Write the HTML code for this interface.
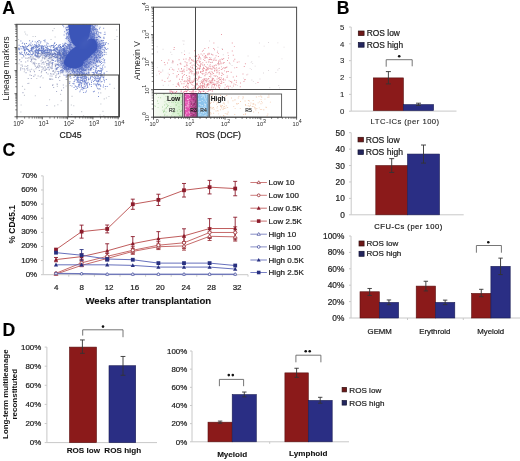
<!DOCTYPE html>
<html><head><meta charset="utf-8"><style>
html,body{margin:0;padding:0;background:#fff;width:520px;height:461px;overflow:hidden}
svg{display:block;filter:blur(0.35px)}
text{font-family:"Liberation Sans", sans-serif}
</style></head><body>
<svg width="520" height="461" viewBox="0 0 520 461" shape-rendering="auto">
<defs><filter id="bl" x="-20%" y="-20%" width="140%" height="140%"><feGaussianBlur stdDeviation="0.7"/></filter><filter id="bl2" x="-30%" y="-30%" width="160%" height="160%"><feGaussianBlur stdDeviation="2.5"/></filter></defs>
<rect width="520" height="461" fill="#fff"/>
<text x="2.20" y="14.00" font-size="17.6" font-weight="bold" fill="#000" stroke="#000" stroke-width="0.1">A</text><defs><clipPath id="cpL"><rect x="17" y="24.3" width="102.5" height="92.5"/></clipPath></defs><g clip-path="url(#cpL)"><path d="M50.5 39.0h1.1v1.1h-1.1zM83.4 31.9h1.1v1.1h-1.1zM71.9 58.4h1.1v1.1h-1.1zM23.8 71.2h1.1v1.1h-1.1zM21.8 64.5h1.1v1.1h-1.1zM25.0 33.5h1.1v1.1h-1.1zM60.7 100.1h1.1v1.1h-1.1zM30.4 45.5h1.1v1.1h-1.1zM81.1 111.1h1.1v1.1h-1.1zM76.0 61.2h1.1v1.1h-1.1zM116.1 29.5h1.1v1.1h-1.1zM104.3 51.5h1.1v1.1h-1.1zM32.5 36.0h1.1v1.1h-1.1zM49.0 99.2h1.1v1.1h-1.1zM36.2 77.9h1.1v1.1h-1.1zM82.2 59.0h1.1v1.1h-1.1zM73.0 31.0h1.1v1.1h-1.1zM24.0 43.9h1.1v1.1h-1.1zM86.4 64.0h1.1v1.1h-1.1zM49.6 78.3h1.1v1.1h-1.1zM63.5 52.4h1.1v1.1h-1.1zM97.8 88.6h1.1v1.1h-1.1zM42.5 77.3h1.1v1.1h-1.1zM70.8 104.5h1.1v1.1h-1.1zM91.3 51.4h1.1v1.1h-1.1zM116.5 36.0h1.1v1.1h-1.1zM60.0 93.8h1.1v1.1h-1.1zM33.3 69.6h1.1v1.1h-1.1zM21.9 85.8h1.1v1.1h-1.1zM94.8 77.2h1.1v1.1h-1.1zM106.0 53.7h1.1v1.1h-1.1zM87.9 79.1h1.1v1.1h-1.1zM76.3 66.6h1.1v1.1h-1.1zM102.4 110.8h1.1v1.1h-1.1zM65.6 85.4h1.1v1.1h-1.1zM24.1 88.8h1.1v1.1h-1.1zM83.0 115.2h1.1v1.1h-1.1zM100.6 51.1h1.1v1.1h-1.1zM56.8 85.8h1.1v1.1h-1.1zM20.3 67.1h1.1v1.1h-1.1zM34.9 35.9h1.1v1.1h-1.1zM23.9 94.8h1.1v1.1h-1.1zM31.0 47.7h1.1v1.1h-1.1zM57.3 104.2h1.1v1.1h-1.1zM26.1 66.0h1.1v1.1h-1.1zM73.2 105.2h1.1v1.1h-1.1zM100.3 103.5h1.1v1.1h-1.1zM46.0 62.9h1.1v1.1h-1.1zM54.1 105.3h1.1v1.1h-1.1zM114.3 39.0h1.1v1.1h-1.1zM35.7 46.3h1.1v1.1h-1.1zM41.5 69.2h1.1v1.1h-1.1zM77.2 49.1h1.1v1.1h-1.1zM18.4 63.2h1.1v1.1h-1.1zM55.1 76.6h1.1v1.1h-1.1zM113.8 87.8h1.1v1.1h-1.1zM69.8 81.2h1.1v1.1h-1.1zM86.0 30.2h1.1v1.1h-1.1zM108.4 95.9h1.1v1.1h-1.1zM105.9 97.5h1.1v1.1h-1.1zM57.4 61.4h1.1v1.1h-1.1zM28.4 82.7h1.1v1.1h-1.1zM24.3 31.4h1.1v1.1h-1.1zM39.0 40.0h1.1v1.1h-1.1zM52.2 30.1h1.1v1.1h-1.1zM18.0 39.0h1.1v1.1h-1.1zM28.2 58.2h1.1v1.1h-1.1zM20.6 104.4h1.1v1.1h-1.1zM79.7 38.7h1.1v1.1h-1.1zM43.4 56.7h1.1v1.1h-1.1zM54.6 36.4h1.1v1.1h-1.1zM103.3 115.2h1.1v1.1h-1.1zM64.8 69.1h1.1v1.1h-1.1zM26.6 34.5h1.1v1.1h-1.1zM52.4 49.3h1.1v1.1h-1.1zM101.3 39.9h1.1v1.1h-1.1zM20.3 111.4h1.1v1.1h-1.1zM71.1 38.6h1.1v1.1h-1.1zM72.6 27.7h1.1v1.1h-1.1zM71.1 113.9h1.1v1.1h-1.1zM104.8 88.3h1.1v1.1h-1.1zM44.2 58.5h1.1v1.1h-1.1zM34.8 95.2h1.1v1.1h-1.1zM71.5 95.8h1.1v1.1h-1.1zM51.1 45.5h1.1v1.1h-1.1zM99.6 114.4h1.1v1.1h-1.1zM103.7 98.3h1.1v1.1h-1.1zM100.2 92.3h1.1v1.1h-1.1zM40.8 72.1h1.1v1.1h-1.1zM53.7 27.9h1.1v1.1h-1.1z" fill="#9098a8" fill-opacity="0.5"/><path d="M22.6 48.4h0.95v0.95h-0.95zM55.5 53.9h0.95v0.95h-0.95zM63.7 43.8h0.95v0.95h-0.95zM64.7 54.6h0.95v0.95h-0.95zM63.7 50.1h0.95v0.95h-0.95zM36.7 51.8h0.95v0.95h-0.95zM35.1 51.2h0.95v0.95h-0.95zM62.1 56.5h0.95v0.95h-0.95zM60.2 46.3h0.95v0.95h-0.95zM59.0 52.1h0.95v0.95h-0.95zM27.9 45.1h0.95v0.95h-0.95zM58.4 44.7h0.95v0.95h-0.95zM57.4 49.1h0.95v0.95h-0.95zM58.6 51.7h0.95v0.95h-0.95zM41.8 53.3h0.95v0.95h-0.95zM44.5 41.3h0.95v0.95h-0.95zM44.8 55.9h0.95v0.95h-0.95zM33.6 47.8h0.95v0.95h-0.95zM30.9 54.0h0.95v0.95h-0.95zM59.2 57.8h0.95v0.95h-0.95zM32.1 54.2h0.95v0.95h-0.95zM54.3 42.2h0.95v0.95h-0.95zM42.6 48.5h0.95v0.95h-0.95zM20.7 48.2h0.95v0.95h-0.95zM64.2 49.2h0.95v0.95h-0.95zM63.1 48.2h0.95v0.95h-0.95zM46.1 55.2h0.95v0.95h-0.95zM35.9 45.0h0.95v0.95h-0.95zM38.0 49.3h0.95v0.95h-0.95zM51.8 53.5h0.95v0.95h-0.95zM38.4 48.3h0.95v0.95h-0.95zM62.4 52.6h0.95v0.95h-0.95zM42.7 45.7h0.95v0.95h-0.95zM62.2 52.9h0.95v0.95h-0.95zM45.5 54.2h0.95v0.95h-0.95zM49.9 48.7h0.95v0.95h-0.95zM49.6 54.6h0.95v0.95h-0.95zM34.3 50.2h0.95v0.95h-0.95zM18.7 49.3h0.95v0.95h-0.95zM47.6 48.5h0.95v0.95h-0.95zM56.6 48.3h0.95v0.95h-0.95zM49.4 49.7h0.95v0.95h-0.95zM50.7 51.2h0.95v0.95h-0.95zM50.9 49.2h0.95v0.95h-0.95zM37.8 48.9h0.95v0.95h-0.95zM49.0 56.8h0.95v0.95h-0.95zM51.0 51.4h0.95v0.95h-0.95zM46.5 42.6h0.95v0.95h-0.95zM52.8 46.7h0.95v0.95h-0.95zM55.5 51.0h0.95v0.95h-0.95zM46.8 46.6h0.95v0.95h-0.95zM63.3 50.9h0.95v0.95h-0.95zM55.7 57.3h0.95v0.95h-0.95zM38.4 44.0h0.95v0.95h-0.95zM50.9 57.3h0.95v0.95h-0.95zM31.6 47.1h0.95v0.95h-0.95zM30.6 48.1h0.95v0.95h-0.95zM37.4 50.4h0.95v0.95h-0.95zM27.0 46.1h0.95v0.95h-0.95zM62.0 46.1h0.95v0.95h-0.95zM32.6 48.5h0.95v0.95h-0.95zM31.9 44.4h0.95v0.95h-0.95zM61.5 54.1h0.95v0.95h-0.95zM63.6 51.2h0.95v0.95h-0.95zM44.6 39.6h0.95v0.95h-0.95zM60.0 52.4h0.95v0.95h-0.95zM33.1 45.7h0.95v0.95h-0.95zM42.1 52.1h0.95v0.95h-0.95zM35.0 47.4h0.95v0.95h-0.95zM21.5 54.1h0.95v0.95h-0.95zM50.7 50.2h0.95v0.95h-0.95zM41.7 50.5h0.95v0.95h-0.95zM53.2 49.7h0.95v0.95h-0.95zM64.6 51.7h0.95v0.95h-0.95zM58.6 53.1h0.95v0.95h-0.95zM38.7 49.7h0.95v0.95h-0.95zM23.9 49.5h0.95v0.95h-0.95zM31.1 46.7h0.95v0.95h-0.95zM45.6 56.2h0.95v0.95h-0.95zM38.3 46.5h0.95v0.95h-0.95zM32.3 53.7h0.95v0.95h-0.95zM55.8 48.9h0.95v0.95h-0.95zM28.3 54.4h0.95v0.95h-0.95zM45.7 52.5h0.95v0.95h-0.95zM26.9 53.9h0.95v0.95h-0.95zM59.0 49.5h0.95v0.95h-0.95zM27.8 50.1h0.95v0.95h-0.95zM60.9 50.5h0.95v0.95h-0.95zM46.9 48.2h0.95v0.95h-0.95zM62.9 55.6h0.95v0.95h-0.95zM38.8 53.1h0.95v0.95h-0.95zM37.3 53.1h0.95v0.95h-0.95zM29.7 50.0h0.95v0.95h-0.95zM35.4 50.8h0.95v0.95h-0.95zM40.9 48.1h0.95v0.95h-0.95zM39.8 55.8h0.95v0.95h-0.95zM48.7 52.2h0.95v0.95h-0.95zM21.3 51.8h0.95v0.95h-0.95zM37.9 55.8h0.95v0.95h-0.95zM50.6 51.4h0.95v0.95h-0.95zM34.7 41.4h0.95v0.95h-0.95zM29.5 50.7h0.95v0.95h-0.95zM59.6 47.6h0.95v0.95h-0.95zM60.1 53.3h0.95v0.95h-0.95zM44.4 44.9h0.95v0.95h-0.95zM64.5 51.6h0.95v0.95h-0.95zM42.2 53.1h0.95v0.95h-0.95zM53.6 46.2h0.95v0.95h-0.95zM44.9 49.8h0.95v0.95h-0.95zM31.1 50.5h0.95v0.95h-0.95zM26.8 49.0h0.95v0.95h-0.95zM33.2 46.9h0.95v0.95h-0.95zM27.9 53.2h0.95v0.95h-0.95zM54.8 45.0h0.95v0.95h-0.95zM39.5 50.2h0.95v0.95h-0.95zM47.1 53.6h0.95v0.95h-0.95zM32.8 47.0h0.95v0.95h-0.95zM63.9 52.7h0.95v0.95h-0.95zM64.2 49.2h0.95v0.95h-0.95zM64.0 51.0h0.95v0.95h-0.95zM40.8 50.1h0.95v0.95h-0.95zM43.9 50.5h0.95v0.95h-0.95zM47.7 48.2h0.95v0.95h-0.95zM48.8 50.7h0.95v0.95h-0.95zM19.0 48.5h0.95v0.95h-0.95zM44.7 52.0h0.95v0.95h-0.95zM24.1 52.0h0.95v0.95h-0.95zM37.0 50.3h0.95v0.95h-0.95zM51.8 45.0h0.95v0.95h-0.95zM54.3 50.0h0.95v0.95h-0.95zM56.3 53.8h0.95v0.95h-0.95zM41.5 47.8h0.95v0.95h-0.95zM64.6 55.2h0.95v0.95h-0.95zM53.8 55.7h0.95v0.95h-0.95zM24.3 52.9h0.95v0.95h-0.95zM53.3 44.5h0.95v0.95h-0.95zM56.9 52.0h0.95v0.95h-0.95zM49.6 49.0h0.95v0.95h-0.95zM48.8 54.0h0.95v0.95h-0.95zM59.8 45.9h0.95v0.95h-0.95zM51.8 55.2h0.95v0.95h-0.95zM55.5 47.8h0.95v0.95h-0.95zM36.9 51.8h0.95v0.95h-0.95zM43.0 50.7h0.95v0.95h-0.95zM29.4 51.7h0.95v0.95h-0.95zM53.3 47.1h0.95v0.95h-0.95zM53.2 49.3h0.95v0.95h-0.95zM18.6 44.8h0.95v0.95h-0.95zM58.9 51.4h0.95v0.95h-0.95zM50.0 46.6h0.95v0.95h-0.95zM54.4 56.5h0.95v0.95h-0.95zM38.0 52.3h0.95v0.95h-0.95zM27.1 48.6h0.95v0.95h-0.95zM35.6 55.6h0.95v0.95h-0.95zM57.1 55.5h0.95v0.95h-0.95zM44.0 49.7h0.95v0.95h-0.95zM47.9 48.2h0.95v0.95h-0.95zM52.9 45.4h0.95v0.95h-0.95zM53.8 52.9h0.95v0.95h-0.95zM38.1 50.9h0.95v0.95h-0.95zM57.2 49.7h0.95v0.95h-0.95zM20.5 53.1h0.95v0.95h-0.95zM25.9 48.5h0.95v0.95h-0.95zM55.5 56.5h0.95v0.95h-0.95zM54.9 50.1h0.95v0.95h-0.95zM47.3 54.8h0.95v0.95h-0.95zM47.4 56.2h0.95v0.95h-0.95zM35.2 54.9h0.95v0.95h-0.95zM64.4 52.4h0.95v0.95h-0.95zM47.1 50.3h0.95v0.95h-0.95zM59.6 55.3h0.95v0.95h-0.95zM38.8 49.2h0.95v0.95h-0.95zM35.8 52.1h0.95v0.95h-0.95zM51.7 50.1h0.95v0.95h-0.95zM31.9 40.7h0.95v0.95h-0.95zM31.3 48.2h0.95v0.95h-0.95zM59.6 44.0h0.95v0.95h-0.95zM55.9 50.8h0.95v0.95h-0.95zM36.9 53.2h0.95v0.95h-0.95zM22.2 46.4h0.95v0.95h-0.95zM18.6 44.7h0.95v0.95h-0.95zM40.4 50.3h0.95v0.95h-0.95zM31.8 47.8h0.95v0.95h-0.95zM60.2 54.1h0.95v0.95h-0.95zM18.1 48.6h0.95v0.95h-0.95zM30.5 42.6h0.95v0.95h-0.95zM62.8 49.9h0.95v0.95h-0.95zM39.8 42.6h0.95v0.95h-0.95zM43.5 40.0h0.95v0.95h-0.95zM51.9 59.2h0.95v0.95h-0.95zM43.0 47.7h0.95v0.95h-0.95zM24.8 50.3h0.95v0.95h-0.95zM29.2 50.9h0.95v0.95h-0.95zM63.1 49.2h0.95v0.95h-0.95zM37.9 49.5h0.95v0.95h-0.95zM34.7 54.0h0.95v0.95h-0.95zM43.6 57.6h0.95v0.95h-0.95zM59.4 49.4h0.95v0.95h-0.95zM53.4 58.4h0.95v0.95h-0.95zM50.5 46.4h0.95v0.95h-0.95zM56.4 56.8h0.95v0.95h-0.95zM46.8 52.4h0.95v0.95h-0.95zM57.5 49.5h0.95v0.95h-0.95zM24.9 46.7h0.95v0.95h-0.95zM62.9 54.5h0.95v0.95h-0.95zM42.3 53.2h0.95v0.95h-0.95zM40.2 49.4h0.95v0.95h-0.95zM38.4 40.2h0.95v0.95h-0.95zM54.3 49.7h0.95v0.95h-0.95zM44.5 54.8h0.95v0.95h-0.95zM33.4 50.9h0.95v0.95h-0.95zM62.2 53.8h0.95v0.95h-0.95zM48.6 52.2h0.95v0.95h-0.95zM64.9 59.5h0.95v0.95h-0.95zM46.7 52.1h0.95v0.95h-0.95zM28.4 51.1h0.95v0.95h-0.95zM42.2 52.5h0.95v0.95h-0.95zM38.3 51.4h0.95v0.95h-0.95zM51.2 55.4h0.95v0.95h-0.95zM45.2 46.6h0.95v0.95h-0.95zM45.3 47.0h0.95v0.95h-0.95zM42.0 49.7h0.95v0.95h-0.95zM26.1 47.5h0.95v0.95h-0.95zM30.8 58.8h0.95v0.95h-0.95zM48.8 45.8h0.95v0.95h-0.95zM36.1 44.6h0.95v0.95h-0.95zM38.9 50.1h0.95v0.95h-0.95zM46.6 54.2h0.95v0.95h-0.95zM63.7 56.0h0.95v0.95h-0.95zM21.8 42.9h0.95v0.95h-0.95zM23.1 47.0h0.95v0.95h-0.95zM47.6 43.2h0.95v0.95h-0.95zM51.9 54.5h0.95v0.95h-0.95zM62.9 51.7h0.95v0.95h-0.95zM59.8 57.4h0.95v0.95h-0.95zM37.8 42.4h0.95v0.95h-0.95zM29.7 51.9h0.95v0.95h-0.95zM55.2 54.8h0.95v0.95h-0.95zM63.3 50.8h0.95v0.95h-0.95zM57.9 46.2h0.95v0.95h-0.95zM47.0 49.6h0.95v0.95h-0.95zM58.4 51.1h0.95v0.95h-0.95zM37.0 54.4h0.95v0.95h-0.95zM40.5 47.6h0.95v0.95h-0.95zM31.0 49.4h0.95v0.95h-0.95zM55.7 56.3h0.95v0.95h-0.95zM29.9 53.4h0.95v0.95h-0.95zM51.7 52.8h0.95v0.95h-0.95zM44.2 51.2h0.95v0.95h-0.95zM20.1 53.5h0.95v0.95h-0.95zM40.4 41.3h0.95v0.95h-0.95zM53.9 53.3h0.95v0.95h-0.95zM61.6 49.0h0.95v0.95h-0.95zM37.7 50.4h0.95v0.95h-0.95zM63.9 50.9h0.95v0.95h-0.95zM21.8 45.9h0.95v0.95h-0.95zM48.6 49.0h0.95v0.95h-0.95zM38.3 46.6h0.95v0.95h-0.95zM54.7 53.4h0.95v0.95h-0.95zM23.3 47.8h0.95v0.95h-0.95zM42.0 45.5h0.95v0.95h-0.95zM35.2 52.4h0.95v0.95h-0.95zM58.9 51.1h0.95v0.95h-0.95zM35.6 45.5h0.95v0.95h-0.95zM64.1 49.3h0.95v0.95h-0.95zM36.9 56.1h0.95v0.95h-0.95zM36.4 50.1h0.95v0.95h-0.95zM63.6 48.8h0.95v0.95h-0.95zM48.5 51.7h0.95v0.95h-0.95zM45.4 52.9h0.95v0.95h-0.95zM54.6 53.1h0.95v0.95h-0.95zM44.4 49.8h0.95v0.95h-0.95zM36.0 51.8h0.95v0.95h-0.95zM25.1 48.7h0.95v0.95h-0.95zM25.9 43.1h0.95v0.95h-0.95zM61.6 56.4h0.95v0.95h-0.95zM56.8 59.6h0.95v0.95h-0.95zM41.6 50.1h0.95v0.95h-0.95zM34.5 55.2h0.95v0.95h-0.95zM23.1 46.6h0.95v0.95h-0.95zM54.6 48.6h0.95v0.95h-0.95zM41.8 52.6h0.95v0.95h-0.95zM33.5 52.6h0.95v0.95h-0.95zM42.6 50.3h0.95v0.95h-0.95zM63.7 58.4h0.95v0.95h-0.95zM35.7 56.3h0.95v0.95h-0.95zM42.9 53.2h0.95v0.95h-0.95zM46.0 44.5h0.95v0.95h-0.95zM24.9 45.6h0.95v0.95h-0.95zM62.6 52.3h0.95v0.95h-0.95zM34.9 44.7h0.95v0.95h-0.95zM22.9 54.7h0.95v0.95h-0.95zM45.1 52.8h0.95v0.95h-0.95zM24.0 43.3h0.95v0.95h-0.95zM23.4 56.4h0.95v0.95h-0.95zM38.2 53.1h0.95v0.95h-0.95zM57.3 54.0h0.95v0.95h-0.95zM39.0 48.1h0.95v0.95h-0.95zM63.8 49.7h0.95v0.95h-0.95zM56.3 49.4h0.95v0.95h-0.95zM41.1 50.1h0.95v0.95h-0.95zM57.6 51.6h0.95v0.95h-0.95zM62.6 45.9h0.95v0.95h-0.95zM22.2 42.4h0.95v0.95h-0.95zM37.1 41.0h0.95v0.95h-0.95zM63.7 53.2h0.95v0.95h-0.95zM44.1 50.4h0.95v0.95h-0.95zM48.4 54.5h0.95v0.95h-0.95zM62.9 54.4h0.95v0.95h-0.95zM57.0 57.2h0.95v0.95h-0.95zM59.7 52.2h0.95v0.95h-0.95zM41.6 45.3h0.95v0.95h-0.95zM41.2 46.1h0.95v0.95h-0.95zM27.5 54.0h0.95v0.95h-0.95zM35.1 49.8h0.95v0.95h-0.95zM26.3 46.4h0.95v0.95h-0.95zM23.3 45.9h0.95v0.95h-0.95zM64.4 50.8h0.95v0.95h-0.95zM61.6 54.4h0.95v0.95h-0.95zM27.9 49.0h0.95v0.95h-0.95zM28.8 43.7h0.95v0.95h-0.95zM46.6 50.6h0.95v0.95h-0.95zM37.1 45.6h0.95v0.95h-0.95zM54.9 53.7h0.95v0.95h-0.95zM57.3 54.4h0.95v0.95h-0.95zM30.5 45.1h0.95v0.95h-0.95zM60.3 50.3h0.95v0.95h-0.95zM43.6 54.8h0.95v0.95h-0.95zM57.0 52.2h0.95v0.95h-0.95zM37.7 52.5h0.95v0.95h-0.95zM32.6 53.1h0.95v0.95h-0.95zM41.5 47.1h0.95v0.95h-0.95zM44.5 54.7h0.95v0.95h-0.95zM36.9 49.7h0.95v0.95h-0.95zM59.3 45.2h0.95v0.95h-0.95zM29.2 40.3h0.95v0.95h-0.95zM47.7 53.6h0.95v0.95h-0.95zM62.5 45.4h0.95v0.95h-0.95zM24.0 48.5h0.95v0.95h-0.95zM34.7 51.5h0.95v0.95h-0.95zM64.2 44.6h0.95v0.95h-0.95zM43.5 46.2h0.95v0.95h-0.95zM61.0 48.9h0.95v0.95h-0.95zM58.3 52.3h0.95v0.95h-0.95zM63.4 55.6h0.95v0.95h-0.95zM53.0 54.0h0.95v0.95h-0.95zM36.2 48.5h0.95v0.95h-0.95zM35.5 51.3h0.95v0.95h-0.95zM38.1 45.7h0.95v0.95h-0.95zM35.5 46.7h0.95v0.95h-0.95zM20.3 46.2h0.95v0.95h-0.95zM34.4 54.5h0.95v0.95h-0.95zM40.9 52.0h0.95v0.95h-0.95zM50.5 57.0h0.95v0.95h-0.95zM26.2 52.0h0.95v0.95h-0.95zM50.5 53.0h0.95v0.95h-0.95zM53.7 52.9h0.95v0.95h-0.95zM55.6 52.4h0.95v0.95h-0.95zM45.1 49.8h0.95v0.95h-0.95zM63.6 54.8h0.95v0.95h-0.95zM40.9 47.1h0.95v0.95h-0.95zM45.4 49.1h0.95v0.95h-0.95zM61.0 55.0h0.95v0.95h-0.95zM35.1 49.7h0.95v0.95h-0.95zM56.7 51.4h0.95v0.95h-0.95zM62.1 52.0h0.95v0.95h-0.95zM45.7 52.1h0.95v0.95h-0.95zM61.5 48.3h0.95v0.95h-0.95zM47.2 50.9h0.95v0.95h-0.95zM50.6 51.4h0.95v0.95h-0.95zM53.7 52.4h0.95v0.95h-0.95zM53.1 50.2h0.95v0.95h-0.95zM43.5 48.3h0.95v0.95h-0.95zM39.5 50.0h0.95v0.95h-0.95zM49.5 52.3h0.95v0.95h-0.95zM48.3 49.9h0.95v0.95h-0.95zM59.1 53.8h0.95v0.95h-0.95zM30.9 49.0h0.95v0.95h-0.95zM63.3 55.8h0.95v0.95h-0.95zM25.3 48.4h0.95v0.95h-0.95zM62.8 45.8h0.95v0.95h-0.95zM53.0 56.1h0.95v0.95h-0.95zM59.8 54.9h0.95v0.95h-0.95zM36.5 55.2h0.95v0.95h-0.95zM44.9 54.3h0.95v0.95h-0.95zM34.3 44.1h0.95v0.95h-0.95zM36.3 46.3h0.95v0.95h-0.95zM44.0 53.0h0.95v0.95h-0.95zM30.7 49.6h0.95v0.95h-0.95zM62.0 57.4h0.95v0.95h-0.95zM24.1 43.4h0.95v0.95h-0.95zM23.8 46.7h0.95v0.95h-0.95zM60.2 55.1h0.95v0.95h-0.95zM50.5 54.1h0.95v0.95h-0.95zM53.3 49.7h0.95v0.95h-0.95zM51.7 54.5h0.95v0.95h-0.95zM45.8 48.4h0.95v0.95h-0.95zM46.3 47.3h0.95v0.95h-0.95zM22.0 45.8h0.95v0.95h-0.95zM37.1 47.1h0.95v0.95h-0.95zM57.8 52.1h0.95v0.95h-0.95zM34.1 45.8h0.95v0.95h-0.95zM47.6 52.1h0.95v0.95h-0.95zM46.0 51.7h0.95v0.95h-0.95zM28.4 45.3h0.95v0.95h-0.95zM24.0 50.5h0.95v0.95h-0.95zM53.6 56.2h0.95v0.95h-0.95zM58.3 54.3h0.95v0.95h-0.95zM49.1 54.8h0.95v0.95h-0.95zM43.8 51.8h0.95v0.95h-0.95zM63.6 56.4h0.95v0.95h-0.95zM64.9 57.2h0.95v0.95h-0.95zM56.8 52.2h0.95v0.95h-0.95zM64.5 49.7h0.95v0.95h-0.95zM48.4 58.4h0.95v0.95h-0.95zM33.3 47.5h0.95v0.95h-0.95zM58.6 52.6h0.95v0.95h-0.95zM42.6 49.7h0.95v0.95h-0.95zM57.6 55.5h0.95v0.95h-0.95zM39.1 56.5h0.95v0.95h-0.95zM59.5 54.1h0.95v0.95h-0.95zM62.7 55.0h0.95v0.95h-0.95zM35.7 49.5h0.95v0.95h-0.95zM41.2 54.5h0.95v0.95h-0.95zM23.6 49.8h0.95v0.95h-0.95zM63.1 53.7h0.95v0.95h-0.95zM55.1 52.9h0.95v0.95h-0.95zM58.5 50.1h0.95v0.95h-0.95zM30.1 44.4h0.95v0.95h-0.95zM43.0 49.3h0.95v0.95h-0.95zM61.2 47.1h0.95v0.95h-0.95zM61.5 50.0h0.95v0.95h-0.95zM29.4 54.4h0.95v0.95h-0.95zM44.5 50.2h0.95v0.95h-0.95zM58.9 50.4h0.95v0.95h-0.95zM51.5 61.9h0.95v0.95h-0.95zM43.0 50.7h0.95v0.95h-0.95zM34.0 45.8h0.95v0.95h-0.95zM57.2 57.7h0.95v0.95h-0.95zM38.1 52.0h0.95v0.95h-0.95zM53.7 55.8h0.95v0.95h-0.95zM54.5 50.6h0.95v0.95h-0.95zM40.9 51.1h0.95v0.95h-0.95zM32.3 49.6h0.95v0.95h-0.95zM52.9 47.1h0.95v0.95h-0.95zM61.9 53.4h0.95v0.95h-0.95zM31.2 50.2h0.95v0.95h-0.95zM21.9 54.0h0.95v0.95h-0.95zM18.4 47.5h0.95v0.95h-0.95zM42.9 51.7h0.95v0.95h-0.95zM36.6 45.7h0.95v0.95h-0.95zM35.5 47.4h0.95v0.95h-0.95zM53.2 49.1h0.95v0.95h-0.95zM63.1 52.0h0.95v0.95h-0.95zM37.6 50.9h0.95v0.95h-0.95zM53.7 52.4h0.95v0.95h-0.95zM61.2 52.3h0.95v0.95h-0.95zM38.6 46.4h0.95v0.95h-0.95zM20.3 45.9h0.95v0.95h-0.95zM42.6 46.6h0.95v0.95h-0.95zM53.9 43.1h0.95v0.95h-0.95zM56.9 54.2h0.95v0.95h-0.95zM37.8 50.8h0.95v0.95h-0.95zM49.9 50.2h0.95v0.95h-0.95zM44.9 50.6h0.95v0.95h-0.95zM58.3 52.6h0.95v0.95h-0.95zM20.4 40.6h0.95v0.95h-0.95zM31.9 46.8h0.95v0.95h-0.95zM35.2 46.4h0.95v0.95h-0.95zM53.8 48.4h0.95v0.95h-0.95zM59.4 52.9h0.95v0.95h-0.95zM40.3 52.9h0.95v0.95h-0.95zM24.8 53.9h0.95v0.95h-0.95zM56.3 47.2h0.95v0.95h-0.95zM19.3 52.0h0.95v0.95h-0.95zM47.3 45.7h0.95v0.95h-0.95zM57.1 48.8h0.95v0.95h-0.95zM29.4 50.1h0.95v0.95h-0.95zM37.0 53.1h0.95v0.95h-0.95zM57.4 52.1h0.95v0.95h-0.95zM55.6 54.4h0.95v0.95h-0.95zM38.7 45.3h0.95v0.95h-0.95zM50.7 45.0h0.95v0.95h-0.95zM49.5 53.3h0.95v0.95h-0.95zM38.7 44.2h0.95v0.95h-0.95zM36.2 42.6h0.95v0.95h-0.95zM61.5 54.4h0.95v0.95h-0.95zM37.2 50.2h0.95v0.95h-0.95zM57.2 56.9h0.95v0.95h-0.95zM41.5 48.2h0.95v0.95h-0.95zM61.5 50.4h0.95v0.95h-0.95zM62.3 54.0h0.95v0.95h-0.95zM53.4 49.2h0.95v0.95h-0.95zM64.4 46.8h0.95v0.95h-0.95zM47.5 53.6h0.95v0.95h-0.95zM60.8 46.9h0.95v0.95h-0.95zM46.2 49.8h0.95v0.95h-0.95zM40.7 45.5h0.95v0.95h-0.95zM35.9 48.8h0.95v0.95h-0.95zM62.4 50.7h0.95v0.95h-0.95zM32.0 51.2h0.95v0.95h-0.95zM62.9 52.0h0.95v0.95h-0.95zM42.3 50.8h0.95v0.95h-0.95zM24.1 49.7h0.95v0.95h-0.95zM55.5 47.5h0.95v0.95h-0.95zM57.0 47.2h0.95v0.95h-0.95zM26.4 46.3h0.95v0.95h-0.95zM59.5 49.6h0.95v0.95h-0.95zM59.6 52.5h0.95v0.95h-0.95zM61.1 50.7h0.95v0.95h-0.95zM62.5 53.3h0.95v0.95h-0.95zM35.6 49.2h0.95v0.95h-0.95zM29.9 56.2h0.95v0.95h-0.95zM59.4 53.0h0.95v0.95h-0.95zM53.5 53.4h0.95v0.95h-0.95zM39.7 45.6h0.95v0.95h-0.95zM29.0 54.3h0.95v0.95h-0.95zM35.5 53.3h0.95v0.95h-0.95zM41.2 49.5h0.95v0.95h-0.95zM38.2 50.3h0.95v0.95h-0.95z" fill="#4560bc" fill-opacity="0.8"/><path d="M42.4 55.1h1.1v1.1h-1.1zM44.3 66.0h1.1v1.1h-1.1zM68.9 81.3h1.1v1.1h-1.1zM57.0 52.7h1.1v1.1h-1.1zM24.5 65.7h1.1v1.1h-1.1zM62.6 60.4h1.1v1.1h-1.1zM45.5 57.2h1.1v1.1h-1.1zM38.8 69.9h1.1v1.1h-1.1zM65.6 75.4h1.1v1.1h-1.1zM36.0 67.0h1.1v1.1h-1.1zM19.0 59.5h1.1v1.1h-1.1zM69.3 76.3h1.1v1.1h-1.1zM20.0 69.4h1.1v1.1h-1.1zM63.4 53.0h1.1v1.1h-1.1zM36.9 65.8h1.1v1.1h-1.1zM64.6 52.5h1.1v1.1h-1.1zM41.2 63.5h1.1v1.1h-1.1zM38.7 56.2h1.1v1.1h-1.1zM60.0 59.2h1.1v1.1h-1.1zM57.7 52.1h1.1v1.1h-1.1zM29.5 57.5h1.1v1.1h-1.1zM63.0 74.5h1.1v1.1h-1.1zM57.3 61.4h1.1v1.1h-1.1zM47.8 64.0h1.1v1.1h-1.1zM66.5 78.9h1.1v1.1h-1.1zM23.7 68.2h1.1v1.1h-1.1zM38.2 54.7h1.1v1.1h-1.1zM52.4 84.2h1.1v1.1h-1.1zM47.1 60.2h1.1v1.1h-1.1zM50.7 59.3h1.1v1.1h-1.1zM53.6 52.7h1.1v1.1h-1.1zM58.0 77.1h1.1v1.1h-1.1zM45.6 56.0h1.1v1.1h-1.1zM64.9 59.7h1.1v1.1h-1.1zM58.6 52.5h1.1v1.1h-1.1zM49.7 61.1h1.1v1.1h-1.1zM62.6 58.8h1.1v1.1h-1.1zM50.7 55.7h1.1v1.1h-1.1zM66.3 52.7h1.1v1.1h-1.1zM43.3 61.8h1.1v1.1h-1.1zM60.1 56.8h1.1v1.1h-1.1zM35.1 59.2h1.1v1.1h-1.1zM40.5 60.4h1.1v1.1h-1.1zM35.4 68.2h1.1v1.1h-1.1zM44.6 67.2h1.1v1.1h-1.1zM61.0 89.8h1.1v1.1h-1.1zM31.2 58.8h1.1v1.1h-1.1zM47.3 53.6h1.1v1.1h-1.1zM69.5 58.8h1.1v1.1h-1.1zM49.6 75.4h1.1v1.1h-1.1zM37.6 56.6h1.1v1.1h-1.1zM38.2 57.4h1.1v1.1h-1.1zM47.5 66.8h1.1v1.1h-1.1zM63.2 55.2h1.1v1.1h-1.1zM59.7 73.2h1.1v1.1h-1.1zM50.8 52.1h1.1v1.1h-1.1zM34.1 64.1h1.1v1.1h-1.1zM61.4 61.3h1.1v1.1h-1.1zM67.1 69.7h1.1v1.1h-1.1zM61.7 60.3h1.1v1.1h-1.1zM49.0 55.2h1.1v1.1h-1.1zM66.2 75.8h1.1v1.1h-1.1zM62.6 61.1h1.1v1.1h-1.1zM59.2 79.9h1.1v1.1h-1.1zM57.8 64.5h1.1v1.1h-1.1zM57.3 55.7h1.1v1.1h-1.1zM30.9 74.9h1.1v1.1h-1.1zM60.5 64.7h1.1v1.1h-1.1zM57.4 52.0h1.1v1.1h-1.1zM50.4 67.7h1.1v1.1h-1.1zM57.1 70.9h1.1v1.1h-1.1zM67.8 64.1h1.1v1.1h-1.1zM36.8 66.7h1.1v1.1h-1.1zM47.5 73.5h1.1v1.1h-1.1zM51.9 56.1h1.1v1.1h-1.1zM54.1 52.7h1.1v1.1h-1.1zM35.4 59.1h1.1v1.1h-1.1zM53.1 86.9h1.1v1.1h-1.1zM31.1 68.7h1.1v1.1h-1.1zM60.6 60.5h1.1v1.1h-1.1zM52.8 70.1h1.1v1.1h-1.1zM53.2 73.6h1.1v1.1h-1.1zM48.5 61.8h1.1v1.1h-1.1zM59.4 55.3h1.1v1.1h-1.1zM47.7 52.6h1.1v1.1h-1.1zM69.5 59.6h1.1v1.1h-1.1zM46.0 63.3h1.1v1.1h-1.1zM48.0 56.2h1.1v1.1h-1.1zM21.9 65.7h1.1v1.1h-1.1zM59.9 59.7h1.1v1.1h-1.1zM45.8 53.0h1.1v1.1h-1.1zM61.5 62.6h1.1v1.1h-1.1zM68.1 62.4h1.1v1.1h-1.1zM63.5 53.8h1.1v1.1h-1.1zM47.6 53.9h1.1v1.1h-1.1zM62.7 59.7h1.1v1.1h-1.1zM63.8 63.2h1.1v1.1h-1.1zM54.8 64.6h1.1v1.1h-1.1zM39.3 65.6h1.1v1.1h-1.1zM57.7 55.2h1.1v1.1h-1.1zM64.1 58.8h1.1v1.1h-1.1zM43.0 67.4h1.1v1.1h-1.1zM54.3 72.1h1.1v1.1h-1.1zM45.9 72.1h1.1v1.1h-1.1zM65.2 53.6h1.1v1.1h-1.1zM40.8 66.5h1.1v1.1h-1.1zM49.2 52.4h1.1v1.1h-1.1zM60.8 53.0h1.1v1.1h-1.1zM42.3 52.4h1.1v1.1h-1.1zM51.5 64.7h1.1v1.1h-1.1zM49.3 66.3h1.1v1.1h-1.1zM46.3 68.7h1.1v1.1h-1.1zM67.7 55.1h1.1v1.1h-1.1zM64.4 56.1h1.1v1.1h-1.1zM67.0 53.8h1.1v1.1h-1.1zM64.5 60.1h1.1v1.1h-1.1zM57.5 54.3h1.1v1.1h-1.1zM68.5 52.2h1.1v1.1h-1.1zM58.4 52.0h1.1v1.1h-1.1zM34.2 58.9h1.1v1.1h-1.1zM39.7 54.3h1.1v1.1h-1.1zM34.8 65.6h1.1v1.1h-1.1zM66.9 54.4h1.1v1.1h-1.1zM66.5 60.8h1.1v1.1h-1.1zM56.6 56.4h1.1v1.1h-1.1zM66.6 73.9h1.1v1.1h-1.1zM63.1 57.3h1.1v1.1h-1.1zM59.7 60.4h1.1v1.1h-1.1zM53.6 52.8h1.1v1.1h-1.1zM66.2 68.1h1.1v1.1h-1.1zM54.5 53.0h1.1v1.1h-1.1zM33.9 62.9h1.1v1.1h-1.1zM52.0 67.7h1.1v1.1h-1.1zM34.3 58.0h1.1v1.1h-1.1zM52.0 70.7h1.1v1.1h-1.1zM65.6 52.2h1.1v1.1h-1.1zM20.6 61.1h1.1v1.1h-1.1zM54.8 66.2h1.1v1.1h-1.1zM58.7 59.8h1.1v1.1h-1.1zM48.8 64.3h1.1v1.1h-1.1zM68.8 71.0h1.1v1.1h-1.1zM57.6 61.7h1.1v1.1h-1.1zM24.2 69.5h1.1v1.1h-1.1zM67.8 66.4h1.1v1.1h-1.1zM44.8 69.8h1.1v1.1h-1.1zM51.7 54.1h1.1v1.1h-1.1zM66.7 75.3h1.1v1.1h-1.1zM57.2 57.0h1.1v1.1h-1.1zM45.2 61.2h1.1v1.1h-1.1zM51.2 62.9h1.1v1.1h-1.1zM53.3 53.3h1.1v1.1h-1.1zM49.6 62.2h1.1v1.1h-1.1zM49.0 78.5h1.1v1.1h-1.1zM42.9 61.4h1.1v1.1h-1.1zM64.4 66.6h1.1v1.1h-1.1zM41.8 62.1h1.1v1.1h-1.1zM52.6 73.6h1.1v1.1h-1.1zM63.2 55.4h1.1v1.1h-1.1zM44.8 57.2h1.1v1.1h-1.1zM55.8 63.5h1.1v1.1h-1.1zM57.6 52.9h1.1v1.1h-1.1zM60.8 56.2h1.1v1.1h-1.1zM66.3 56.6h1.1v1.1h-1.1zM43.3 53.3h1.1v1.1h-1.1zM20.5 64.5h1.1v1.1h-1.1zM56.6 83.5h1.1v1.1h-1.1zM58.5 60.0h1.1v1.1h-1.1zM56.7 83.9h1.1v1.1h-1.1zM56.9 68.2h1.1v1.1h-1.1zM56.1 68.6h1.1v1.1h-1.1zM59.3 57.2h1.1v1.1h-1.1zM50.5 73.6h1.1v1.1h-1.1zM62.2 59.6h1.1v1.1h-1.1zM25.2 57.6h1.1v1.1h-1.1zM62.6 70.8h1.1v1.1h-1.1zM46.6 63.3h1.1v1.1h-1.1zM64.3 56.4h1.1v1.1h-1.1zM41.1 70.8h1.1v1.1h-1.1zM43.4 63.6h1.1v1.1h-1.1zM49.4 58.2h1.1v1.1h-1.1zM57.9 56.6h1.1v1.1h-1.1zM55.0 54.0h1.1v1.1h-1.1zM25.5 72.1h1.1v1.1h-1.1zM55.3 70.6h1.1v1.1h-1.1zM67.4 54.4h1.1v1.1h-1.1zM47.4 52.8h1.1v1.1h-1.1zM56.0 91.0h1.1v1.1h-1.1zM51.3 68.1h1.1v1.1h-1.1zM48.6 69.3h1.1v1.1h-1.1zM38.5 64.9h1.1v1.1h-1.1zM34.8 53.5h1.1v1.1h-1.1zM59.4 52.1h1.1v1.1h-1.1zM32.7 58.3h1.1v1.1h-1.1zM65.8 53.4h1.1v1.1h-1.1zM33.2 75.8h1.1v1.1h-1.1zM40.2 54.7h1.1v1.1h-1.1zM61.2 53.8h1.1v1.1h-1.1zM62.6 56.4h1.1v1.1h-1.1zM60.5 66.9h1.1v1.1h-1.1zM29.8 71.1h1.1v1.1h-1.1zM57.4 56.2h1.1v1.1h-1.1zM67.9 68.1h1.1v1.1h-1.1zM40.9 75.2h1.1v1.1h-1.1zM21.5 57.3h1.1v1.1h-1.1zM22.1 68.2h1.1v1.1h-1.1zM29.4 74.4h1.1v1.1h-1.1zM43.8 53.2h1.1v1.1h-1.1zM65.5 61.0h1.1v1.1h-1.1zM51.7 65.4h1.1v1.1h-1.1zM55.3 57.3h1.1v1.1h-1.1zM49.7 55.7h1.1v1.1h-1.1zM63.4 59.5h1.1v1.1h-1.1zM46.3 65.0h1.1v1.1h-1.1zM48.8 68.7h1.1v1.1h-1.1zM47.4 60.2h1.1v1.1h-1.1zM63.0 87.2h1.1v1.1h-1.1zM55.0 53.4h1.1v1.1h-1.1zM69.2 57.1h1.1v1.1h-1.1zM60.1 58.3h1.1v1.1h-1.1zM56.5 63.9h1.1v1.1h-1.1zM69.3 61.9h1.1v1.1h-1.1zM43.7 69.7h1.1v1.1h-1.1zM49.3 63.1h1.1v1.1h-1.1zM59.4 61.4h1.1v1.1h-1.1zM56.3 73.6h1.1v1.1h-1.1zM42.4 68.5h1.1v1.1h-1.1zM19.1 53.3h1.1v1.1h-1.1zM55.8 67.7h1.1v1.1h-1.1zM64.0 55.4h1.1v1.1h-1.1zM64.6 54.9h1.1v1.1h-1.1zM63.9 65.1h1.1v1.1h-1.1zM41.9 66.5h1.1v1.1h-1.1zM65.2 60.0h1.1v1.1h-1.1zM67.3 73.3h1.1v1.1h-1.1zM45.5 68.4h1.1v1.1h-1.1zM63.4 61.7h1.1v1.1h-1.1zM37.8 52.0h1.1v1.1h-1.1zM39.8 86.8h1.1v1.1h-1.1zM56.5 59.4h1.1v1.1h-1.1zM38.2 67.1h1.1v1.1h-1.1zM40.9 52.2h1.1v1.1h-1.1zM50.6 78.6h1.1v1.1h-1.1zM30.1 61.0h1.1v1.1h-1.1zM39.7 76.2h1.1v1.1h-1.1zM55.5 76.9h1.1v1.1h-1.1zM53.2 70.8h1.1v1.1h-1.1zM51.3 60.2h1.1v1.1h-1.1zM37.3 57.2h1.1v1.1h-1.1zM36.6 56.3h1.1v1.1h-1.1zM54.9 65.6h1.1v1.1h-1.1zM48.1 60.5h1.1v1.1h-1.1zM26.0 52.9h1.1v1.1h-1.1zM69.9 57.0h1.1v1.1h-1.1zM57.5 57.1h1.1v1.1h-1.1zM63.1 63.2h1.1v1.1h-1.1zM45.5 68.8h1.1v1.1h-1.1zM53.1 55.9h1.1v1.1h-1.1zM69.7 52.5h1.1v1.1h-1.1zM65.7 71.3h1.1v1.1h-1.1zM41.3 53.7h1.1v1.1h-1.1zM62.8 84.4h1.1v1.1h-1.1zM62.4 68.3h1.1v1.1h-1.1zM64.1 63.2h1.1v1.1h-1.1zM25.3 54.6h1.1v1.1h-1.1zM37.9 54.6h1.1v1.1h-1.1zM26.7 57.7h1.1v1.1h-1.1zM54.6 63.4h1.1v1.1h-1.1zM68.3 64.1h1.1v1.1h-1.1zM67.1 70.6h1.1v1.1h-1.1zM47.9 59.9h1.1v1.1h-1.1zM32.6 63.2h1.1v1.1h-1.1zM54.9 54.9h1.1v1.1h-1.1zM57.8 73.5h1.1v1.1h-1.1zM47.7 58.0h1.1v1.1h-1.1zM50.1 72.9h1.1v1.1h-1.1zM69.7 84.9h1.1v1.1h-1.1zM39.1 63.2h1.1v1.1h-1.1zM45.8 54.8h1.1v1.1h-1.1zM66.9 75.6h1.1v1.1h-1.1zM26.3 68.1h1.1v1.1h-1.1zM63.0 57.4h1.1v1.1h-1.1zM69.5 72.9h1.1v1.1h-1.1zM27.2 67.4h1.1v1.1h-1.1zM68.1 71.9h1.1v1.1h-1.1zM59.1 58.1h1.1v1.1h-1.1zM62.0 71.1h1.1v1.1h-1.1zM31.5 57.2h1.1v1.1h-1.1zM32.9 62.3h1.1v1.1h-1.1zM51.5 57.4h1.1v1.1h-1.1zM34.2 61.7h1.1v1.1h-1.1zM59.2 75.8h1.1v1.1h-1.1zM37.5 53.9h1.1v1.1h-1.1zM25.1 61.5h1.1v1.1h-1.1zM67.9 56.6h1.1v1.1h-1.1zM65.7 58.3h1.1v1.1h-1.1zM50.1 57.3h1.1v1.1h-1.1zM30.8 78.0h1.1v1.1h-1.1zM57.3 64.5h1.1v1.1h-1.1zM50.3 66.9h1.1v1.1h-1.1zM51.4 75.6h1.1v1.1h-1.1zM57.3 58.6h1.1v1.1h-1.1zM27.3 60.3h1.1v1.1h-1.1zM60.5 59.9h1.1v1.1h-1.1zM65.9 54.8h1.1v1.1h-1.1zM41.5 59.4h1.1v1.1h-1.1zM41.8 56.6h1.1v1.1h-1.1zM64.8 56.6h1.1v1.1h-1.1zM51.9 59.8h1.1v1.1h-1.1zM44.2 58.1h1.1v1.1h-1.1zM69.3 56.2h1.1v1.1h-1.1zM27.3 69.6h1.1v1.1h-1.1zM38.5 65.7h1.1v1.1h-1.1zM51.4 54.6h1.1v1.1h-1.1zM37.9 63.3h1.1v1.1h-1.1zM46.4 105.0h1.1v1.1h-1.1zM67.6 55.0h1.1v1.1h-1.1zM30.9 59.8h1.1v1.1h-1.1zM27.4 83.0h1.1v1.1h-1.1zM60.9 63.2h1.1v1.1h-1.1zM22.4 92.1h1.1v1.1h-1.1zM63.7 56.5h1.1v1.1h-1.1zM19.2 58.9h1.1v1.1h-1.1zM64.6 61.5h1.1v1.1h-1.1zM49.6 53.6h1.1v1.1h-1.1zM67.2 55.9h1.1v1.1h-1.1zM33.9 71.1h1.1v1.1h-1.1zM36.6 55.0h1.1v1.1h-1.1zM37.6 75.5h1.1v1.1h-1.1zM29.4 69.5h1.1v1.1h-1.1zM52.1 62.7h1.1v1.1h-1.1zM41.9 57.6h1.1v1.1h-1.1zM60.3 71.9h1.1v1.1h-1.1zM63.9 60.7h1.1v1.1h-1.1zM28.2 57.0h1.1v1.1h-1.1zM61.1 72.1h1.1v1.1h-1.1zM27.2 65.1h1.1v1.1h-1.1zM63.8 66.7h1.1v1.1h-1.1zM65.7 76.8h1.1v1.1h-1.1zM52.0 84.8h1.1v1.1h-1.1zM51.3 55.2h1.1v1.1h-1.1zM65.9 53.0h1.1v1.1h-1.1zM64.6 61.6h1.1v1.1h-1.1zM46.5 59.5h1.1v1.1h-1.1zM56.1 64.4h1.1v1.1h-1.1zM20.1 68.2h1.1v1.1h-1.1zM52.9 54.0h1.1v1.1h-1.1zM32.6 58.1h1.1v1.1h-1.1zM65.7 78.9h1.1v1.1h-1.1zM44.3 55.5h1.1v1.1h-1.1zM61.8 66.3h1.1v1.1h-1.1zM27.7 78.0h1.1v1.1h-1.1zM52.1 78.7h1.1v1.1h-1.1zM52.9 70.3h1.1v1.1h-1.1zM23.1 55.5h1.1v1.1h-1.1zM69.0 53.6h1.1v1.1h-1.1zM31.3 61.4h1.1v1.1h-1.1zM40.7 53.5h1.1v1.1h-1.1zM30.8 55.4h1.1v1.1h-1.1zM59.9 53.0h1.1v1.1h-1.1zM56.3 54.7h1.1v1.1h-1.1zM55.4 75.1h1.1v1.1h-1.1zM31.3 55.4h1.1v1.1h-1.1zM65.8 52.9h1.1v1.1h-1.1zM32.8 56.5h1.1v1.1h-1.1zM52.0 64.1h1.1v1.1h-1.1zM32.7 52.1h1.1v1.1h-1.1zM48.3 65.1h1.1v1.1h-1.1zM65.5 67.2h1.1v1.1h-1.1zM34.5 74.3h1.1v1.1h-1.1zM35.6 63.0h1.1v1.1h-1.1zM64.4 65.8h1.1v1.1h-1.1zM48.9 57.7h1.1v1.1h-1.1zM64.8 66.9h1.1v1.1h-1.1zM68.1 54.4h1.1v1.1h-1.1zM62.7 57.9h1.1v1.1h-1.1zM45.0 61.4h1.1v1.1h-1.1zM49.6 78.9h1.1v1.1h-1.1zM67.2 55.2h1.1v1.1h-1.1zM64.0 54.9h1.1v1.1h-1.1zM53.0 56.1h1.1v1.1h-1.1z" fill="#7880ac" fill-opacity="0.6"/><path d="M99.6 26.7h0.95v0.95h-0.95zM85.0 38.3h0.95v0.95h-0.95zM80.8 26.1h0.95v0.95h-0.95zM82.6 30.5h0.95v0.95h-0.95zM78.0 34.4h0.95v0.95h-0.95zM88.5 31.5h0.95v0.95h-0.95zM96.1 28.7h0.95v0.95h-0.95zM93.5 27.2h0.95v0.95h-0.95zM86.3 29.8h0.95v0.95h-0.95zM81.8 26.7h0.95v0.95h-0.95zM82.7 26.0h0.95v0.95h-0.95zM70.7 26.8h0.95v0.95h-0.95zM81.4 27.3h0.95v0.95h-0.95zM78.1 30.1h0.95v0.95h-0.95zM90.1 29.2h0.95v0.95h-0.95zM81.8 40.5h0.95v0.95h-0.95zM91.4 37.5h0.95v0.95h-0.95zM92.5 28.7h0.95v0.95h-0.95zM84.2 38.8h0.95v0.95h-0.95zM81.4 30.2h0.95v0.95h-0.95zM87.5 33.6h0.95v0.95h-0.95zM83.2 37.9h0.95v0.95h-0.95zM83.8 36.1h0.95v0.95h-0.95zM92.0 35.6h0.95v0.95h-0.95zM76.5 26.7h0.95v0.95h-0.95zM88.1 41.5h0.95v0.95h-0.95zM77.1 33.1h0.95v0.95h-0.95zM79.4 25.9h0.95v0.95h-0.95zM83.2 35.8h0.95v0.95h-0.95zM86.4 39.3h0.95v0.95h-0.95zM78.6 37.2h0.95v0.95h-0.95zM91.0 31.5h0.95v0.95h-0.95zM88.1 27.1h0.95v0.95h-0.95zM77.9 28.2h0.95v0.95h-0.95zM80.8 51.2h0.95v0.95h-0.95zM81.8 42.6h0.95v0.95h-0.95zM86.3 33.2h0.95v0.95h-0.95zM89.8 25.5h0.95v0.95h-0.95zM91.0 33.6h0.95v0.95h-0.95zM75.1 35.2h0.95v0.95h-0.95zM88.6 34.2h0.95v0.95h-0.95zM95.3 28.1h0.95v0.95h-0.95zM88.3 36.2h0.95v0.95h-0.95zM79.1 39.4h0.95v0.95h-0.95zM87.9 29.1h0.95v0.95h-0.95zM85.4 30.5h0.95v0.95h-0.95zM68.3 31.2h0.95v0.95h-0.95zM78.9 27.8h0.95v0.95h-0.95zM80.0 26.7h0.95v0.95h-0.95zM78.1 33.3h0.95v0.95h-0.95zM84.1 25.3h0.95v0.95h-0.95zM78.6 36.7h0.95v0.95h-0.95zM80.7 35.1h0.95v0.95h-0.95zM78.0 31.0h0.95v0.95h-0.95zM87.2 36.5h0.95v0.95h-0.95zM90.2 38.2h0.95v0.95h-0.95zM82.6 29.5h0.95v0.95h-0.95zM90.0 28.0h0.95v0.95h-0.95zM89.2 29.8h0.95v0.95h-0.95zM72.2 37.9h0.95v0.95h-0.95zM87.0 31.1h0.95v0.95h-0.95zM78.0 27.7h0.95v0.95h-0.95zM94.8 25.2h0.95v0.95h-0.95zM62.4 25.0h0.95v0.95h-0.95zM77.2 30.1h0.95v0.95h-0.95zM82.4 24.6h0.95v0.95h-0.95zM79.5 38.3h0.95v0.95h-0.95zM75.6 44.7h0.95v0.95h-0.95zM90.1 34.9h0.95v0.95h-0.95zM78.2 36.2h0.95v0.95h-0.95zM73.0 24.5h0.95v0.95h-0.95zM92.3 29.2h0.95v0.95h-0.95zM76.5 34.6h0.95v0.95h-0.95zM91.0 30.8h0.95v0.95h-0.95zM73.3 28.6h0.95v0.95h-0.95zM87.7 36.4h0.95v0.95h-0.95zM97.0 29.2h0.95v0.95h-0.95zM81.9 30.7h0.95v0.95h-0.95zM92.8 24.4h0.95v0.95h-0.95zM90.2 26.3h0.95v0.95h-0.95zM88.0 35.8h0.95v0.95h-0.95zM77.3 30.4h0.95v0.95h-0.95zM86.6 35.1h0.95v0.95h-0.95zM72.5 48.8h0.95v0.95h-0.95zM83.7 29.4h0.95v0.95h-0.95zM75.3 37.5h0.95v0.95h-0.95zM81.5 41.0h0.95v0.95h-0.95zM90.5 31.1h0.95v0.95h-0.95zM82.9 27.0h0.95v0.95h-0.95zM76.7 31.1h0.95v0.95h-0.95zM84.1 41.0h0.95v0.95h-0.95zM63.2 26.3h0.95v0.95h-0.95zM79.0 27.8h0.95v0.95h-0.95zM87.7 33.8h0.95v0.95h-0.95zM85.2 27.7h0.95v0.95h-0.95zM88.2 33.5h0.95v0.95h-0.95zM73.0 29.2h0.95v0.95h-0.95zM86.0 31.4h0.95v0.95h-0.95zM85.7 24.9h0.95v0.95h-0.95zM83.7 24.6h0.95v0.95h-0.95zM87.5 35.8h0.95v0.95h-0.95zM96.4 39.9h0.95v0.95h-0.95zM79.8 27.8h0.95v0.95h-0.95zM78.9 33.1h0.95v0.95h-0.95zM97.9 36.0h0.95v0.95h-0.95zM76.6 34.6h0.95v0.95h-0.95zM85.0 33.1h0.95v0.95h-0.95zM96.6 25.2h0.95v0.95h-0.95zM79.5 44.8h0.95v0.95h-0.95zM87.2 25.5h0.95v0.95h-0.95zM69.1 31.5h0.95v0.95h-0.95zM85.3 38.0h0.95v0.95h-0.95zM84.1 26.1h0.95v0.95h-0.95zM80.2 44.3h0.95v0.95h-0.95zM73.5 32.2h0.95v0.95h-0.95zM85.2 35.3h0.95v0.95h-0.95zM82.4 34.5h0.95v0.95h-0.95zM90.3 30.0h0.95v0.95h-0.95zM82.0 29.7h0.95v0.95h-0.95zM78.7 29.5h0.95v0.95h-0.95zM83.0 32.5h0.95v0.95h-0.95zM93.7 40.2h0.95v0.95h-0.95zM82.1 35.2h0.95v0.95h-0.95zM86.9 36.3h0.95v0.95h-0.95zM85.1 32.9h0.95v0.95h-0.95zM82.0 25.5h0.95v0.95h-0.95zM90.7 40.1h0.95v0.95h-0.95zM89.3 34.1h0.95v0.95h-0.95zM86.7 27.8h0.95v0.95h-0.95zM73.4 35.6h0.95v0.95h-0.95zM86.3 27.1h0.95v0.95h-0.95zM78.7 39.9h0.95v0.95h-0.95zM73.3 43.3h0.95v0.95h-0.95zM89.2 47.6h0.95v0.95h-0.95zM80.3 30.8h0.95v0.95h-0.95zM81.7 32.1h0.95v0.95h-0.95zM83.6 25.8h0.95v0.95h-0.95zM92.0 25.5h0.95v0.95h-0.95zM81.7 34.9h0.95v0.95h-0.95zM81.5 28.0h0.95v0.95h-0.95zM87.3 28.4h0.95v0.95h-0.95zM76.9 30.3h0.95v0.95h-0.95zM83.6 42.9h0.95v0.95h-0.95zM77.9 37.8h0.95v0.95h-0.95zM79.9 28.5h0.95v0.95h-0.95zM82.9 32.9h0.95v0.95h-0.95zM90.6 43.2h0.95v0.95h-0.95zM80.9 40.3h0.95v0.95h-0.95zM91.5 36.7h0.95v0.95h-0.95zM80.1 37.3h0.95v0.95h-0.95zM84.3 33.5h0.95v0.95h-0.95zM83.3 35.6h0.95v0.95h-0.95zM92.2 38.9h0.95v0.95h-0.95zM83.7 38.0h0.95v0.95h-0.95zM94.4 24.5h0.95v0.95h-0.95zM88.5 35.2h0.95v0.95h-0.95zM94.6 33.0h0.95v0.95h-0.95zM81.9 25.4h0.95v0.95h-0.95zM76.9 36.4h0.95v0.95h-0.95zM83.5 26.0h0.95v0.95h-0.95zM88.5 25.6h0.95v0.95h-0.95zM82.2 27.8h0.95v0.95h-0.95zM95.8 41.2h0.95v0.95h-0.95zM86.8 31.5h0.95v0.95h-0.95zM87.3 35.0h0.95v0.95h-0.95zM82.9 37.5h0.95v0.95h-0.95zM90.4 32.5h0.95v0.95h-0.95zM82.4 27.6h0.95v0.95h-0.95zM84.0 25.8h0.95v0.95h-0.95zM75.9 35.2h0.95v0.95h-0.95zM84.8 31.3h0.95v0.95h-0.95zM84.6 33.0h0.95v0.95h-0.95zM89.7 32.5h0.95v0.95h-0.95zM93.8 39.0h0.95v0.95h-0.95zM88.6 46.0h0.95v0.95h-0.95zM85.0 28.0h0.95v0.95h-0.95zM82.8 24.4h0.95v0.95h-0.95zM84.5 34.0h0.95v0.95h-0.95zM91.4 28.6h0.95v0.95h-0.95zM94.0 26.4h0.95v0.95h-0.95zM80.1 25.5h0.95v0.95h-0.95zM94.5 34.6h0.95v0.95h-0.95zM78.0 34.6h0.95v0.95h-0.95zM88.1 29.4h0.95v0.95h-0.95zM85.1 28.9h0.95v0.95h-0.95zM84.4 39.8h0.95v0.95h-0.95zM94.1 29.1h0.95v0.95h-0.95zM80.3 29.6h0.95v0.95h-0.95zM90.7 33.4h0.95v0.95h-0.95zM81.3 33.5h0.95v0.95h-0.95zM83.7 34.5h0.95v0.95h-0.95zM85.4 36.2h0.95v0.95h-0.95zM78.0 30.3h0.95v0.95h-0.95zM90.6 28.4h0.95v0.95h-0.95zM80.9 44.9h0.95v0.95h-0.95zM90.3 38.0h0.95v0.95h-0.95zM79.0 42.1h0.95v0.95h-0.95zM74.5 27.5h0.95v0.95h-0.95zM89.7 40.1h0.95v0.95h-0.95zM79.1 26.5h0.95v0.95h-0.95zM89.0 34.8h0.95v0.95h-0.95zM82.2 34.7h0.95v0.95h-0.95zM89.9 33.1h0.95v0.95h-0.95zM88.3 41.3h0.95v0.95h-0.95zM82.0 32.1h0.95v0.95h-0.95zM81.7 38.0h0.95v0.95h-0.95zM82.4 34.2h0.95v0.95h-0.95zM85.9 31.5h0.95v0.95h-0.95zM95.8 30.4h0.95v0.95h-0.95zM93.9 36.6h0.95v0.95h-0.95zM93.3 29.9h0.95v0.95h-0.95zM90.8 36.1h0.95v0.95h-0.95zM81.1 32.8h0.95v0.95h-0.95zM84.2 30.8h0.95v0.95h-0.95zM93.2 26.1h0.95v0.95h-0.95zM82.2 26.6h0.95v0.95h-0.95zM85.1 34.8h0.95v0.95h-0.95zM96.0 33.1h0.95v0.95h-0.95zM87.9 26.0h0.95v0.95h-0.95zM88.6 40.2h0.95v0.95h-0.95zM90.6 41.7h0.95v0.95h-0.95zM83.1 35.0h0.95v0.95h-0.95zM87.6 25.5h0.95v0.95h-0.95zM79.4 37.5h0.95v0.95h-0.95zM76.6 40.7h0.95v0.95h-0.95zM85.1 33.0h0.95v0.95h-0.95zM76.7 27.0h0.95v0.95h-0.95zM77.4 31.3h0.95v0.95h-0.95zM88.0 35.9h0.95v0.95h-0.95zM82.7 29.6h0.95v0.95h-0.95zM83.5 27.1h0.95v0.95h-0.95zM68.9 37.5h0.95v0.95h-0.95zM86.6 32.1h0.95v0.95h-0.95zM81.1 32.7h0.95v0.95h-0.95zM84.9 30.5h0.95v0.95h-0.95zM83.0 41.1h0.95v0.95h-0.95zM78.2 30.3h0.95v0.95h-0.95zM81.3 37.4h0.95v0.95h-0.95zM88.2 28.6h0.95v0.95h-0.95zM83.0 38.3h0.95v0.95h-0.95zM79.5 28.5h0.95v0.95h-0.95zM85.9 33.8h0.95v0.95h-0.95zM81.8 38.0h0.95v0.95h-0.95zM99.0 28.3h0.95v0.95h-0.95zM93.8 28.7h0.95v0.95h-0.95zM85.9 28.7h0.95v0.95h-0.95zM82.5 39.7h0.95v0.95h-0.95zM92.1 28.7h0.95v0.95h-0.95zM81.7 26.3h0.95v0.95h-0.95zM77.5 43.1h0.95v0.95h-0.95zM89.1 31.8h0.95v0.95h-0.95zM93.2 36.2h0.95v0.95h-0.95zM79.1 37.6h0.95v0.95h-0.95zM78.1 35.3h0.95v0.95h-0.95zM79.0 28.2h0.95v0.95h-0.95zM88.1 33.9h0.95v0.95h-0.95zM91.3 25.4h0.95v0.95h-0.95zM94.9 40.0h0.95v0.95h-0.95zM84.9 34.1h0.95v0.95h-0.95zM80.1 30.0h0.95v0.95h-0.95zM76.8 31.6h0.95v0.95h-0.95zM86.2 40.0h0.95v0.95h-0.95zM90.9 36.5h0.95v0.95h-0.95zM82.7 29.5h0.95v0.95h-0.95zM82.9 32.5h0.95v0.95h-0.95zM73.0 36.2h0.95v0.95h-0.95zM75.2 27.5h0.95v0.95h-0.95zM85.1 27.5h0.95v0.95h-0.95zM95.4 30.3h0.95v0.95h-0.95zM94.8 38.9h0.95v0.95h-0.95zM81.9 33.7h0.95v0.95h-0.95zM93.1 28.8h0.95v0.95h-0.95zM85.6 27.2h0.95v0.95h-0.95zM85.4 28.6h0.95v0.95h-0.95zM85.5 37.7h0.95v0.95h-0.95zM93.7 31.9h0.95v0.95h-0.95zM86.3 36.8h0.95v0.95h-0.95zM91.9 24.7h0.95v0.95h-0.95zM90.8 24.5h0.95v0.95h-0.95zM90.3 41.1h0.95v0.95h-0.95zM79.0 41.0h0.95v0.95h-0.95zM89.5 35.7h0.95v0.95h-0.95zM84.7 28.9h0.95v0.95h-0.95zM82.6 29.1h0.95v0.95h-0.95zM73.8 27.2h0.95v0.95h-0.95zM96.2 41.4h0.95v0.95h-0.95zM82.7 26.2h0.95v0.95h-0.95zM87.5 38.1h0.95v0.95h-0.95zM86.0 31.9h0.95v0.95h-0.95zM94.0 39.0h0.95v0.95h-0.95zM88.3 39.2h0.95v0.95h-0.95zM82.5 41.3h0.95v0.95h-0.95zM82.3 33.7h0.95v0.95h-0.95zM90.7 24.9h0.95v0.95h-0.95zM86.0 30.6h0.95v0.95h-0.95zM83.0 34.3h0.95v0.95h-0.95zM71.8 30.8h0.95v0.95h-0.95zM85.5 29.2h0.95v0.95h-0.95zM90.0 42.8h0.95v0.95h-0.95zM82.2 24.7h0.95v0.95h-0.95zM81.2 31.6h0.95v0.95h-0.95zM88.7 25.2h0.95v0.95h-0.95zM90.2 33.9h0.95v0.95h-0.95zM87.9 45.5h0.95v0.95h-0.95zM83.4 29.9h0.95v0.95h-0.95zM88.0 36.8h0.95v0.95h-0.95zM76.6 32.8h0.95v0.95h-0.95zM80.4 35.2h0.95v0.95h-0.95zM93.5 31.3h0.95v0.95h-0.95zM84.3 32.2h0.95v0.95h-0.95zM66.6 36.2h0.95v0.95h-0.95zM88.5 32.1h0.95v0.95h-0.95zM82.5 26.1h0.95v0.95h-0.95zM83.9 39.2h0.95v0.95h-0.95zM84.4 40.1h0.95v0.95h-0.95zM69.0 27.9h0.95v0.95h-0.95zM86.7 30.9h0.95v0.95h-0.95zM74.6 26.5h0.95v0.95h-0.95zM81.6 35.3h0.95v0.95h-0.95zM94.1 27.0h0.95v0.95h-0.95zM81.3 42.2h0.95v0.95h-0.95zM81.0 26.1h0.95v0.95h-0.95zM78.7 28.8h0.95v0.95h-0.95zM90.5 33.4h0.95v0.95h-0.95zM76.4 49.7h0.95v0.95h-0.95zM78.8 31.8h0.95v0.95h-0.95zM85.2 36.1h0.95v0.95h-0.95zM83.0 34.1h0.95v0.95h-0.95zM98.1 31.6h0.95v0.95h-0.95zM78.2 33.2h0.95v0.95h-0.95zM80.0 28.5h0.95v0.95h-0.95zM86.2 33.3h0.95v0.95h-0.95zM83.2 36.7h0.95v0.95h-0.95zM90.5 28.6h0.95v0.95h-0.95zM92.6 26.6h0.95v0.95h-0.95zM88.6 33.1h0.95v0.95h-0.95zM78.0 40.5h0.95v0.95h-0.95zM73.2 37.1h0.95v0.95h-0.95zM91.8 34.3h0.95v0.95h-0.95zM89.2 27.7h0.95v0.95h-0.95zM84.9 32.5h0.95v0.95h-0.95zM87.6 35.8h0.95v0.95h-0.95zM83.7 26.3h0.95v0.95h-0.95zM81.5 33.8h0.95v0.95h-0.95zM82.4 27.3h0.95v0.95h-0.95zM82.9 29.3h0.95v0.95h-0.95zM83.1 34.2h0.95v0.95h-0.95zM88.1 39.0h0.95v0.95h-0.95zM89.0 28.7h0.95v0.95h-0.95zM80.0 41.3h0.95v0.95h-0.95zM81.1 25.3h0.95v0.95h-0.95zM82.5 25.3h0.95v0.95h-0.95zM91.3 33.6h0.95v0.95h-0.95zM93.8 33.8h0.95v0.95h-0.95zM81.2 38.0h0.95v0.95h-0.95zM80.9 27.9h0.95v0.95h-0.95zM84.0 31.3h0.95v0.95h-0.95zM92.5 26.9h0.95v0.95h-0.95zM87.2 30.8h0.95v0.95h-0.95zM83.6 33.7h0.95v0.95h-0.95zM87.0 34.2h0.95v0.95h-0.95zM85.3 28.0h0.95v0.95h-0.95zM76.6 28.8h0.95v0.95h-0.95zM76.0 27.5h0.95v0.95h-0.95zM80.3 27.3h0.95v0.95h-0.95zM84.7 25.6h0.95v0.95h-0.95zM85.9 25.1h0.95v0.95h-0.95zM80.0 32.6h0.95v0.95h-0.95zM69.7 28.6h0.95v0.95h-0.95zM85.6 31.7h0.95v0.95h-0.95zM75.6 32.5h0.95v0.95h-0.95zM85.9 24.4h0.95v0.95h-0.95zM89.7 30.7h0.95v0.95h-0.95zM85.1 28.0h0.95v0.95h-0.95zM88.4 31.7h0.95v0.95h-0.95zM92.1 34.1h0.95v0.95h-0.95zM81.1 29.5h0.95v0.95h-0.95zM90.8 28.5h0.95v0.95h-0.95zM87.4 34.5h0.95v0.95h-0.95zM85.8 32.4h0.95v0.95h-0.95zM85.9 25.9h0.95v0.95h-0.95zM92.6 30.1h0.95v0.95h-0.95zM81.1 26.1h0.95v0.95h-0.95zM78.7 44.5h0.95v0.95h-0.95zM93.2 38.1h0.95v0.95h-0.95zM93.6 35.0h0.95v0.95h-0.95zM74.4 39.1h0.95v0.95h-0.95zM92.8 34.3h0.95v0.95h-0.95zM72.7 39.4h0.95v0.95h-0.95zM93.6 27.7h0.95v0.95h-0.95zM85.8 36.3h0.95v0.95h-0.95zM84.5 38.4h0.95v0.95h-0.95zM85.5 35.7h0.95v0.95h-0.95zM78.7 52.5h0.95v0.95h-0.95zM86.8 39.9h0.95v0.95h-0.95zM92.2 42.6h0.95v0.95h-0.95zM88.5 27.0h0.95v0.95h-0.95zM83.8 37.2h0.95v0.95h-0.95zM71.4 32.3h0.95v0.95h-0.95zM90.2 40.0h0.95v0.95h-0.95zM79.2 26.6h0.95v0.95h-0.95zM88.4 45.1h0.95v0.95h-0.95zM77.8 40.4h0.95v0.95h-0.95zM87.7 27.6h0.95v0.95h-0.95zM84.6 32.5h0.95v0.95h-0.95zM98.4 43.2h0.95v0.95h-0.95zM99.3 31.9h0.95v0.95h-0.95zM91.2 40.3h0.95v0.95h-0.95zM88.2 33.4h0.95v0.95h-0.95zM83.8 28.2h0.95v0.95h-0.95zM77.2 44.3h0.95v0.95h-0.95zM86.7 30.8h0.95v0.95h-0.95zM86.1 43.3h0.95v0.95h-0.95zM84.3 29.2h0.95v0.95h-0.95zM80.3 30.8h0.95v0.95h-0.95zM82.2 32.4h0.95v0.95h-0.95zM104.7 33.7h0.95v0.95h-0.95zM79.6 44.1h0.95v0.95h-0.95zM90.5 36.6h0.95v0.95h-0.95zM89.5 36.6h0.95v0.95h-0.95zM89.3 40.6h0.95v0.95h-0.95zM91.4 40.2h0.95v0.95h-0.95zM81.8 31.0h0.95v0.95h-0.95zM80.4 37.5h0.95v0.95h-0.95zM90.3 27.8h0.95v0.95h-0.95zM88.7 48.9h0.95v0.95h-0.95zM84.4 35.3h0.95v0.95h-0.95zM84.8 33.6h0.95v0.95h-0.95zM92.5 33.2h0.95v0.95h-0.95zM78.1 35.9h0.95v0.95h-0.95zM84.4 31.8h0.95v0.95h-0.95zM77.1 28.6h0.95v0.95h-0.95zM80.4 34.6h0.95v0.95h-0.95zM69.7 40.1h0.95v0.95h-0.95zM80.1 35.5h0.95v0.95h-0.95zM82.0 33.1h0.95v0.95h-0.95zM85.7 31.0h0.95v0.95h-0.95zM84.7 40.6h0.95v0.95h-0.95zM81.5 34.6h0.95v0.95h-0.95zM86.0 34.3h0.95v0.95h-0.95zM86.7 29.8h0.95v0.95h-0.95zM83.0 25.2h0.95v0.95h-0.95zM78.0 48.1h0.95v0.95h-0.95zM95.8 31.1h0.95v0.95h-0.95zM89.7 24.3h0.95v0.95h-0.95zM85.9 40.8h0.95v0.95h-0.95zM76.2 29.4h0.95v0.95h-0.95zM82.5 25.5h0.95v0.95h-0.95zM79.4 24.7h0.95v0.95h-0.95zM86.5 40.5h0.95v0.95h-0.95zM83.7 46.3h0.95v0.95h-0.95zM74.8 32.9h0.95v0.95h-0.95zM77.7 29.9h0.95v0.95h-0.95zM85.6 34.8h0.95v0.95h-0.95zM92.2 27.2h0.95v0.95h-0.95zM77.1 29.7h0.95v0.95h-0.95zM86.9 26.2h0.95v0.95h-0.95zM90.7 42.5h0.95v0.95h-0.95zM76.0 33.5h0.95v0.95h-0.95zM86.3 29.5h0.95v0.95h-0.95zM76.0 40.0h0.95v0.95h-0.95zM86.4 27.7h0.95v0.95h-0.95zM87.8 35.4h0.95v0.95h-0.95zM89.9 35.0h0.95v0.95h-0.95zM82.3 31.9h0.95v0.95h-0.95zM67.5 45.5h0.95v0.95h-0.95zM73.5 32.7h0.95v0.95h-0.95zM85.2 27.0h0.95v0.95h-0.95zM82.4 24.9h0.95v0.95h-0.95zM80.3 30.3h0.95v0.95h-0.95zM80.9 35.6h0.95v0.95h-0.95zM84.1 31.9h0.95v0.95h-0.95zM87.6 39.7h0.95v0.95h-0.95zM88.8 32.6h0.95v0.95h-0.95zM84.0 25.5h0.95v0.95h-0.95zM82.8 35.7h0.95v0.95h-0.95zM86.4 28.4h0.95v0.95h-0.95zM87.0 38.0h0.95v0.95h-0.95zM83.7 32.5h0.95v0.95h-0.95zM79.2 33.4h0.95v0.95h-0.95zM83.7 25.3h0.95v0.95h-0.95zM77.1 36.5h0.95v0.95h-0.95zM87.3 24.9h0.95v0.95h-0.95zM78.6 37.1h0.95v0.95h-0.95zM88.8 28.9h0.95v0.95h-0.95zM95.1 29.0h0.95v0.95h-0.95zM78.3 38.4h0.95v0.95h-0.95zM83.8 33.4h0.95v0.95h-0.95zM77.5 29.7h0.95v0.95h-0.95zM93.6 32.5h0.95v0.95h-0.95zM78.0 32.8h0.95v0.95h-0.95zM88.6 24.9h0.95v0.95h-0.95zM71.5 33.4h0.95v0.95h-0.95zM78.0 34.0h0.95v0.95h-0.95zM72.9 30.0h0.95v0.95h-0.95zM83.5 32.2h0.95v0.95h-0.95zM88.4 34.3h0.95v0.95h-0.95zM95.6 37.0h0.95v0.95h-0.95zM87.2 32.8h0.95v0.95h-0.95zM94.2 34.6h0.95v0.95h-0.95zM94.4 34.6h0.95v0.95h-0.95zM77.5 35.6h0.95v0.95h-0.95zM97.0 30.8h0.95v0.95h-0.95zM87.5 28.2h0.95v0.95h-0.95zM81.0 38.3h0.95v0.95h-0.95zM104.4 31.8h0.95v0.95h-0.95zM84.2 36.4h0.95v0.95h-0.95zM83.1 36.0h0.95v0.95h-0.95zM78.2 30.5h0.95v0.95h-0.95zM90.3 32.9h0.95v0.95h-0.95zM88.1 26.8h0.95v0.95h-0.95zM85.6 33.2h0.95v0.95h-0.95zM78.9 29.4h0.95v0.95h-0.95zM77.7 32.8h0.95v0.95h-0.95zM79.6 27.6h0.95v0.95h-0.95zM86.4 26.6h0.95v0.95h-0.95zM92.2 26.7h0.95v0.95h-0.95zM90.4 32.9h0.95v0.95h-0.95zM78.5 29.5h0.95v0.95h-0.95zM79.7 28.5h0.95v0.95h-0.95zM83.3 43.3h0.95v0.95h-0.95zM82.4 41.6h0.95v0.95h-0.95zM70.4 35.6h0.95v0.95h-0.95zM72.5 35.9h0.95v0.95h-0.95zM91.5 33.6h0.95v0.95h-0.95zM83.7 29.3h0.95v0.95h-0.95zM86.6 28.9h0.95v0.95h-0.95zM81.6 28.5h0.95v0.95h-0.95zM92.4 26.8h0.95v0.95h-0.95zM83.8 35.6h0.95v0.95h-0.95zM86.9 27.7h0.95v0.95h-0.95zM88.8 28.6h0.95v0.95h-0.95zM87.3 32.9h0.95v0.95h-0.95zM76.8 36.2h0.95v0.95h-0.95zM84.3 46.2h0.95v0.95h-0.95zM83.5 27.3h0.95v0.95h-0.95zM94.4 34.8h0.95v0.95h-0.95zM96.9 34.5h0.95v0.95h-0.95zM83.7 35.9h0.95v0.95h-0.95zM80.0 28.0h0.95v0.95h-0.95zM81.5 29.5h0.95v0.95h-0.95zM89.9 27.7h0.95v0.95h-0.95zM87.0 27.6h0.95v0.95h-0.95zM83.7 32.1h0.95v0.95h-0.95zM78.2 37.9h0.95v0.95h-0.95zM86.4 39.7h0.95v0.95h-0.95zM91.0 35.3h0.95v0.95h-0.95zM83.6 27.9h0.95v0.95h-0.95zM86.6 27.9h0.95v0.95h-0.95zM92.4 27.8h0.95v0.95h-0.95zM83.5 37.3h0.95v0.95h-0.95zM87.6 29.7h0.95v0.95h-0.95zM72.1 32.3h0.95v0.95h-0.95zM78.4 26.0h0.95v0.95h-0.95zM88.0 33.0h0.95v0.95h-0.95zM83.2 45.7h0.95v0.95h-0.95zM87.6 26.9h0.95v0.95h-0.95zM86.5 30.2h0.95v0.95h-0.95zM76.3 45.0h0.95v0.95h-0.95zM83.8 29.1h0.95v0.95h-0.95zM81.5 37.6h0.95v0.95h-0.95zM85.2 42.5h0.95v0.95h-0.95zM89.9 42.1h0.95v0.95h-0.95zM84.3 33.5h0.95v0.95h-0.95zM82.3 29.9h0.95v0.95h-0.95zM74.1 27.1h0.95v0.95h-0.95zM79.0 26.6h0.95v0.95h-0.95zM92.6 32.8h0.95v0.95h-0.95zM92.7 36.8h0.95v0.95h-0.95zM90.8 37.8h0.95v0.95h-0.95zM81.2 36.4h0.95v0.95h-0.95zM83.0 27.4h0.95v0.95h-0.95zM92.5 45.6h0.95v0.95h-0.95zM78.9 42.7h0.95v0.95h-0.95zM90.2 25.3h0.95v0.95h-0.95zM86.7 33.5h0.95v0.95h-0.95zM87.4 28.6h0.95v0.95h-0.95zM76.9 31.2h0.95v0.95h-0.95zM90.4 36.3h0.95v0.95h-0.95zM89.1 38.4h0.95v0.95h-0.95zM78.8 30.7h0.95v0.95h-0.95zM87.1 37.7h0.95v0.95h-0.95zM86.0 34.5h0.95v0.95h-0.95zM85.8 45.2h0.95v0.95h-0.95zM71.3 30.8h0.95v0.95h-0.95zM100.5 32.6h0.95v0.95h-0.95zM73.5 31.9h0.95v0.95h-0.95zM76.0 26.4h0.95v0.95h-0.95zM86.4 42.6h0.95v0.95h-0.95zM87.9 35.5h0.95v0.95h-0.95zM91.4 32.4h0.95v0.95h-0.95zM79.6 30.3h0.95v0.95h-0.95zM87.1 29.1h0.95v0.95h-0.95zM80.8 28.6h0.95v0.95h-0.95zM84.4 28.6h0.95v0.95h-0.95zM85.2 40.5h0.95v0.95h-0.95zM86.9 30.8h0.95v0.95h-0.95zM87.4 25.1h0.95v0.95h-0.95zM85.8 30.5h0.95v0.95h-0.95zM91.2 28.4h0.95v0.95h-0.95zM92.0 48.7h0.95v0.95h-0.95zM94.3 58.4h0.95v0.95h-0.95zM92.6 43.4h0.95v0.95h-0.95zM92.3 50.2h0.95v0.95h-0.95zM95.2 51.7h0.95v0.95h-0.95zM86.7 63.7h0.95v0.95h-0.95zM103.7 46.8h0.95v0.95h-0.95zM87.6 48.0h0.95v0.95h-0.95zM96.2 32.0h0.95v0.95h-0.95zM94.1 37.0h0.95v0.95h-0.95zM96.4 56.3h0.95v0.95h-0.95zM99.5 36.9h0.95v0.95h-0.95zM101.3 53.1h0.95v0.95h-0.95zM92.1 50.4h0.95v0.95h-0.95zM102.0 44.8h0.95v0.95h-0.95zM93.9 43.2h0.95v0.95h-0.95zM100.1 32.5h0.95v0.95h-0.95zM101.5 40.5h0.95v0.95h-0.95zM98.9 36.1h0.95v0.95h-0.95zM89.0 43.0h0.95v0.95h-0.95zM98.4 36.1h0.95v0.95h-0.95zM97.2 42.7h0.95v0.95h-0.95zM100.6 44.9h0.95v0.95h-0.95zM96.6 45.8h0.95v0.95h-0.95zM103.5 44.6h0.95v0.95h-0.95zM93.9 60.4h0.95v0.95h-0.95zM94.4 51.6h0.95v0.95h-0.95zM90.1 48.3h0.95v0.95h-0.95zM82.0 47.7h0.95v0.95h-0.95zM90.6 36.9h0.95v0.95h-0.95zM86.5 54.7h0.95v0.95h-0.95zM96.3 36.8h0.95v0.95h-0.95zM103.6 42.3h0.95v0.95h-0.95zM92.0 48.7h0.95v0.95h-0.95zM88.0 36.1h0.95v0.95h-0.95zM90.1 55.0h0.95v0.95h-0.95zM99.0 36.4h0.95v0.95h-0.95zM100.4 47.2h0.95v0.95h-0.95zM96.6 47.3h0.95v0.95h-0.95zM96.2 40.3h0.95v0.95h-0.95zM89.2 42.3h0.95v0.95h-0.95zM92.1 51.2h0.95v0.95h-0.95zM87.6 57.7h0.95v0.95h-0.95zM90.7 43.0h0.95v0.95h-0.95zM97.7 49.9h0.95v0.95h-0.95zM92.2 39.8h0.95v0.95h-0.95zM88.7 36.2h0.95v0.95h-0.95zM100.1 54.3h0.95v0.95h-0.95zM103.9 50.4h0.95v0.95h-0.95zM95.8 52.1h0.95v0.95h-0.95zM99.0 45.3h0.95v0.95h-0.95zM95.9 61.5h0.95v0.95h-0.95zM85.0 37.5h0.95v0.95h-0.95zM88.9 52.1h0.95v0.95h-0.95zM100.3 44.7h0.95v0.95h-0.95zM97.6 46.7h0.95v0.95h-0.95zM95.6 43.4h0.95v0.95h-0.95zM93.9 47.0h0.95v0.95h-0.95zM100.0 62.0h0.95v0.95h-0.95zM84.4 50.6h0.95v0.95h-0.95zM94.0 53.5h0.95v0.95h-0.95zM99.6 52.3h0.95v0.95h-0.95zM98.3 40.6h0.95v0.95h-0.95zM85.0 58.3h0.95v0.95h-0.95zM100.4 40.6h0.95v0.95h-0.95zM100.8 51.5h0.95v0.95h-0.95zM81.0 53.1h0.95v0.95h-0.95zM88.8 54.9h0.95v0.95h-0.95zM90.4 42.0h0.95v0.95h-0.95zM85.8 45.5h0.95v0.95h-0.95zM99.4 42.5h0.95v0.95h-0.95zM84.1 61.5h0.95v0.95h-0.95zM103.8 51.7h0.95v0.95h-0.95zM91.2 38.8h0.95v0.95h-0.95zM85.3 50.8h0.95v0.95h-0.95zM100.9 39.9h0.95v0.95h-0.95zM94.0 45.1h0.95v0.95h-0.95zM92.6 50.4h0.95v0.95h-0.95zM105.1 42.7h0.95v0.95h-0.95zM98.5 54.3h0.95v0.95h-0.95zM92.5 46.0h0.95v0.95h-0.95zM86.9 54.3h0.95v0.95h-0.95zM91.2 42.6h0.95v0.95h-0.95zM94.4 41.2h0.95v0.95h-0.95zM88.5 45.0h0.95v0.95h-0.95zM101.9 45.6h0.95v0.95h-0.95zM96.8 37.1h0.95v0.95h-0.95zM83.7 59.3h0.95v0.95h-0.95zM91.9 36.6h0.95v0.95h-0.95zM93.4 51.1h0.95v0.95h-0.95zM84.8 41.0h0.95v0.95h-0.95zM95.4 40.8h0.95v0.95h-0.95zM98.2 53.5h0.95v0.95h-0.95zM96.3 44.1h0.95v0.95h-0.95zM93.8 42.7h0.95v0.95h-0.95zM93.3 49.1h0.95v0.95h-0.95zM92.4 53.6h0.95v0.95h-0.95zM107.8 43.3h0.95v0.95h-0.95zM95.8 52.6h0.95v0.95h-0.95zM97.4 45.4h0.95v0.95h-0.95zM91.5 53.8h0.95v0.95h-0.95zM97.3 50.4h0.95v0.95h-0.95zM89.7 51.3h0.95v0.95h-0.95zM98.2 45.7h0.95v0.95h-0.95zM97.4 61.7h0.95v0.95h-0.95zM84.0 51.1h0.95v0.95h-0.95zM87.8 37.8h0.95v0.95h-0.95zM92.7 50.7h0.95v0.95h-0.95zM94.3 39.1h0.95v0.95h-0.95zM86.4 43.2h0.95v0.95h-0.95zM94.1 41.4h0.95v0.95h-0.95zM86.0 58.9h0.95v0.95h-0.95zM89.5 45.9h0.95v0.95h-0.95zM91.1 43.0h0.95v0.95h-0.95zM94.2 45.0h0.95v0.95h-0.95zM97.3 39.0h0.95v0.95h-0.95zM86.1 60.2h0.95v0.95h-0.95zM93.6 52.2h0.95v0.95h-0.95zM100.3 50.8h0.95v0.95h-0.95zM94.2 36.5h0.95v0.95h-0.95zM85.5 53.6h0.95v0.95h-0.95zM97.6 50.9h0.95v0.95h-0.95zM85.2 32.5h0.95v0.95h-0.95zM88.4 39.0h0.95v0.95h-0.95zM94.8 40.1h0.95v0.95h-0.95zM102.4 42.8h0.95v0.95h-0.95zM91.0 52.9h0.95v0.95h-0.95zM95.8 40.9h0.95v0.95h-0.95zM98.4 60.0h0.95v0.95h-0.95zM87.5 45.3h0.95v0.95h-0.95zM88.3 33.8h0.95v0.95h-0.95zM97.3 51.7h0.95v0.95h-0.95zM99.2 49.9h0.95v0.95h-0.95zM83.3 46.8h0.95v0.95h-0.95zM90.4 39.0h0.95v0.95h-0.95zM88.1 52.2h0.95v0.95h-0.95zM92.4 60.4h0.95v0.95h-0.95zM96.5 34.0h0.95v0.95h-0.95zM98.8 55.5h0.95v0.95h-0.95zM94.2 38.8h0.95v0.95h-0.95zM103.5 38.1h0.95v0.95h-0.95zM93.6 34.0h0.95v0.95h-0.95zM87.3 35.4h0.95v0.95h-0.95zM99.8 55.0h0.95v0.95h-0.95zM91.8 37.8h0.95v0.95h-0.95zM93.7 49.6h0.95v0.95h-0.95zM85.8 39.1h0.95v0.95h-0.95zM93.5 51.8h0.95v0.95h-0.95zM94.4 50.1h0.95v0.95h-0.95zM87.3 30.0h0.95v0.95h-0.95zM95.7 40.7h0.95v0.95h-0.95zM93.3 44.4h0.95v0.95h-0.95zM96.6 41.7h0.95v0.95h-0.95zM101.7 47.2h0.95v0.95h-0.95zM96.8 51.3h0.95v0.95h-0.95zM99.6 49.8h0.95v0.95h-0.95zM84.6 42.7h0.95v0.95h-0.95zM104.0 50.2h0.95v0.95h-0.95zM97.0 50.2h0.95v0.95h-0.95zM90.6 42.4h0.95v0.95h-0.95zM90.5 54.9h0.95v0.95h-0.95zM96.0 59.2h0.95v0.95h-0.95zM96.7 59.9h0.95v0.95h-0.95zM96.5 38.9h0.95v0.95h-0.95zM103.4 49.3h0.95v0.95h-0.95zM100.4 48.5h0.95v0.95h-0.95zM92.2 48.2h0.95v0.95h-0.95zM88.0 38.8h0.95v0.95h-0.95zM89.2 43.4h0.95v0.95h-0.95zM86.7 46.3h0.95v0.95h-0.95zM95.6 60.9h0.95v0.95h-0.95zM103.9 46.7h0.95v0.95h-0.95zM98.8 45.5h0.95v0.95h-0.95zM96.1 46.8h0.95v0.95h-0.95zM91.1 47.5h0.95v0.95h-0.95zM86.0 50.0h0.95v0.95h-0.95zM92.4 39.6h0.95v0.95h-0.95zM92.1 50.8h0.95v0.95h-0.95zM90.3 50.3h0.95v0.95h-0.95zM97.1 57.7h0.95v0.95h-0.95zM88.1 46.2h0.95v0.95h-0.95zM96.8 57.3h0.95v0.95h-0.95zM95.4 52.2h0.95v0.95h-0.95zM86.1 43.0h0.95v0.95h-0.95zM103.0 45.0h0.95v0.95h-0.95zM105.7 42.0h0.95v0.95h-0.95zM92.5 36.0h0.95v0.95h-0.95zM97.4 48.8h0.95v0.95h-0.95zM104.9 48.1h0.95v0.95h-0.95zM92.6 37.3h0.95v0.95h-0.95zM93.6 53.5h0.95v0.95h-0.95zM98.0 55.5h0.95v0.95h-0.95zM98.7 46.7h0.95v0.95h-0.95zM97.3 48.2h0.95v0.95h-0.95zM86.8 58.8h0.95v0.95h-0.95zM96.0 39.7h0.95v0.95h-0.95zM96.1 49.0h0.95v0.95h-0.95zM99.4 57.0h0.95v0.95h-0.95zM77.5 50.8h0.95v0.95h-0.95zM102.3 40.4h0.95v0.95h-0.95zM83.9 48.9h0.95v0.95h-0.95zM95.8 49.4h0.95v0.95h-0.95zM88.0 43.8h0.95v0.95h-0.95zM95.1 52.2h0.95v0.95h-0.95zM105.9 49.0h0.95v0.95h-0.95zM90.7 30.6h0.95v0.95h-0.95zM99.8 46.1h0.95v0.95h-0.95zM93.4 40.1h0.95v0.95h-0.95zM98.0 34.6h0.95v0.95h-0.95zM94.6 47.8h0.95v0.95h-0.95zM95.6 56.1h0.95v0.95h-0.95zM93.5 47.7h0.95v0.95h-0.95zM98.7 36.2h0.95v0.95h-0.95zM92.4 47.5h0.95v0.95h-0.95zM99.2 41.4h0.95v0.95h-0.95zM98.4 49.7h0.95v0.95h-0.95zM85.9 36.7h0.95v0.95h-0.95zM86.2 48.0h0.95v0.95h-0.95zM95.1 52.0h0.95v0.95h-0.95zM98.5 43.2h0.95v0.95h-0.95zM99.8 52.7h0.95v0.95h-0.95zM96.6 50.3h0.95v0.95h-0.95zM87.0 49.5h0.95v0.95h-0.95zM88.4 38.7h0.95v0.95h-0.95zM92.1 48.0h0.95v0.95h-0.95zM93.7 44.7h0.95v0.95h-0.95zM88.5 48.3h0.95v0.95h-0.95zM89.9 37.2h0.95v0.95h-0.95zM94.5 57.1h0.95v0.95h-0.95zM91.8 39.6h0.95v0.95h-0.95zM101.6 58.9h0.95v0.95h-0.95zM92.4 45.5h0.95v0.95h-0.95zM95.2 67.5h0.95v0.95h-0.95zM94.7 53.9h0.95v0.95h-0.95zM96.4 34.3h0.95v0.95h-0.95zM88.0 38.4h0.95v0.95h-0.95zM96.4 47.7h0.95v0.95h-0.95zM103.8 45.1h0.95v0.95h-0.95zM95.7 47.5h0.95v0.95h-0.95zM94.8 63.1h0.95v0.95h-0.95zM95.6 57.3h0.95v0.95h-0.95zM101.1 42.8h0.95v0.95h-0.95zM97.8 44.3h0.95v0.95h-0.95zM94.6 48.1h0.95v0.95h-0.95zM94.1 43.7h0.95v0.95h-0.95zM102.5 45.2h0.95v0.95h-0.95zM97.9 58.7h0.95v0.95h-0.95zM97.4 54.2h0.95v0.95h-0.95zM101.6 54.6h0.95v0.95h-0.95zM103.4 37.0h0.95v0.95h-0.95zM104.7 47.2h0.95v0.95h-0.95zM84.4 42.5h0.95v0.95h-0.95zM86.4 46.8h0.95v0.95h-0.95zM85.8 40.0h0.95v0.95h-0.95zM95.6 48.1h0.95v0.95h-0.95zM89.6 45.4h0.95v0.95h-0.95zM93.5 47.5h0.95v0.95h-0.95zM94.0 45.5h0.95v0.95h-0.95zM98.8 35.8h0.95v0.95h-0.95zM91.3 47.9h0.95v0.95h-0.95zM91.8 43.1h0.95v0.95h-0.95zM91.6 48.5h0.95v0.95h-0.95zM100.8 45.7h0.95v0.95h-0.95zM92.5 49.5h0.95v0.95h-0.95zM92.7 33.5h0.95v0.95h-0.95zM95.5 44.4h0.95v0.95h-0.95zM90.9 51.4h0.95v0.95h-0.95zM94.2 43.1h0.95v0.95h-0.95zM82.0 35.0h0.95v0.95h-0.95zM94.1 46.2h0.95v0.95h-0.95zM96.4 48.6h0.95v0.95h-0.95zM91.4 38.2h0.95v0.95h-0.95zM88.0 46.0h0.95v0.95h-0.95zM87.7 52.3h0.95v0.95h-0.95zM86.7 34.5h0.95v0.95h-0.95zM92.9 34.6h0.95v0.95h-0.95zM102.9 40.1h0.95v0.95h-0.95zM93.7 45.3h0.95v0.95h-0.95zM89.5 34.6h0.95v0.95h-0.95zM83.8 53.1h0.95v0.95h-0.95zM99.6 62.1h0.95v0.95h-0.95zM86.0 50.9h0.95v0.95h-0.95zM93.9 52.9h0.95v0.95h-0.95zM91.2 52.0h0.95v0.95h-0.95zM98.9 51.2h0.95v0.95h-0.95zM102.0 45.8h0.95v0.95h-0.95zM102.5 42.1h0.95v0.95h-0.95zM103.2 27.8h0.95v0.95h-0.95zM94.1 41.4h0.95v0.95h-0.95zM94.0 54.2h0.95v0.95h-0.95zM97.9 47.7h0.95v0.95h-0.95zM103.4 36.7h0.95v0.95h-0.95zM89.5 57.6h0.95v0.95h-0.95zM95.8 32.5h0.95v0.95h-0.95zM95.9 38.7h0.95v0.95h-0.95zM102.1 55.0h0.95v0.95h-0.95zM91.0 56.1h0.95v0.95h-0.95zM89.4 53.4h0.95v0.95h-0.95zM97.2 46.1h0.95v0.95h-0.95zM86.2 45.0h0.95v0.95h-0.95zM81.4 43.1h0.95v0.95h-0.95zM83.8 55.5h0.95v0.95h-0.95zM88.7 30.0h0.95v0.95h-0.95zM97.2 49.6h0.95v0.95h-0.95zM91.2 61.8h0.95v0.95h-0.95zM98.3 47.5h0.95v0.95h-0.95zM90.5 26.3h0.95v0.95h-0.95zM96.6 53.7h0.95v0.95h-0.95zM90.7 37.1h0.95v0.95h-0.95zM93.8 35.3h0.95v0.95h-0.95zM94.0 52.4h0.95v0.95h-0.95zM102.3 48.9h0.95v0.95h-0.95zM95.1 52.2h0.95v0.95h-0.95zM101.7 44.8h0.95v0.95h-0.95zM87.2 41.5h0.95v0.95h-0.95zM87.1 40.8h0.95v0.95h-0.95zM93.3 49.4h0.95v0.95h-0.95zM94.9 47.5h0.95v0.95h-0.95zM92.0 50.0h0.95v0.95h-0.95zM98.9 52.3h0.95v0.95h-0.95zM102.2 45.0h0.95v0.95h-0.95zM92.6 58.9h0.95v0.95h-0.95zM95.1 49.9h0.95v0.95h-0.95zM92.2 53.8h0.95v0.95h-0.95zM91.8 39.9h0.95v0.95h-0.95zM93.7 43.9h0.95v0.95h-0.95zM98.6 44.4h0.95v0.95h-0.95zM94.7 45.5h0.95v0.95h-0.95zM95.9 42.6h0.95v0.95h-0.95zM100.1 37.0h0.95v0.95h-0.95zM91.9 42.0h0.95v0.95h-0.95zM97.6 47.3h0.95v0.95h-0.95zM96.7 44.7h0.95v0.95h-0.95zM90.1 39.2h0.95v0.95h-0.95zM92.2 43.3h0.95v0.95h-0.95zM95.5 49.5h0.95v0.95h-0.95zM99.4 46.3h0.95v0.95h-0.95zM89.9 39.6h0.95v0.95h-0.95zM94.3 49.5h0.95v0.95h-0.95zM104.7 48.3h0.95v0.95h-0.95zM103.7 60.1h0.95v0.95h-0.95zM88.2 55.5h0.95v0.95h-0.95zM100.3 56.4h0.95v0.95h-0.95zM93.9 53.7h0.95v0.95h-0.95zM91.4 46.5h0.95v0.95h-0.95zM94.1 59.5h0.95v0.95h-0.95zM92.8 53.7h0.95v0.95h-0.95zM94.4 42.0h0.95v0.95h-0.95zM95.3 51.6h0.95v0.95h-0.95zM90.1 51.4h0.95v0.95h-0.95zM90.1 40.9h0.95v0.95h-0.95zM95.2 45.4h0.95v0.95h-0.95zM88.6 35.6h0.95v0.95h-0.95zM94.1 48.7h0.95v0.95h-0.95zM91.5 48.3h0.95v0.95h-0.95zM85.6 49.7h0.95v0.95h-0.95zM96.3 48.9h0.95v0.95h-0.95zM90.6 47.6h0.95v0.95h-0.95zM94.7 54.5h0.95v0.95h-0.95zM95.5 48.8h0.95v0.95h-0.95zM90.0 53.0h0.95v0.95h-0.95zM100.4 43.5h0.95v0.95h-0.95zM97.5 49.2h0.95v0.95h-0.95zM93.7 38.0h0.95v0.95h-0.95zM103.7 33.9h0.95v0.95h-0.95zM95.7 44.4h0.95v0.95h-0.95zM100.3 44.0h0.95v0.95h-0.95zM94.2 51.3h0.95v0.95h-0.95zM96.5 43.4h0.95v0.95h-0.95zM97.7 49.7h0.95v0.95h-0.95zM99.4 43.4h0.95v0.95h-0.95zM93.7 44.3h0.95v0.95h-0.95zM89.4 48.8h0.95v0.95h-0.95zM96.2 56.9h0.95v0.95h-0.95zM92.2 49.7h0.95v0.95h-0.95zM100.3 46.2h0.95v0.95h-0.95zM94.3 47.9h0.95v0.95h-0.95zM90.2 40.1h0.95v0.95h-0.95zM100.1 48.2h0.95v0.95h-0.95zM93.6 38.3h0.95v0.95h-0.95zM94.6 55.2h0.95v0.95h-0.95zM87.7 40.8h0.95v0.95h-0.95zM100.1 57.0h0.95v0.95h-0.95zM102.5 43.1h0.95v0.95h-0.95zM97.3 41.8h0.95v0.95h-0.95zM96.9 44.5h0.95v0.95h-0.95zM95.1 56.4h0.95v0.95h-0.95zM95.9 45.3h0.95v0.95h-0.95zM94.3 48.9h0.95v0.95h-0.95zM91.2 48.4h0.95v0.95h-0.95zM97.3 57.9h0.95v0.95h-0.95zM82.7 38.7h0.95v0.95h-0.95zM87.2 53.1h0.95v0.95h-0.95zM107.3 48.3h0.95v0.95h-0.95zM94.7 54.9h0.95v0.95h-0.95zM80.6 45.8h0.95v0.95h-0.95zM77.0 48.1h0.95v0.95h-0.95zM91.2 43.6h0.95v0.95h-0.95zM95.9 42.9h0.95v0.95h-0.95zM100.1 47.0h0.95v0.95h-0.95zM96.1 64.6h0.95v0.95h-0.95zM91.5 53.4h0.95v0.95h-0.95zM89.5 55.7h0.95v0.95h-0.95zM99.3 48.0h0.95v0.95h-0.95zM99.4 58.2h0.95v0.95h-0.95zM101.5 47.0h0.95v0.95h-0.95zM93.7 54.7h0.95v0.95h-0.95zM86.0 42.8h0.95v0.95h-0.95zM96.6 51.0h0.95v0.95h-0.95zM104.2 59.2h0.95v0.95h-0.95zM95.8 50.1h0.95v0.95h-0.95zM86.8 45.7h0.95v0.95h-0.95zM95.4 45.4h0.95v0.95h-0.95zM94.3 51.2h0.95v0.95h-0.95zM88.8 43.1h0.95v0.95h-0.95zM84.3 54.9h0.95v0.95h-0.95zM88.3 35.2h0.95v0.95h-0.95zM98.2 45.5h0.95v0.95h-0.95zM99.3 44.4h0.95v0.95h-0.95zM105.6 51.9h0.95v0.95h-0.95zM94.8 47.8h0.95v0.95h-0.95zM92.9 52.6h0.95v0.95h-0.95zM104.9 44.1h0.95v0.95h-0.95zM88.1 51.1h0.95v0.95h-0.95zM99.8 36.7h0.95v0.95h-0.95zM90.2 40.1h0.95v0.95h-0.95zM97.1 50.5h0.95v0.95h-0.95zM90.0 39.2h0.95v0.95h-0.95zM97.7 32.8h0.95v0.95h-0.95zM97.5 45.9h0.95v0.95h-0.95zM104.4 53.9h0.95v0.95h-0.95zM90.9 45.1h0.95v0.95h-0.95zM92.5 42.0h0.95v0.95h-0.95zM94.4 53.7h0.95v0.95h-0.95zM85.8 45.4h0.95v0.95h-0.95zM102.1 52.1h0.95v0.95h-0.95zM89.6 41.4h0.95v0.95h-0.95zM89.4 35.9h0.95v0.95h-0.95zM100.2 47.5h0.95v0.95h-0.95zM90.2 37.1h0.95v0.95h-0.95zM91.9 43.5h0.95v0.95h-0.95zM103.3 43.8h0.95v0.95h-0.95zM94.6 54.4h0.95v0.95h-0.95zM97.6 45.8h0.95v0.95h-0.95zM82.2 56.7h0.95v0.95h-0.95zM97.2 44.0h0.95v0.95h-0.95zM93.5 40.4h0.95v0.95h-0.95zM89.1 36.8h0.95v0.95h-0.95zM96.7 50.6h0.95v0.95h-0.95zM94.9 52.4h0.95v0.95h-0.95zM78.7 61.7h0.95v0.95h-0.95zM66.2 64.2h0.95v0.95h-0.95zM84.5 64.4h0.95v0.95h-0.95zM85.0 58.4h0.95v0.95h-0.95zM65.3 67.8h0.95v0.95h-0.95zM68.8 62.3h0.95v0.95h-0.95zM72.3 61.1h0.95v0.95h-0.95zM71.6 58.1h0.95v0.95h-0.95zM58.2 71.3h0.95v0.95h-0.95zM75.8 50.6h0.95v0.95h-0.95zM66.0 54.9h0.95v0.95h-0.95zM67.4 47.2h0.95v0.95h-0.95zM79.1 69.8h0.95v0.95h-0.95zM71.8 65.0h0.95v0.95h-0.95zM79.3 54.3h0.95v0.95h-0.95zM84.8 51.9h0.95v0.95h-0.95zM68.9 59.1h0.95v0.95h-0.95zM85.1 61.6h0.95v0.95h-0.95zM72.9 56.7h0.95v0.95h-0.95zM74.8 61.2h0.95v0.95h-0.95zM80.4 68.5h0.95v0.95h-0.95zM80.5 61.1h0.95v0.95h-0.95zM72.7 69.6h0.95v0.95h-0.95zM75.8 60.9h0.95v0.95h-0.95zM89.8 69.4h0.95v0.95h-0.95zM79.0 60.4h0.95v0.95h-0.95zM68.4 66.7h0.95v0.95h-0.95zM70.0 66.2h0.95v0.95h-0.95zM67.1 61.6h0.95v0.95h-0.95zM77.5 61.8h0.95v0.95h-0.95zM76.1 63.1h0.95v0.95h-0.95zM64.1 55.0h0.95v0.95h-0.95zM72.7 70.7h0.95v0.95h-0.95zM72.9 56.0h0.95v0.95h-0.95zM68.2 61.2h0.95v0.95h-0.95zM84.4 58.0h0.95v0.95h-0.95zM78.9 62.0h0.95v0.95h-0.95zM70.9 55.9h0.95v0.95h-0.95zM72.7 57.1h0.95v0.95h-0.95zM78.7 51.5h0.95v0.95h-0.95zM83.9 65.1h0.95v0.95h-0.95zM79.1 69.0h0.95v0.95h-0.95zM79.3 51.8h0.95v0.95h-0.95zM74.5 63.4h0.95v0.95h-0.95zM68.0 54.9h0.95v0.95h-0.95zM77.8 63.7h0.95v0.95h-0.95zM70.3 59.7h0.95v0.95h-0.95zM69.5 58.0h0.95v0.95h-0.95zM73.5 66.8h0.95v0.95h-0.95zM59.9 59.2h0.95v0.95h-0.95zM88.2 62.7h0.95v0.95h-0.95zM75.4 65.5h0.95v0.95h-0.95zM65.2 54.5h0.95v0.95h-0.95zM59.4 53.2h0.95v0.95h-0.95zM76.2 65.6h0.95v0.95h-0.95zM70.3 57.4h0.95v0.95h-0.95zM77.5 64.3h0.95v0.95h-0.95zM76.3 50.8h0.95v0.95h-0.95zM69.2 47.4h0.95v0.95h-0.95zM76.1 56.4h0.95v0.95h-0.95zM68.2 69.1h0.95v0.95h-0.95zM85.6 63.6h0.95v0.95h-0.95zM76.4 61.9h0.95v0.95h-0.95zM68.9 60.7h0.95v0.95h-0.95zM90.8 56.3h0.95v0.95h-0.95zM68.2 61.9h0.95v0.95h-0.95zM81.8 65.5h0.95v0.95h-0.95zM65.5 60.3h0.95v0.95h-0.95zM71.7 54.4h0.95v0.95h-0.95zM74.7 58.4h0.95v0.95h-0.95zM82.1 63.3h0.95v0.95h-0.95zM67.2 61.4h0.95v0.95h-0.95zM70.9 57.6h0.95v0.95h-0.95zM69.7 66.7h0.95v0.95h-0.95zM70.4 51.8h0.95v0.95h-0.95zM67.2 65.3h0.95v0.95h-0.95zM92.8 55.4h0.95v0.95h-0.95zM70.9 59.2h0.95v0.95h-0.95zM61.7 63.1h0.95v0.95h-0.95zM73.6 62.5h0.95v0.95h-0.95zM93.6 59.6h0.95v0.95h-0.95zM80.9 65.5h0.95v0.95h-0.95zM68.4 57.8h0.95v0.95h-0.95zM87.6 64.8h0.95v0.95h-0.95zM75.3 55.2h0.95v0.95h-0.95zM81.7 63.8h0.95v0.95h-0.95zM93.2 68.9h0.95v0.95h-0.95zM81.0 62.4h0.95v0.95h-0.95zM74.5 58.1h0.95v0.95h-0.95zM76.7 62.3h0.95v0.95h-0.95zM79.7 66.8h0.95v0.95h-0.95zM76.7 58.1h0.95v0.95h-0.95zM81.1 69.3h0.95v0.95h-0.95zM66.7 63.2h0.95v0.95h-0.95zM78.8 63.9h0.95v0.95h-0.95zM78.4 60.5h0.95v0.95h-0.95zM73.1 70.0h0.95v0.95h-0.95zM89.2 53.5h0.95v0.95h-0.95zM51.8 63.3h0.95v0.95h-0.95zM68.1 58.2h0.95v0.95h-0.95zM60.1 62.9h0.95v0.95h-0.95zM73.5 58.1h0.95v0.95h-0.95zM81.9 74.0h0.95v0.95h-0.95zM86.9 67.3h0.95v0.95h-0.95zM70.4 64.5h0.95v0.95h-0.95zM73.7 67.2h0.95v0.95h-0.95zM79.1 60.8h0.95v0.95h-0.95zM78.8 57.2h0.95v0.95h-0.95zM80.9 69.0h0.95v0.95h-0.95zM70.8 64.0h0.95v0.95h-0.95zM59.4 66.0h0.95v0.95h-0.95zM81.7 55.5h0.95v0.95h-0.95zM89.2 61.6h0.95v0.95h-0.95zM58.9 53.7h0.95v0.95h-0.95zM81.6 59.5h0.95v0.95h-0.95zM83.7 52.7h0.95v0.95h-0.95zM73.1 66.2h0.95v0.95h-0.95zM68.1 64.6h0.95v0.95h-0.95zM70.9 62.8h0.95v0.95h-0.95zM76.8 72.9h0.95v0.95h-0.95zM63.2 65.2h0.95v0.95h-0.95zM85.5 55.0h0.95v0.95h-0.95zM74.7 73.3h0.95v0.95h-0.95zM83.2 45.2h0.95v0.95h-0.95zM71.9 51.9h0.95v0.95h-0.95zM76.7 57.1h0.95v0.95h-0.95zM69.1 56.5h0.95v0.95h-0.95zM76.6 58.5h0.95v0.95h-0.95zM66.1 59.8h0.95v0.95h-0.95zM77.6 56.4h0.95v0.95h-0.95zM83.7 52.1h0.95v0.95h-0.95zM77.6 58.9h0.95v0.95h-0.95zM87.8 57.6h0.95v0.95h-0.95zM68.2 53.8h0.95v0.95h-0.95zM91.4 64.3h0.95v0.95h-0.95zM64.5 59.2h0.95v0.95h-0.95zM65.6 69.1h0.95v0.95h-0.95zM77.7 50.1h0.95v0.95h-0.95zM75.8 65.9h0.95v0.95h-0.95zM74.0 63.5h0.95v0.95h-0.95zM73.0 62.1h0.95v0.95h-0.95zM75.9 57.2h0.95v0.95h-0.95zM77.0 61.9h0.95v0.95h-0.95zM73.7 57.3h0.95v0.95h-0.95zM65.1 62.3h0.95v0.95h-0.95zM81.2 48.1h0.95v0.95h-0.95zM69.3 68.2h0.95v0.95h-0.95zM82.0 57.2h0.95v0.95h-0.95zM85.8 55.7h0.95v0.95h-0.95zM67.1 71.4h0.95v0.95h-0.95zM70.2 59.8h0.95v0.95h-0.95zM59.6 55.6h0.95v0.95h-0.95zM63.7 60.3h0.95v0.95h-0.95zM57.9 66.7h0.95v0.95h-0.95zM70.9 57.8h0.95v0.95h-0.95zM68.5 65.0h0.95v0.95h-0.95zM87.4 58.8h0.95v0.95h-0.95zM88.1 69.6h0.95v0.95h-0.95zM85.7 62.6h0.95v0.95h-0.95zM61.0 64.6h0.95v0.95h-0.95zM70.4 62.0h0.95v0.95h-0.95zM57.5 59.5h0.95v0.95h-0.95zM76.0 56.0h0.95v0.95h-0.95zM76.6 70.0h0.95v0.95h-0.95zM76.0 57.3h0.95v0.95h-0.95zM94.9 49.5h0.95v0.95h-0.95zM65.9 63.2h0.95v0.95h-0.95zM68.8 48.7h0.95v0.95h-0.95zM76.3 65.4h0.95v0.95h-0.95zM67.0 68.8h0.95v0.95h-0.95zM78.4 67.4h0.95v0.95h-0.95zM60.6 61.0h0.95v0.95h-0.95zM88.0 71.8h0.95v0.95h-0.95zM85.6 61.0h0.95v0.95h-0.95zM75.6 57.6h0.95v0.95h-0.95zM83.6 57.3h0.95v0.95h-0.95zM75.1 49.9h0.95v0.95h-0.95zM60.8 70.5h0.95v0.95h-0.95zM74.5 62.2h0.95v0.95h-0.95zM54.7 60.8h0.95v0.95h-0.95zM92.2 53.0h0.95v0.95h-0.95zM53.1 60.1h0.95v0.95h-0.95zM69.3 59.9h0.95v0.95h-0.95zM63.0 53.7h0.95v0.95h-0.95zM63.2 64.4h0.95v0.95h-0.95zM73.6 65.4h0.95v0.95h-0.95zM64.5 64.2h0.95v0.95h-0.95zM70.1 61.5h0.95v0.95h-0.95zM82.2 61.2h0.95v0.95h-0.95zM70.9 52.1h0.95v0.95h-0.95zM74.6 65.2h0.95v0.95h-0.95zM68.4 60.6h0.95v0.95h-0.95zM58.4 53.8h0.95v0.95h-0.95zM77.5 68.0h0.95v0.95h-0.95zM71.3 52.0h0.95v0.95h-0.95zM70.7 52.6h0.95v0.95h-0.95zM71.6 71.4h0.95v0.95h-0.95zM76.6 60.2h0.95v0.95h-0.95zM83.1 59.0h0.95v0.95h-0.95zM76.9 62.1h0.95v0.95h-0.95zM77.9 53.1h0.95v0.95h-0.95zM80.3 65.8h0.95v0.95h-0.95zM53.9 46.4h0.95v0.95h-0.95zM66.1 69.0h0.95v0.95h-0.95zM74.2 64.7h0.95v0.95h-0.95zM78.9 65.8h0.95v0.95h-0.95zM68.4 57.8h0.95v0.95h-0.95zM77.3 64.3h0.95v0.95h-0.95zM79.1 62.8h0.95v0.95h-0.95zM69.7 67.0h0.95v0.95h-0.95zM78.2 66.7h0.95v0.95h-0.95zM51.5 66.5h0.95v0.95h-0.95zM52.4 62.1h0.95v0.95h-0.95zM68.1 61.7h0.95v0.95h-0.95zM69.8 59.3h0.95v0.95h-0.95zM75.7 62.9h0.95v0.95h-0.95zM66.9 47.3h0.95v0.95h-0.95zM67.1 63.9h0.95v0.95h-0.95zM66.5 63.3h0.95v0.95h-0.95zM70.7 55.9h0.95v0.95h-0.95zM84.4 70.0h0.95v0.95h-0.95zM73.1 60.7h0.95v0.95h-0.95zM82.5 53.8h0.95v0.95h-0.95zM66.3 67.1h0.95v0.95h-0.95zM82.0 58.3h0.95v0.95h-0.95zM67.1 62.9h0.95v0.95h-0.95zM61.5 58.3h0.95v0.95h-0.95zM71.9 47.6h0.95v0.95h-0.95zM79.3 65.2h0.95v0.95h-0.95zM83.5 53.2h0.95v0.95h-0.95zM62.6 56.6h0.95v0.95h-0.95zM62.4 72.2h0.95v0.95h-0.95zM65.3 59.3h0.95v0.95h-0.95zM75.8 63.5h0.95v0.95h-0.95zM86.9 55.1h0.95v0.95h-0.95zM81.8 61.8h0.95v0.95h-0.95zM63.6 61.8h0.95v0.95h-0.95zM61.5 69.8h0.95v0.95h-0.95zM67.5 66.5h0.95v0.95h-0.95zM85.6 57.6h0.95v0.95h-0.95zM66.0 61.7h0.95v0.95h-0.95zM64.6 65.9h0.95v0.95h-0.95zM75.6 56.8h0.95v0.95h-0.95zM67.9 65.0h0.95v0.95h-0.95zM61.0 70.2h0.95v0.95h-0.95zM67.0 59.9h0.95v0.95h-0.95zM65.7 69.9h0.95v0.95h-0.95zM81.4 68.1h0.95v0.95h-0.95zM79.8 61.5h0.95v0.95h-0.95zM89.2 64.6h0.95v0.95h-0.95zM77.9 64.2h0.95v0.95h-0.95zM80.6 62.5h0.95v0.95h-0.95zM72.5 52.3h0.95v0.95h-0.95zM92.4 53.9h0.95v0.95h-0.95zM54.7 57.1h0.95v0.95h-0.95zM91.3 67.7h0.95v0.95h-0.95zM68.6 62.5h0.95v0.95h-0.95zM73.8 50.1h0.95v0.95h-0.95zM71.0 62.6h0.95v0.95h-0.95zM84.5 54.4h0.95v0.95h-0.95zM53.8 52.4h0.95v0.95h-0.95zM77.0 61.4h0.95v0.95h-0.95zM75.3 61.8h0.95v0.95h-0.95zM70.7 53.5h0.95v0.95h-0.95zM78.1 63.1h0.95v0.95h-0.95zM79.2 67.8h0.95v0.95h-0.95zM62.9 48.2h0.95v0.95h-0.95zM58.0 72.7h0.95v0.95h-0.95zM65.8 63.2h0.95v0.95h-0.95zM73.9 65.0h0.95v0.95h-0.95zM102.9 58.2h0.95v0.95h-0.95zM72.5 57.7h0.95v0.95h-0.95zM76.2 63.9h0.95v0.95h-0.95zM65.3 68.2h0.95v0.95h-0.95zM84.3 63.4h0.95v0.95h-0.95zM73.0 59.7h0.95v0.95h-0.95zM59.2 64.6h0.95v0.95h-0.95zM65.2 58.2h0.95v0.95h-0.95zM83.0 55.9h0.95v0.95h-0.95zM69.3 65.7h0.95v0.95h-0.95zM90.7 57.2h0.95v0.95h-0.95zM83.9 57.4h0.95v0.95h-0.95zM77.5 63.7h0.95v0.95h-0.95zM63.8 66.6h0.95v0.95h-0.95zM90.2 61.3h0.95v0.95h-0.95zM76.4 54.6h0.95v0.95h-0.95zM90.1 61.3h0.95v0.95h-0.95zM62.5 65.2h0.95v0.95h-0.95zM60.8 57.2h0.95v0.95h-0.95zM54.8 68.6h0.95v0.95h-0.95zM93.9 57.5h0.95v0.95h-0.95zM68.1 57.8h0.95v0.95h-0.95zM68.9 64.0h0.95v0.95h-0.95zM87.1 55.5h0.95v0.95h-0.95zM78.0 51.1h0.95v0.95h-0.95zM87.7 60.5h0.95v0.95h-0.95zM67.7 69.4h0.95v0.95h-0.95zM73.0 68.5h0.95v0.95h-0.95zM83.7 70.1h0.95v0.95h-0.95zM66.8 61.3h0.95v0.95h-0.95zM77.3 59.9h0.95v0.95h-0.95zM87.7 57.1h0.95v0.95h-0.95zM83.0 68.5h0.95v0.95h-0.95zM56.4 55.7h0.95v0.95h-0.95zM65.9 58.0h0.95v0.95h-0.95zM77.5 60.0h0.95v0.95h-0.95zM74.7 58.5h0.95v0.95h-0.95zM73.3 63.7h0.95v0.95h-0.95zM80.7 56.7h0.95v0.95h-0.95zM73.0 56.8h0.95v0.95h-0.95zM72.4 53.1h0.95v0.95h-0.95zM82.6 64.7h0.95v0.95h-0.95zM72.9 57.2h0.95v0.95h-0.95zM69.9 57.3h0.95v0.95h-0.95zM60.1 70.0h0.95v0.95h-0.95zM103.6 54.2h0.95v0.95h-0.95zM63.5 64.2h0.95v0.95h-0.95zM79.5 52.3h0.95v0.95h-0.95zM56.7 64.0h0.95v0.95h-0.95zM56.1 68.8h0.95v0.95h-0.95zM69.5 61.5h0.95v0.95h-0.95zM74.0 57.9h0.95v0.95h-0.95zM72.7 59.4h0.95v0.95h-0.95zM85.2 60.5h0.95v0.95h-0.95zM73.7 58.1h0.95v0.95h-0.95zM68.3 56.9h0.95v0.95h-0.95zM74.1 71.1h0.95v0.95h-0.95zM84.0 62.3h0.95v0.95h-0.95zM89.0 66.6h0.95v0.95h-0.95zM75.9 60.1h0.95v0.95h-0.95zM64.1 62.4h0.95v0.95h-0.95zM71.2 52.3h0.95v0.95h-0.95zM62.4 71.6h0.95v0.95h-0.95zM75.9 63.7h0.95v0.95h-0.95zM75.8 58.4h0.95v0.95h-0.95zM78.2 67.0h0.95v0.95h-0.95zM71.2 63.8h0.95v0.95h-0.95zM83.2 58.3h0.95v0.95h-0.95zM75.5 56.9h0.95v0.95h-0.95zM79.4 59.0h0.95v0.95h-0.95zM84.3 56.8h0.95v0.95h-0.95zM89.2 59.3h0.95v0.95h-0.95zM66.4 56.0h0.95v0.95h-0.95zM80.0 56.3h0.95v0.95h-0.95zM90.2 68.1h0.95v0.95h-0.95zM78.7 53.2h0.95v0.95h-0.95zM73.8 57.0h0.95v0.95h-0.95zM57.7 63.3h0.95v0.95h-0.95zM93.8 58.1h0.95v0.95h-0.95zM81.3 68.1h0.95v0.95h-0.95zM65.4 59.1h0.95v0.95h-0.95zM76.4 63.6h0.95v0.95h-0.95zM63.7 62.2h0.95v0.95h-0.95zM73.0 66.2h0.95v0.95h-0.95zM59.6 57.9h0.95v0.95h-0.95zM69.5 59.3h0.95v0.95h-0.95zM80.5 57.5h0.95v0.95h-0.95zM98.6 57.1h0.95v0.95h-0.95zM81.6 66.6h0.95v0.95h-0.95zM82.7 59.9h0.95v0.95h-0.95zM66.5 59.6h0.95v0.95h-0.95zM80.0 61.7h0.95v0.95h-0.95zM79.2 64.2h0.95v0.95h-0.95zM66.0 55.9h0.95v0.95h-0.95zM87.0 58.3h0.95v0.95h-0.95zM59.7 71.2h0.95v0.95h-0.95zM66.5 55.9h0.95v0.95h-0.95zM82.7 54.8h0.95v0.95h-0.95zM66.2 66.8h0.95v0.95h-0.95zM66.6 74.8h0.95v0.95h-0.95zM74.9 75.8h0.95v0.95h-0.95zM75.2 61.3h0.95v0.95h-0.95zM68.2 59.8h0.95v0.95h-0.95zM69.5 60.9h0.95v0.95h-0.95zM80.9 54.0h0.95v0.95h-0.95zM65.7 49.5h0.95v0.95h-0.95zM87.5 60.6h0.95v0.95h-0.95zM73.9 60.7h0.95v0.95h-0.95zM83.0 62.8h0.95v0.95h-0.95zM81.7 60.1h0.95v0.95h-0.95zM72.9 60.7h0.95v0.95h-0.95zM57.2 67.0h0.95v0.95h-0.95zM59.8 55.5h0.95v0.95h-0.95zM80.0 61.3h0.95v0.95h-0.95zM81.3 70.4h0.95v0.95h-0.95zM90.8 68.6h0.95v0.95h-0.95zM72.0 72.3h0.95v0.95h-0.95zM66.1 60.5h0.95v0.95h-0.95zM83.0 59.8h0.95v0.95h-0.95zM72.9 59.1h0.95v0.95h-0.95zM86.3 47.4h0.95v0.95h-0.95zM85.5 66.8h0.95v0.95h-0.95zM73.3 64.1h0.95v0.95h-0.95zM65.3 67.1h0.95v0.95h-0.95zM101.5 55.9h0.95v0.95h-0.95zM86.6 60.7h0.95v0.95h-0.95zM71.0 58.3h0.95v0.95h-0.95zM72.3 54.1h0.95v0.95h-0.95zM61.8 70.1h0.95v0.95h-0.95zM73.8 64.0h0.95v0.95h-0.95zM76.8 63.6h0.95v0.95h-0.95zM60.3 55.8h0.95v0.95h-0.95zM79.7 66.5h0.95v0.95h-0.95zM63.7 57.8h0.95v0.95h-0.95zM64.4 64.6h0.95v0.95h-0.95zM77.1 61.2h0.95v0.95h-0.95zM68.2 62.9h0.95v0.95h-0.95zM74.3 56.9h0.95v0.95h-0.95zM77.0 57.3h0.95v0.95h-0.95zM82.6 64.4h0.95v0.95h-0.95zM67.8 64.2h0.95v0.95h-0.95zM74.6 57.1h0.95v0.95h-0.95zM65.8 51.9h0.95v0.95h-0.95zM63.8 62.9h0.95v0.95h-0.95zM84.9 57.5h0.95v0.95h-0.95zM75.4 62.9h0.95v0.95h-0.95zM81.0 63.4h0.95v0.95h-0.95zM85.0 65.2h0.95v0.95h-0.95zM67.1 63.2h0.95v0.95h-0.95zM52.9 60.0h0.95v0.95h-0.95zM74.2 64.2h0.95v0.95h-0.95zM71.3 65.6h0.95v0.95h-0.95zM85.9 56.4h0.95v0.95h-0.95zM69.1 62.4h0.95v0.95h-0.95zM78.4 61.8h0.95v0.95h-0.95zM81.5 54.5h0.95v0.95h-0.95zM81.0 67.4h0.95v0.95h-0.95zM84.0 63.3h0.95v0.95h-0.95zM71.9 63.2h0.95v0.95h-0.95zM73.3 52.3h0.95v0.95h-0.95zM68.6 60.8h0.95v0.95h-0.95zM69.4 55.9h0.95v0.95h-0.95zM71.9 59.0h0.95v0.95h-0.95zM74.6 60.7h0.95v0.95h-0.95zM75.5 66.5h0.95v0.95h-0.95zM75.2 63.2h0.95v0.95h-0.95zM63.0 44.8h0.95v0.95h-0.95zM70.4 64.7h0.95v0.95h-0.95zM70.9 57.6h0.95v0.95h-0.95zM62.8 65.9h0.95v0.95h-0.95zM69.3 62.3h0.95v0.95h-0.95zM84.2 63.9h0.95v0.95h-0.95zM94.2 60.3h0.95v0.95h-0.95zM82.6 64.8h0.95v0.95h-0.95zM68.1 61.3h0.95v0.95h-0.95zM68.9 55.4h0.95v0.95h-0.95zM76.7 56.7h0.95v0.95h-0.95zM89.1 56.9h0.95v0.95h-0.95zM69.1 61.5h0.95v0.95h-0.95zM69.3 61.3h0.95v0.95h-0.95zM68.5 53.2h0.95v0.95h-0.95zM52.3 53.9h0.95v0.95h-0.95zM87.7 63.4h0.95v0.95h-0.95zM75.4 58.4h0.95v0.95h-0.95zM72.7 62.6h0.95v0.95h-0.95zM61.5 56.6h0.95v0.95h-0.95zM66.0 67.9h0.95v0.95h-0.95zM64.5 67.4h0.95v0.95h-0.95zM69.8 76.0h0.95v0.95h-0.95zM73.3 61.2h0.95v0.95h-0.95zM86.2 65.8h0.95v0.95h-0.95zM82.5 55.1h0.95v0.95h-0.95zM84.2 70.2h0.95v0.95h-0.95zM73.1 58.3h0.95v0.95h-0.95zM64.2 66.6h0.95v0.95h-0.95zM76.6 61.0h0.95v0.95h-0.95zM62.9 69.9h0.95v0.95h-0.95zM81.9 60.9h0.95v0.95h-0.95zM87.3 55.8h0.95v0.95h-0.95zM81.9 55.5h0.95v0.95h-0.95zM86.7 59.5h0.95v0.95h-0.95zM85.0 58.7h0.95v0.95h-0.95zM77.6 67.3h0.95v0.95h-0.95zM65.9 61.5h0.95v0.95h-0.95zM66.5 65.7h0.95v0.95h-0.95zM68.6 58.9h0.95v0.95h-0.95zM72.2 67.4h0.95v0.95h-0.95zM64.6 60.9h0.95v0.95h-0.95zM71.0 58.0h0.95v0.95h-0.95zM66.9 60.1h0.95v0.95h-0.95zM75.8 52.5h0.95v0.95h-0.95zM76.1 54.5h0.95v0.95h-0.95zM74.1 73.5h0.95v0.95h-0.95zM65.3 60.6h0.95v0.95h-0.95zM71.7 66.4h0.95v0.95h-0.95zM69.7 51.2h0.95v0.95h-0.95zM59.5 62.0h0.95v0.95h-0.95zM76.3 66.9h0.95v0.95h-0.95zM69.2 64.7h0.95v0.95h-0.95zM64.4 68.1h0.95v0.95h-0.95zM73.4 57.3h0.95v0.95h-0.95zM75.6 70.6h0.95v0.95h-0.95zM66.4 54.2h0.95v0.95h-0.95zM64.9 54.6h0.95v0.95h-0.95zM73.5 62.9h0.95v0.95h-0.95zM72.5 62.1h0.95v0.95h-0.95zM84.7 59.4h0.95v0.95h-0.95zM62.7 48.4h0.95v0.95h-0.95zM76.2 57.3h0.95v0.95h-0.95zM71.8 63.3h0.95v0.95h-0.95zM78.2 52.4h0.95v0.95h-0.95zM65.4 61.4h0.95v0.95h-0.95zM72.7 67.3h0.95v0.95h-0.95zM69.5 49.6h0.95v0.95h-0.95zM84.5 52.0h0.95v0.95h-0.95zM65.3 63.1h0.95v0.95h-0.95zM64.5 74.7h0.95v0.95h-0.95zM76.1 63.9h0.95v0.95h-0.95zM70.1 73.2h0.95v0.95h-0.95zM78.9 57.1h0.95v0.95h-0.95zM85.3 51.7h0.95v0.95h-0.95zM68.7 62.6h0.95v0.95h-0.95zM75.2 55.7h0.95v0.95h-0.95zM88.2 69.1h0.95v0.95h-0.95zM65.6 63.1h0.95v0.95h-0.95zM68.3 58.6h0.95v0.95h-0.95zM82.9 61.7h0.95v0.95h-0.95zM73.0 61.6h0.95v0.95h-0.95zM63.4 67.7h0.95v0.95h-0.95zM67.2 68.2h0.95v0.95h-0.95zM69.9 58.5h0.95v0.95h-0.95zM87.4 62.1h0.95v0.95h-0.95zM68.2 58.1h0.95v0.95h-0.95zM79.4 71.3h0.95v0.95h-0.95zM79.5 58.8h0.95v0.95h-0.95zM63.9 57.3h0.95v0.95h-0.95zM72.9 62.3h0.95v0.95h-0.95zM68.1 68.0h0.95v0.95h-0.95zM65.4 57.1h0.95v0.95h-0.95zM78.5 63.6h0.95v0.95h-0.95zM70.5 66.3h0.95v0.95h-0.95zM61.3 70.0h0.95v0.95h-0.95zM93.7 71.7h0.95v0.95h-0.95zM75.1 71.8h0.95v0.95h-0.95zM74.5 68.3h0.95v0.95h-0.95zM72.2 62.1h0.95v0.95h-0.95zM78.7 51.4h0.95v0.95h-0.95zM72.1 70.4h0.95v0.95h-0.95zM47.7 63.1h0.95v0.95h-0.95zM82.3 62.8h0.95v0.95h-0.95zM75.8 68.6h0.95v0.95h-0.95zM77.0 50.6h0.95v0.95h-0.95zM65.5 59.4h0.95v0.95h-0.95zM75.3 58.5h0.95v0.95h-0.95zM73.1 70.2h0.95v0.95h-0.95zM47.6 67.3h0.95v0.95h-0.95zM82.4 64.3h0.95v0.95h-0.95zM74.1 61.4h0.95v0.95h-0.95zM77.3 62.3h0.95v0.95h-0.95zM67.5 65.3h0.95v0.95h-0.95zM66.6 60.8h0.95v0.95h-0.95zM70.8 54.7h0.95v0.95h-0.95zM79.4 60.6h0.95v0.95h-0.95zM63.5 60.6h0.95v0.95h-0.95zM61.6 68.9h0.95v0.95h-0.95zM78.6 71.9h0.95v0.95h-0.95zM68.9 64.9h0.95v0.95h-0.95zM65.3 56.3h0.95v0.95h-0.95zM73.2 63.3h0.95v0.95h-0.95zM82.3 59.5h0.95v0.95h-0.95zM83.9 66.3h0.95v0.95h-0.95zM66.1 60.0h0.95v0.95h-0.95zM65.8 70.4h0.95v0.95h-0.95zM69.1 65.9h0.95v0.95h-0.95zM82.2 59.6h0.95v0.95h-0.95zM69.6 62.9h0.95v0.95h-0.95zM67.0 54.1h0.95v0.95h-0.95zM65.3 62.9h0.95v0.95h-0.95zM75.7 70.7h0.95v0.95h-0.95zM57.6 63.8h0.95v0.95h-0.95zM63.7 67.3h0.95v0.95h-0.95zM80.2 61.7h0.95v0.95h-0.95zM87.2 59.0h0.95v0.95h-0.95zM69.3 55.2h0.95v0.95h-0.95zM68.1 61.6h0.95v0.95h-0.95zM80.0 68.0h0.95v0.95h-0.95zM71.6 57.0h0.95v0.95h-0.95zM71.0 58.7h0.95v0.95h-0.95zM69.8 58.8h0.95v0.95h-0.95zM66.2 60.7h0.95v0.95h-0.95zM69.4 60.1h0.95v0.95h-0.95zM61.6 61.8h0.95v0.95h-0.95zM79.1 64.5h0.95v0.95h-0.95zM69.1 54.8h0.95v0.95h-0.95zM62.4 54.6h0.95v0.95h-0.95zM68.3 59.3h0.95v0.95h-0.95zM58.1 64.7h0.95v0.95h-0.95zM60.2 57.3h0.95v0.95h-0.95zM67.6 65.5h0.95v0.95h-0.95zM90.4 59.1h0.95v0.95h-0.95zM71.6 58.9h0.95v0.95h-0.95zM72.2 60.1h0.95v0.95h-0.95zM96.0 55.1h0.95v0.95h-0.95zM73.0 56.7h0.95v0.95h-0.95zM77.2 58.2h0.95v0.95h-0.95zM79.1 55.1h0.95v0.95h-0.95zM92.8 62.1h0.95v0.95h-0.95zM58.2 64.8h0.95v0.95h-0.95zM69.8 54.7h0.95v0.95h-0.95zM77.9 58.2h0.95v0.95h-0.95zM80.6 58.0h0.95v0.95h-0.95zM82.0 61.8h0.95v0.95h-0.95zM77.2 61.9h0.95v0.95h-0.95zM70.8 59.0h0.95v0.95h-0.95zM78.0 64.9h0.95v0.95h-0.95zM70.4 73.2h0.95v0.95h-0.95zM89.1 54.8h0.95v0.95h-0.95zM83.7 60.6h0.95v0.95h-0.95zM76.1 56.7h0.95v0.95h-0.95zM88.7 56.5h0.95v0.95h-0.95zM73.3 57.1h0.95v0.95h-0.95zM91.2 67.8h0.95v0.95h-0.95zM62.3 58.6h0.95v0.95h-0.95zM77.2 58.7h0.95v0.95h-0.95zM70.9 55.2h0.95v0.95h-0.95zM76.2 55.1h0.95v0.95h-0.95zM81.4 74.0h0.95v0.95h-0.95zM71.1 69.9h0.95v0.95h-0.95zM77.3 57.4h0.95v0.95h-0.95zM70.9 55.8h0.95v0.95h-0.95zM75.0 64.8h0.95v0.95h-0.95zM82.3 59.5h0.95v0.95h-0.95zM63.4 60.6h0.95v0.95h-0.95zM88.9 62.5h0.95v0.95h-0.95zM73.4 49.8h0.95v0.95h-0.95zM70.2 64.0h0.95v0.95h-0.95zM65.6 68.3h0.95v0.95h-0.95zM69.0 56.3h0.95v0.95h-0.95zM68.9 60.5h0.95v0.95h-0.95zM82.9 58.0h0.95v0.95h-0.95zM58.2 60.6h0.95v0.95h-0.95zM78.6 69.3h0.95v0.95h-0.95zM64.0 69.0h0.95v0.95h-0.95zM80.0 63.5h0.95v0.95h-0.95zM67.2 56.2h0.95v0.95h-0.95zM65.5 66.1h0.95v0.95h-0.95zM75.9 66.8h0.95v0.95h-0.95zM90.1 61.1h0.95v0.95h-0.95zM73.6 71.4h0.95v0.95h-0.95zM62.4 58.6h0.95v0.95h-0.95zM70.7 59.0h0.95v0.95h-0.95zM75.3 56.5h0.95v0.95h-0.95zM84.3 53.7h0.95v0.95h-0.95zM66.8 51.9h0.95v0.95h-0.95zM61.6 64.2h0.95v0.95h-0.95zM79.6 60.0h0.95v0.95h-0.95zM81.5 64.4h0.95v0.95h-0.95zM68.9 60.8h0.95v0.95h-0.95zM77.3 71.9h0.95v0.95h-0.95zM70.1 63.0h0.95v0.95h-0.95zM78.8 67.6h0.95v0.95h-0.95zM77.8 66.8h0.95v0.95h-0.95zM64.6 59.6h0.95v0.95h-0.95zM56.9 60.8h0.95v0.95h-0.95zM94.6 62.3h0.95v0.95h-0.95zM74.8 62.5h0.95v0.95h-0.95zM75.3 53.9h0.95v0.95h-0.95zM67.9 60.1h0.95v0.95h-0.95zM75.5 56.4h0.95v0.95h-0.95zM73.1 57.1h0.95v0.95h-0.95zM62.3 57.5h0.95v0.95h-0.95zM66.9 65.5h0.95v0.95h-0.95zM85.9 64.1h0.95v0.95h-0.95zM72.1 58.0h0.95v0.95h-0.95zM60.1 58.2h0.95v0.95h-0.95zM87.8 67.2h0.95v0.95h-0.95zM76.0 59.7h0.95v0.95h-0.95zM74.0 63.3h0.95v0.95h-0.95zM73.9 63.3h0.95v0.95h-0.95zM67.2 61.3h0.95v0.95h-0.95zM70.9 66.8h0.95v0.95h-0.95zM63.0 68.0h0.95v0.95h-0.95zM73.2 58.3h0.95v0.95h-0.95zM74.2 61.7h0.95v0.95h-0.95zM71.9 63.3h0.95v0.95h-0.95zM68.9 51.9h0.95v0.95h-0.95zM80.2 60.9h0.95v0.95h-0.95zM88.7 63.1h0.95v0.95h-0.95zM56.3 67.7h0.95v0.95h-0.95zM67.9 64.0h0.95v0.95h-0.95zM93.6 66.9h0.95v0.95h-0.95zM64.3 60.5h0.95v0.95h-0.95zM59.8 64.6h0.95v0.95h-0.95zM79.0 55.5h0.95v0.95h-0.95zM78.0 66.1h0.95v0.95h-0.95zM81.1 57.4h0.95v0.95h-0.95zM67.9 55.0h0.95v0.95h-0.95zM62.6 62.7h0.95v0.95h-0.95zM74.4 68.0h0.95v0.95h-0.95zM76.4 59.3h0.95v0.95h-0.95zM61.4 69.3h0.95v0.95h-0.95zM75.5 60.9h0.95v0.95h-0.95zM65.1 55.4h0.95v0.95h-0.95zM79.6 55.8h0.95v0.95h-0.95zM79.2 64.4h0.95v0.95h-0.95zM70.6 52.4h0.95v0.95h-0.95zM77.6 68.6h0.95v0.95h-0.95zM66.7 54.3h0.95v0.95h-0.95zM83.6 61.8h0.95v0.95h-0.95zM68.5 67.6h0.95v0.95h-0.95zM71.6 63.5h0.95v0.95h-0.95zM70.4 57.0h0.95v0.95h-0.95zM75.9 56.5h0.95v0.95h-0.95zM58.3 58.2h0.95v0.95h-0.95zM84.9 66.9h0.95v0.95h-0.95zM93.2 66.4h0.95v0.95h-0.95zM88.3 62.4h0.95v0.95h-0.95zM70.2 63.5h0.95v0.95h-0.95zM65.6 65.0h0.95v0.95h-0.95zM70.0 62.4h0.95v0.95h-0.95zM66.5 60.3h0.95v0.95h-0.95zM82.7 59.9h0.95v0.95h-0.95zM68.1 62.6h0.95v0.95h-0.95zM81.8 60.1h0.95v0.95h-0.95zM63.7 52.7h0.95v0.95h-0.95zM62.2 66.7h0.95v0.95h-0.95zM73.2 63.6h0.95v0.95h-0.95zM83.5 62.6h0.95v0.95h-0.95zM78.3 58.4h0.95v0.95h-0.95zM59.8 64.4h0.95v0.95h-0.95zM73.2 64.1h0.95v0.95h-0.95zM64.6 60.3h0.95v0.95h-0.95zM91.8 56.6h0.95v0.95h-0.95zM74.9 68.0h0.95v0.95h-0.95zM72.0 61.7h0.95v0.95h-0.95zM55.2 65.2h0.95v0.95h-0.95zM70.1 67.9h0.95v0.95h-0.95zM73.2 59.1h0.95v0.95h-0.95zM77.8 59.8h0.95v0.95h-0.95zM69.5 69.3h0.95v0.95h-0.95zM82.7 61.6h0.95v0.95h-0.95zM81.1 65.4h0.95v0.95h-0.95zM79.1 61.3h0.95v0.95h-0.95zM74.6 63.2h0.95v0.95h-0.95zM79.0 62.9h0.95v0.95h-0.95zM69.1 60.7h0.95v0.95h-0.95zM78.0 55.8h0.95v0.95h-0.95zM73.9 65.1h0.95v0.95h-0.95zM75.5 59.6h0.95v0.95h-0.95zM73.8 58.5h0.95v0.95h-0.95zM82.7 59.1h0.95v0.95h-0.95zM59.3 54.7h0.95v0.95h-0.95zM76.6 62.2h0.95v0.95h-0.95zM69.8 54.1h0.95v0.95h-0.95zM72.7 56.6h0.95v0.95h-0.95zM68.2 61.1h0.95v0.95h-0.95zM67.2 62.7h0.95v0.95h-0.95zM67.5 58.6h0.95v0.95h-0.95zM72.0 68.8h0.95v0.95h-0.95zM87.9 66.1h0.95v0.95h-0.95zM77.8 77.1h0.95v0.95h-0.95zM85.0 82.1h0.95v0.95h-0.95zM73.8 76.7h0.95v0.95h-0.95zM77.7 81.8h0.95v0.95h-0.95zM83.8 73.8h0.95v0.95h-0.95zM90.4 75.4h0.95v0.95h-0.95zM91.8 76.0h0.95v0.95h-0.95zM80.6 88.9h0.95v0.95h-0.95zM78.7 74.2h0.95v0.95h-0.95zM87.5 76.9h0.95v0.95h-0.95zM83.1 69.3h0.95v0.95h-0.95zM88.9 83.2h0.95v0.95h-0.95zM82.6 81.5h0.95v0.95h-0.95zM78.8 74.2h0.95v0.95h-0.95zM74.1 79.4h0.95v0.95h-0.95zM86.4 82.4h0.95v0.95h-0.95zM85.1 81.5h0.95v0.95h-0.95zM76.9 69.0h0.95v0.95h-0.95zM83.8 78.1h0.95v0.95h-0.95zM85.3 75.4h0.95v0.95h-0.95zM77.1 79.9h0.95v0.95h-0.95zM78.5 66.9h0.95v0.95h-0.95zM78.3 71.7h0.95v0.95h-0.95zM76.1 73.7h0.95v0.95h-0.95zM85.2 91.7h0.95v0.95h-0.95zM88.6 74.5h0.95v0.95h-0.95zM86.0 76.7h0.95v0.95h-0.95zM82.8 72.9h0.95v0.95h-0.95zM80.7 66.7h0.95v0.95h-0.95zM88.9 72.4h0.95v0.95h-0.95zM83.6 73.5h0.95v0.95h-0.95zM82.2 69.8h0.95v0.95h-0.95zM79.3 82.8h0.95v0.95h-0.95zM83.6 65.1h0.95v0.95h-0.95zM84.8 69.0h0.95v0.95h-0.95zM82.3 80.3h0.95v0.95h-0.95zM78.2 75.1h0.95v0.95h-0.95zM79.9 79.6h0.95v0.95h-0.95zM85.0 85.5h0.95v0.95h-0.95zM82.4 89.4h0.95v0.95h-0.95zM76.8 88.1h0.95v0.95h-0.95zM79.8 81.9h0.95v0.95h-0.95zM80.4 77.6h0.95v0.95h-0.95zM77.0 79.5h0.95v0.95h-0.95zM89.9 78.0h0.95v0.95h-0.95zM80.9 77.1h0.95v0.95h-0.95zM84.1 75.8h0.95v0.95h-0.95zM81.0 78.4h0.95v0.95h-0.95zM86.7 83.0h0.95v0.95h-0.95zM76.4 73.2h0.95v0.95h-0.95zM81.1 82.3h0.95v0.95h-0.95zM85.3 75.8h0.95v0.95h-0.95zM90.4 76.1h0.95v0.95h-0.95zM87.2 85.9h0.95v0.95h-0.95zM88.0 78.3h0.95v0.95h-0.95zM83.5 67.7h0.95v0.95h-0.95zM73.2 73.3h0.95v0.95h-0.95zM84.2 83.7h0.95v0.95h-0.95zM80.5 83.5h0.95v0.95h-0.95zM83.5 86.5h0.95v0.95h-0.95zM74.0 72.0h0.95v0.95h-0.95zM76.8 70.7h0.95v0.95h-0.95zM88.3 71.4h0.95v0.95h-0.95zM77.3 74.6h0.95v0.95h-0.95zM84.9 74.3h0.95v0.95h-0.95zM84.2 80.5h0.95v0.95h-0.95zM78.2 62.5h0.95v0.95h-0.95zM77.0 69.4h0.95v0.95h-0.95zM88.2 72.7h0.95v0.95h-0.95zM76.3 79.4h0.95v0.95h-0.95zM81.2 71.3h0.95v0.95h-0.95zM85.8 82.8h0.95v0.95h-0.95zM82.2 72.4h0.95v0.95h-0.95zM77.2 64.4h0.95v0.95h-0.95zM82.7 79.5h0.95v0.95h-0.95zM76.9 77.3h0.95v0.95h-0.95zM95.5 70.1h0.95v0.95h-0.95zM73.5 80.9h0.95v0.95h-0.95zM79.1 74.0h0.95v0.95h-0.95zM83.7 76.3h0.95v0.95h-0.95zM85.4 80.3h0.95v0.95h-0.95zM86.1 77.8h0.95v0.95h-0.95zM71.5 85.5h0.95v0.95h-0.95zM73.5 83.5h0.95v0.95h-0.95zM82.1 68.5h0.95v0.95h-0.95zM81.3 82.5h0.95v0.95h-0.95zM76.5 77.3h0.95v0.95h-0.95zM77.7 70.9h0.95v0.95h-0.95zM78.3 85.0h0.95v0.95h-0.95zM84.0 76.9h0.95v0.95h-0.95zM80.6 77.9h0.95v0.95h-0.95zM82.3 78.2h0.95v0.95h-0.95zM73.4 82.8h0.95v0.95h-0.95zM77.2 61.0h0.95v0.95h-0.95zM84.1 69.6h0.95v0.95h-0.95zM80.4 76.5h0.95v0.95h-0.95zM78.4 80.4h0.95v0.95h-0.95zM79.8 75.4h0.95v0.95h-0.95zM76.8 75.3h0.95v0.95h-0.95zM76.4 77.3h0.95v0.95h-0.95zM86.8 83.3h0.95v0.95h-0.95zM82.9 68.7h0.95v0.95h-0.95zM85.5 82.8h0.95v0.95h-0.95zM90.1 63.2h0.95v0.95h-0.95zM81.1 75.0h0.95v0.95h-0.95zM85.8 70.4h0.95v0.95h-0.95zM79.3 91.4h0.95v0.95h-0.95zM85.4 64.7h0.95v0.95h-0.95zM81.1 85.5h0.95v0.95h-0.95zM78.3 80.8h0.95v0.95h-0.95zM81.4 68.0h0.95v0.95h-0.95zM78.2 84.1h0.95v0.95h-0.95zM86.2 73.3h0.95v0.95h-0.95zM86.0 72.7h0.95v0.95h-0.95zM82.1 76.9h0.95v0.95h-0.95zM75.5 79.1h0.95v0.95h-0.95zM79.3 60.1h0.95v0.95h-0.95zM77.3 71.8h0.95v0.95h-0.95zM77.3 71.0h0.95v0.95h-0.95zM78.0 61.9h0.95v0.95h-0.95zM84.9 77.5h0.95v0.95h-0.95zM82.1 75.4h0.95v0.95h-0.95zM81.3 75.4h0.95v0.95h-0.95zM76.2 67.6h0.95v0.95h-0.95zM81.3 83.4h0.95v0.95h-0.95zM82.0 87.0h0.95v0.95h-0.95zM75.0 75.4h0.95v0.95h-0.95zM78.3 84.7h0.95v0.95h-0.95zM88.5 73.8h0.95v0.95h-0.95zM84.2 75.5h0.95v0.95h-0.95zM76.6 76.4h0.95v0.95h-0.95zM76.4 86.7h0.95v0.95h-0.95zM83.6 84.4h0.95v0.95h-0.95zM82.6 62.0h0.95v0.95h-0.95zM84.6 77.6h0.95v0.95h-0.95zM70.4 77.7h0.95v0.95h-0.95zM85.5 87.7h0.95v0.95h-0.95zM76.5 81.9h0.95v0.95h-0.95zM82.5 76.0h0.95v0.95h-0.95zM79.7 80.3h0.95v0.95h-0.95zM83.6 81.1h0.95v0.95h-0.95zM79.2 68.8h0.95v0.95h-0.95zM86.8 85.1h0.95v0.95h-0.95zM78.5 76.8h0.95v0.95h-0.95zM84.6 66.1h0.95v0.95h-0.95zM83.2 92.1h0.95v0.95h-0.95zM82.2 72.6h0.95v0.95h-0.95zM90.0 77.1h0.95v0.95h-0.95zM81.9 74.4h0.95v0.95h-0.95zM81.8 65.9h0.95v0.95h-0.95zM75.3 67.8h0.95v0.95h-0.95zM85.0 76.4h0.95v0.95h-0.95zM86.1 64.3h0.95v0.95h-0.95zM78.3 86.1h0.95v0.95h-0.95zM77.5 65.4h0.95v0.95h-0.95zM77.7 74.9h0.95v0.95h-0.95zM80.9 85.1h0.95v0.95h-0.95zM86.9 86.7h0.95v0.95h-0.95zM83.6 73.9h0.95v0.95h-0.95zM78.8 67.8h0.95v0.95h-0.95zM86.6 84.8h0.95v0.95h-0.95zM81.4 71.5h0.95v0.95h-0.95zM84.0 80.1h0.95v0.95h-0.95zM81.7 69.8h0.95v0.95h-0.95zM82.1 73.5h0.95v0.95h-0.95zM84.3 80.7h0.95v0.95h-0.95zM82.9 74.4h0.95v0.95h-0.95zM87.7 81.8h0.95v0.95h-0.95zM86.6 82.2h0.95v0.95h-0.95zM83.9 79.5h0.95v0.95h-0.95zM76.3 65.7h0.95v0.95h-0.95zM76.9 80.8h0.95v0.95h-0.95zM85.0 78.2h0.95v0.95h-0.95zM81.4 88.4h0.95v0.95h-0.95zM79.2 65.9h0.95v0.95h-0.95zM74.2 75.0h0.95v0.95h-0.95zM84.1 81.6h0.95v0.95h-0.95zM80.0 82.1h0.95v0.95h-0.95zM80.8 72.5h0.95v0.95h-0.95zM79.3 81.7h0.95v0.95h-0.95zM85.2 70.0h0.95v0.95h-0.95zM76.6 77.8h0.95v0.95h-0.95zM90.4 69.7h0.95v0.95h-0.95zM75.5 79.6h0.95v0.95h-0.95zM83.2 73.2h0.95v0.95h-0.95zM80.9 80.0h0.95v0.95h-0.95zM73.3 76.9h0.95v0.95h-0.95zM83.7 82.8h0.95v0.95h-0.95zM86.1 76.6h0.95v0.95h-0.95zM74.6 85.4h0.95v0.95h-0.95zM84.4 73.0h0.95v0.95h-0.95zM85.6 83.5h0.95v0.95h-0.95zM80.4 62.3h0.95v0.95h-0.95zM78.9 72.3h0.95v0.95h-0.95zM77.3 76.5h0.95v0.95h-0.95zM76.2 79.4h0.95v0.95h-0.95zM89.3 69.6h0.95v0.95h-0.95zM85.6 73.7h0.95v0.95h-0.95zM83.4 76.2h0.95v0.95h-0.95zM86.7 72.6h0.95v0.95h-0.95zM84.2 72.2h0.95v0.95h-0.95zM82.0 76.9h0.95v0.95h-0.95zM85.8 67.2h0.95v0.95h-0.95zM75.1 85.7h0.95v0.95h-0.95zM82.7 87.6h0.95v0.95h-0.95zM76.5 78.3h0.95v0.95h-0.95zM83.7 88.0h0.95v0.95h-0.95zM80.8 74.2h0.95v0.95h-0.95zM84.2 76.4h0.95v0.95h-0.95zM77.7 81.8h0.95v0.95h-0.95zM72.6 70.7h0.95v0.95h-0.95zM87.0 73.9h0.95v0.95h-0.95zM79.6 79.3h0.95v0.95h-0.95zM85.9 80.3h0.95v0.95h-0.95zM76.8 73.5h0.95v0.95h-0.95zM85.6 76.3h0.95v0.95h-0.95zM78.2 82.4h0.95v0.95h-0.95zM86.0 90.6h0.95v0.95h-0.95zM76.3 72.6h0.95v0.95h-0.95zM78.0 79.2h0.95v0.95h-0.95zM78.9 84.0h0.95v0.95h-0.95zM69.2 83.0h0.95v0.95h-0.95zM78.2 75.3h0.95v0.95h-0.95zM83.5 78.3h0.95v0.95h-0.95zM76.5 86.4h0.95v0.95h-0.95zM83.5 73.9h0.95v0.95h-0.95zM81.9 70.1h0.95v0.95h-0.95zM75.6 75.1h0.95v0.95h-0.95zM82.6 77.6h0.95v0.95h-0.95zM77.6 68.4h0.95v0.95h-0.95zM73.6 87.0h0.95v0.95h-0.95zM82.6 72.0h0.95v0.95h-0.95zM86.2 80.4h0.95v0.95h-0.95zM79.2 73.2h0.95v0.95h-0.95zM86.0 79.0h0.95v0.95h-0.95zM88.2 79.3h0.95v0.95h-0.95zM78.4 73.3h0.95v0.95h-0.95zM77.9 78.6h0.95v0.95h-0.95zM82.1 80.8h0.95v0.95h-0.95zM83.0 70.5h0.95v0.95h-0.95zM80.1 71.1h0.95v0.95h-0.95zM83.1 68.8h0.95v0.95h-0.95zM78.5 71.7h0.95v0.95h-0.95zM78.3 75.4h0.95v0.95h-0.95zM87.6 75.4h0.95v0.95h-0.95zM74.7 75.1h0.95v0.95h-0.95zM84.3 80.5h0.95v0.95h-0.95zM82.1 89.4h0.95v0.95h-0.95zM85.9 77.6h0.95v0.95h-0.95zM86.3 68.7h0.95v0.95h-0.95zM80.3 71.6h0.95v0.95h-0.95zM81.8 87.1h0.95v0.95h-0.95zM78.8 86.9h0.95v0.95h-0.95zM76.5 85.9h0.95v0.95h-0.95zM73.6 71.7h0.95v0.95h-0.95zM85.4 76.4h0.95v0.95h-0.95zM81.6 76.9h0.95v0.95h-0.95zM81.8 75.9h0.95v0.95h-0.95zM76.7 75.2h0.95v0.95h-0.95zM81.5 71.4h0.95v0.95h-0.95zM83.0 88.0h0.95v0.95h-0.95zM73.8 73.6h0.95v0.95h-0.95zM79.8 77.1h0.95v0.95h-0.95zM81.4 72.5h0.95v0.95h-0.95zM80.9 77.0h0.95v0.95h-0.95zM80.6 86.6h0.95v0.95h-0.95zM81.6 67.8h0.95v0.95h-0.95zM74.1 80.7h0.95v0.95h-0.95zM79.5 73.1h0.95v0.95h-0.95zM75.1 75.1h0.95v0.95h-0.95zM80.6 72.7h0.95v0.95h-0.95zM79.5 82.5h0.95v0.95h-0.95zM84.4 80.4h0.95v0.95h-0.95zM80.2 68.5h0.95v0.95h-0.95zM84.4 86.3h0.95v0.95h-0.95zM86.6 84.3h0.95v0.95h-0.95zM82.2 79.3h0.95v0.95h-0.95zM80.9 84.8h0.95v0.95h-0.95zM79.8 90.4h0.95v0.95h-0.95zM84.4 75.0h0.95v0.95h-0.95zM81.0 67.0h0.95v0.95h-0.95zM77.8 75.1h0.95v0.95h-0.95zM91.7 71.9h0.95v0.95h-0.95zM85.0 77.5h0.95v0.95h-0.95zM79.7 80.9h0.95v0.95h-0.95zM72.3 82.9h0.95v0.95h-0.95zM89.5 78.8h0.95v0.95h-0.95zM80.7 78.0h0.95v0.95h-0.95zM83.9 73.9h0.95v0.95h-0.95zM81.5 80.1h0.95v0.95h-0.95zM79.5 79.4h0.95v0.95h-0.95zM82.5 81.5h0.95v0.95h-0.95zM76.7 73.7h0.95v0.95h-0.95zM79.1 84.5h0.95v0.95h-0.95zM82.1 66.7h0.95v0.95h-0.95zM75.4 89.1h0.95v0.95h-0.95zM82.5 68.9h0.95v0.95h-0.95zM77.0 77.9h0.95v0.95h-0.95zM87.2 87.1h0.95v0.95h-0.95zM79.4 75.1h0.95v0.95h-0.95zM104.5 66.5h0.95v0.95h-0.95zM103.3 76.6h0.95v0.95h-0.95zM98.3 83.9h0.95v0.95h-0.95zM99.6 67.6h0.95v0.95h-0.95zM92.8 74.1h0.95v0.95h-0.95zM99.7 84.5h0.95v0.95h-0.95zM89.1 84.3h0.95v0.95h-0.95zM100.1 85.7h0.95v0.95h-0.95zM100.7 75.6h0.95v0.95h-0.95zM99.5 77.1h0.95v0.95h-0.95zM95.9 73.1h0.95v0.95h-0.95zM98.4 70.5h0.95v0.95h-0.95zM93.0 62.9h0.95v0.95h-0.95zM99.7 78.0h0.95v0.95h-0.95zM98.4 65.0h0.95v0.95h-0.95zM100.9 71.0h0.95v0.95h-0.95zM90.9 86.0h0.95v0.95h-0.95zM92.9 91.3h0.95v0.95h-0.95zM99.8 70.6h0.95v0.95h-0.95zM90.0 68.6h0.95v0.95h-0.95zM103.0 84.5h0.95v0.95h-0.95zM98.9 60.8h0.95v0.95h-0.95zM96.7 71.8h0.95v0.95h-0.95zM99.6 73.0h0.95v0.95h-0.95zM99.2 61.5h0.95v0.95h-0.95zM95.8 85.1h0.95v0.95h-0.95zM93.1 81.1h0.95v0.95h-0.95zM105.8 79.0h0.95v0.95h-0.95zM93.3 83.6h0.95v0.95h-0.95zM91.7 76.6h0.95v0.95h-0.95zM96.6 83.5h0.95v0.95h-0.95zM102.0 75.5h0.95v0.95h-0.95zM104.1 81.6h0.95v0.95h-0.95zM96.4 66.4h0.95v0.95h-0.95zM106.4 70.9h0.95v0.95h-0.95zM99.4 73.1h0.95v0.95h-0.95zM96.4 61.6h0.95v0.95h-0.95zM97.5 73.1h0.95v0.95h-0.95zM101.3 70.0h0.95v0.95h-0.95zM92.7 65.7h0.95v0.95h-0.95zM97.9 75.9h0.95v0.95h-0.95zM100.5 71.1h0.95v0.95h-0.95zM99.8 75.1h0.95v0.95h-0.95zM103.7 73.6h0.95v0.95h-0.95zM98.5 78.4h0.95v0.95h-0.95zM102.1 66.9h0.95v0.95h-0.95zM96.4 71.9h0.95v0.95h-0.95zM90.8 84.0h0.95v0.95h-0.95zM101.6 74.2h0.95v0.95h-0.95zM109.4 83.8h0.95v0.95h-0.95zM104.9 86.1h0.95v0.95h-0.95zM101.1 63.1h0.95v0.95h-0.95zM103.2 77.2h0.95v0.95h-0.95zM93.9 74.4h0.95v0.95h-0.95zM100.6 81.6h0.95v0.95h-0.95zM98.6 70.0h0.95v0.95h-0.95zM100.6 68.1h0.95v0.95h-0.95zM97.7 79.9h0.95v0.95h-0.95zM93.1 76.9h0.95v0.95h-0.95zM91.3 66.9h0.95v0.95h-0.95zM93.8 73.3h0.95v0.95h-0.95zM100.4 73.6h0.95v0.95h-0.95zM101.1 74.7h0.95v0.95h-0.95zM97.3 77.8h0.95v0.95h-0.95zM97.2 75.0h0.95v0.95h-0.95zM101.5 69.6h0.95v0.95h-0.95zM101.9 65.5h0.95v0.95h-0.95zM97.3 60.6h0.95v0.95h-0.95zM96.2 86.3h0.95v0.95h-0.95zM99.2 83.8h0.95v0.95h-0.95zM93.0 66.2h0.95v0.95h-0.95zM99.6 80.4h0.95v0.95h-0.95zM100.8 61.1h0.95v0.95h-0.95zM99.7 73.4h0.95v0.95h-0.95zM98.4 77.7h0.95v0.95h-0.95zM97.0 60.9h0.95v0.95h-0.95zM94.4 62.8h0.95v0.95h-0.95zM93.5 73.0h0.95v0.95h-0.95zM102.4 68.5h0.95v0.95h-0.95zM95.4 65.1h0.95v0.95h-0.95zM92.1 74.5h0.95v0.95h-0.95zM96.3 72.1h0.95v0.95h-0.95zM94.7 77.8h0.95v0.95h-0.95zM93.9 78.2h0.95v0.95h-0.95zM95.7 80.1h0.95v0.95h-0.95zM95.0 77.4h0.95v0.95h-0.95zM99.5 73.4h0.95v0.95h-0.95zM103.6 75.4h0.95v0.95h-0.95zM95.0 79.3h0.95v0.95h-0.95zM95.2 69.8h0.95v0.95h-0.95zM98.0 75.4h0.95v0.95h-0.95zM103.8 60.5h0.95v0.95h-0.95zM97.1 82.7h0.95v0.95h-0.95zM97.5 76.5h0.95v0.95h-0.95zM103.2 64.5h0.95v0.95h-0.95zM98.2 80.1h0.95v0.95h-0.95zM96.0 60.5h0.95v0.95h-0.95zM94.6 75.5h0.95v0.95h-0.95zM98.6 88.2h0.95v0.95h-0.95zM102.5 62.0h0.95v0.95h-0.95zM101.5 81.1h0.95v0.95h-0.95zM103.5 72.8h0.95v0.95h-0.95zM96.1 75.1h0.95v0.95h-0.95zM103.3 78.8h0.95v0.95h-0.95zM103.8 80.1h0.95v0.95h-0.95zM96.0 66.2h0.95v0.95h-0.95zM104.3 62.3h0.95v0.95h-0.95zM96.8 71.5h0.95v0.95h-0.95zM94.9 69.6h0.95v0.95h-0.95zM98.0 92.4h0.95v0.95h-0.95zM97.8 70.0h0.95v0.95h-0.95zM98.4 81.3h0.95v0.95h-0.95zM95.2 70.9h0.95v0.95h-0.95zM92.0 79.4h0.95v0.95h-0.95zM100.3 85.6h0.95v0.95h-0.95zM93.9 90.8h0.95v0.95h-0.95zM101.0 71.9h0.95v0.95h-0.95zM96.7 71.6h0.95v0.95h-0.95zM93.9 80.0h0.95v0.95h-0.95zM95.9 68.4h0.95v0.95h-0.95zM99.8 74.9h0.95v0.95h-0.95zM96.0 72.2h0.95v0.95h-0.95zM96.3 84.4h0.95v0.95h-0.95zM101.4 68.4h0.95v0.95h-0.95zM97.9 84.6h0.95v0.95h-0.95zM97.0 87.8h0.95v0.95h-0.95zM99.5 79.2h0.95v0.95h-0.95zM90.9 80.6h0.95v0.95h-0.95zM99.2 78.5h0.95v0.95h-0.95zM99.6 78.1h0.95v0.95h-0.95zM96.3 81.0h0.95v0.95h-0.95zM98.2 65.9h0.95v0.95h-0.95zM94.5 75.3h0.95v0.95h-0.95zM99.1 56.9h0.95v0.95h-0.95zM91.0 82.1h0.95v0.95h-0.95zM98.0 96.1h0.95v0.95h-0.95zM92.8 72.1h0.95v0.95h-0.95zM96.0 78.3h0.95v0.95h-0.95zM102.8 86.5h0.95v0.95h-0.95zM94.6 83.6h0.95v0.95h-0.95zM93.8 76.4h0.95v0.95h-0.95zM98.6 78.8h0.95v0.95h-0.95zM95.3 84.4h0.95v0.95h-0.95zM97.8 73.9h0.95v0.95h-0.95zM97.1 65.7h0.95v0.95h-0.95zM100.5 76.6h0.95v0.95h-0.95zM99.6 88.5h0.95v0.95h-0.95zM95.0 71.8h0.95v0.95h-0.95zM98.0 80.6h0.95v0.95h-0.95zM97.4 81.2h0.95v0.95h-0.95zM99.6 60.4h0.95v0.95h-0.95zM95.7 58.2h0.95v0.95h-0.95zM97.0 70.8h0.95v0.95h-0.95zM100.0 75.3h0.95v0.95h-0.95zM97.8 83.8h0.95v0.95h-0.95zM100.0 64.4h0.95v0.95h-0.95zM95.6 76.5h0.95v0.95h-0.95zM103.8 72.5h0.95v0.95h-0.95zM97.4 76.1h0.95v0.95h-0.95zM100.7 73.3h0.95v0.95h-0.95zM99.0 70.7h0.95v0.95h-0.95zM96.1 67.8h0.95v0.95h-0.95zM100.3 69.7h0.95v0.95h-0.95zM99.9 77.2h0.95v0.95h-0.95zM101.3 53.2h0.95v0.95h-0.95zM94.7 64.5h0.95v0.95h-0.95zM97.4 80.3h0.95v0.95h-0.95zM106.7 86.0h0.95v0.95h-0.95zM102.6 77.0h0.95v0.95h-0.95zM96.7 78.2h0.95v0.95h-0.95zM57.4 53.6h0.95v0.95h-0.95zM68.0 52.4h0.95v0.95h-0.95zM63.0 45.7h0.95v0.95h-0.95zM64.9 49.8h0.95v0.95h-0.95zM69.7 48.6h0.95v0.95h-0.95zM69.7 52.6h0.95v0.95h-0.95zM62.3 49.6h0.95v0.95h-0.95zM60.4 47.9h0.95v0.95h-0.95zM72.4 47.2h0.95v0.95h-0.95zM77.1 52.0h0.95v0.95h-0.95zM72.3 50.4h0.95v0.95h-0.95zM72.2 54.3h0.95v0.95h-0.95zM68.5 47.9h0.95v0.95h-0.95zM65.3 57.5h0.95v0.95h-0.95zM67.1 48.2h0.95v0.95h-0.95zM64.5 43.4h0.95v0.95h-0.95zM65.6 51.3h0.95v0.95h-0.95zM65.6 47.1h0.95v0.95h-0.95zM70.0 51.8h0.95v0.95h-0.95zM65.9 51.2h0.95v0.95h-0.95zM63.2 53.3h0.95v0.95h-0.95zM63.2 48.7h0.95v0.95h-0.95zM68.7 48.4h0.95v0.95h-0.95zM62.4 58.2h0.95v0.95h-0.95zM75.4 43.2h0.95v0.95h-0.95zM68.6 45.1h0.95v0.95h-0.95zM69.5 44.9h0.95v0.95h-0.95zM70.8 52.1h0.95v0.95h-0.95zM76.3 54.7h0.95v0.95h-0.95zM65.8 53.7h0.95v0.95h-0.95zM65.8 49.6h0.95v0.95h-0.95zM65.6 43.1h0.95v0.95h-0.95zM70.9 42.1h0.95v0.95h-0.95zM66.8 52.0h0.95v0.95h-0.95zM68.6 43.9h0.95v0.95h-0.95zM64.8 52.6h0.95v0.95h-0.95zM73.4 56.2h0.95v0.95h-0.95zM59.1 51.8h0.95v0.95h-0.95zM65.6 53.0h0.95v0.95h-0.95zM59.8 49.4h0.95v0.95h-0.95zM71.5 47.5h0.95v0.95h-0.95zM66.2 46.2h0.95v0.95h-0.95zM73.4 44.8h0.95v0.95h-0.95zM63.5 48.7h0.95v0.95h-0.95zM66.5 58.2h0.95v0.95h-0.95zM69.3 46.8h0.95v0.95h-0.95zM70.8 51.3h0.95v0.95h-0.95zM69.4 49.7h0.95v0.95h-0.95zM70.3 45.4h0.95v0.95h-0.95zM62.1 48.3h0.95v0.95h-0.95zM62.6 52.7h0.95v0.95h-0.95zM77.5 54.8h0.95v0.95h-0.95zM70.2 51.3h0.95v0.95h-0.95zM64.7 44.9h0.95v0.95h-0.95zM70.7 44.2h0.95v0.95h-0.95zM69.5 49.5h0.95v0.95h-0.95zM71.7 50.2h0.95v0.95h-0.95zM68.5 47.7h0.95v0.95h-0.95zM59.6 48.7h0.95v0.95h-0.95zM71.4 54.1h0.95v0.95h-0.95zM74.7 46.1h0.95v0.95h-0.95zM63.4 52.7h0.95v0.95h-0.95zM65.8 60.0h0.95v0.95h-0.95zM69.5 44.1h0.95v0.95h-0.95zM65.3 56.1h0.95v0.95h-0.95zM59.1 50.6h0.95v0.95h-0.95zM61.2 56.2h0.95v0.95h-0.95zM65.8 46.0h0.95v0.95h-0.95zM59.7 47.2h0.95v0.95h-0.95zM55.5 48.2h0.95v0.95h-0.95zM78.7 50.4h0.95v0.95h-0.95zM66.7 45.5h0.95v0.95h-0.95zM69.7 48.2h0.95v0.95h-0.95zM63.9 55.4h0.95v0.95h-0.95zM70.1 46.5h0.95v0.95h-0.95zM75.2 49.8h0.95v0.95h-0.95zM70.5 50.6h0.95v0.95h-0.95zM73.8 52.4h0.95v0.95h-0.95zM66.3 52.8h0.95v0.95h-0.95zM66.1 50.5h0.95v0.95h-0.95zM76.0 45.9h0.95v0.95h-0.95zM62.9 48.4h0.95v0.95h-0.95zM65.6 55.1h0.95v0.95h-0.95zM60.2 58.9h0.95v0.95h-0.95zM75.7 48.2h0.95v0.95h-0.95zM68.9 48.6h0.95v0.95h-0.95zM71.3 52.6h0.95v0.95h-0.95zM71.7 53.0h0.95v0.95h-0.95zM77.4 49.3h0.95v0.95h-0.95zM71.4 49.3h0.95v0.95h-0.95zM68.2 50.9h0.95v0.95h-0.95zM67.7 51.3h0.95v0.95h-0.95zM63.8 49.4h0.95v0.95h-0.95zM65.0 45.4h0.95v0.95h-0.95zM64.5 48.1h0.95v0.95h-0.95zM67.3 43.9h0.95v0.95h-0.95zM66.7 45.6h0.95v0.95h-0.95zM64.0 50.7h0.95v0.95h-0.95zM73.4 51.1h0.95v0.95h-0.95zM65.6 48.3h0.95v0.95h-0.95zM74.6 43.7h0.95v0.95h-0.95zM73.6 44.1h0.95v0.95h-0.95zM64.9 50.2h0.95v0.95h-0.95zM66.9 56.5h0.95v0.95h-0.95zM70.4 49.8h0.95v0.95h-0.95zM72.7 50.1h0.95v0.95h-0.95zM64.1 54.4h0.95v0.95h-0.95zM75.3 55.0h0.95v0.95h-0.95zM62.3 57.4h0.95v0.95h-0.95zM66.0 53.0h0.95v0.95h-0.95zM73.8 59.3h0.95v0.95h-0.95zM60.1 46.0h0.95v0.95h-0.95zM73.8 51.9h0.95v0.95h-0.95zM66.5 38.6h0.95v0.95h-0.95zM70.2 49.3h0.95v0.95h-0.95zM55.2 60.5h0.95v0.95h-0.95zM55.8 47.8h0.95v0.95h-0.95zM68.0 50.9h0.95v0.95h-0.95zM71.7 49.0h0.95v0.95h-0.95zM63.6 48.6h0.95v0.95h-0.95zM57.7 45.6h0.95v0.95h-0.95zM77.7 47.3h0.95v0.95h-0.95zM67.6 57.4h0.95v0.95h-0.95zM73.2 50.5h0.95v0.95h-0.95zM71.6 48.9h0.95v0.95h-0.95zM63.6 53.9h0.95v0.95h-0.95zM68.7 56.3h0.95v0.95h-0.95zM66.7 48.5h0.95v0.95h-0.95zM69.7 49.3h0.95v0.95h-0.95zM66.5 46.5h0.95v0.95h-0.95zM69.2 51.3h0.95v0.95h-0.95zM77.0 49.9h0.95v0.95h-0.95zM59.4 51.8h0.95v0.95h-0.95zM79.2 48.3h0.95v0.95h-0.95zM64.1 49.3h0.95v0.95h-0.95zM54.0 48.7h0.95v0.95h-0.95zM67.1 44.1h0.95v0.95h-0.95zM70.8 46.6h0.95v0.95h-0.95zM58.9 47.2h0.95v0.95h-0.95zM71.1 57.5h0.95v0.95h-0.95zM74.1 50.8h0.95v0.95h-0.95zM65.5 49.0h0.95v0.95h-0.95zM72.7 48.0h0.95v0.95h-0.95zM70.0 53.8h0.95v0.95h-0.95zM63.6 47.7h0.95v0.95h-0.95zM70.2 50.0h0.95v0.95h-0.95zM67.4 47.9h0.95v0.95h-0.95zM67.7 57.3h0.95v0.95h-0.95zM74.7 43.7h0.95v0.95h-0.95zM68.2 50.4h0.95v0.95h-0.95zM68.2 44.6h0.95v0.95h-0.95zM67.4 50.6h0.95v0.95h-0.95zM64.7 51.2h0.95v0.95h-0.95zM56.0 44.1h0.95v0.95h-0.95zM68.5 51.5h0.95v0.95h-0.95zM67.2 48.2h0.95v0.95h-0.95zM68.9 54.2h0.95v0.95h-0.95zM72.4 49.7h0.95v0.95h-0.95zM65.7 54.2h0.95v0.95h-0.95zM70.7 53.5h0.95v0.95h-0.95zM66.6 46.6h0.95v0.95h-0.95zM68.9 47.6h0.95v0.95h-0.95zM73.6 53.3h0.95v0.95h-0.95zM57.3 52.6h0.95v0.95h-0.95zM74.5 54.1h0.95v0.95h-0.95zM65.7 46.6h0.95v0.95h-0.95zM72.8 54.0h0.95v0.95h-0.95zM68.3 45.5h0.95v0.95h-0.95zM60.5 51.0h0.95v0.95h-0.95zM63.9 47.3h0.95v0.95h-0.95zM70.2 54.1h0.95v0.95h-0.95zM57.9 47.4h0.95v0.95h-0.95zM74.4 49.8h0.95v0.95h-0.95zM66.3 52.5h0.95v0.95h-0.95zM62.4 45.2h0.95v0.95h-0.95zM68.1 56.1h0.95v0.95h-0.95zM73.0 50.0h0.95v0.95h-0.95zM73.0 48.4h0.95v0.95h-0.95zM62.2 43.4h0.95v0.95h-0.95zM69.3 53.5h0.95v0.95h-0.95zM69.8 49.9h0.95v0.95h-0.95zM66.0 54.3h0.95v0.95h-0.95zM67.8 44.4h0.95v0.95h-0.95zM74.7 47.5h0.95v0.95h-0.95zM69.9 50.0h0.95v0.95h-0.95zM73.2 51.0h0.95v0.95h-0.95zM74.0 50.8h0.95v0.95h-0.95zM65.7 48.0h0.95v0.95h-0.95zM71.2 46.8h0.95v0.95h-0.95zM72.6 49.1h0.95v0.95h-0.95zM63.4 46.6h0.95v0.95h-0.95zM67.3 56.9h0.95v0.95h-0.95zM71.8 50.1h0.95v0.95h-0.95zM63.6 57.5h0.95v0.95h-0.95zM66.6 50.0h0.95v0.95h-0.95zM65.9 55.2h0.95v0.95h-0.95zM68.9 48.2h0.95v0.95h-0.95zM68.9 46.1h0.95v0.95h-0.95zM62.8 49.4h0.95v0.95h-0.95zM53.9 54.6h0.95v0.95h-0.95zM73.9 26.5h0.95v0.95h-0.95zM69.4 34.2h0.95v0.95h-0.95zM70.8 25.2h0.95v0.95h-0.95zM67.5 29.2h0.95v0.95h-0.95zM68.4 46.4h0.95v0.95h-0.95zM68.5 32.8h0.95v0.95h-0.95zM67.8 37.7h0.95v0.95h-0.95zM75.3 39.8h0.95v0.95h-0.95zM72.8 26.7h0.95v0.95h-0.95zM71.6 33.2h0.95v0.95h-0.95zM72.1 39.2h0.95v0.95h-0.95zM69.3 30.1h0.95v0.95h-0.95zM70.1 33.2h0.95v0.95h-0.95zM67.2 32.6h0.95v0.95h-0.95zM69.8 30.6h0.95v0.95h-0.95zM68.9 33.3h0.95v0.95h-0.95zM71.6 32.3h0.95v0.95h-0.95zM62.6 24.4h0.95v0.95h-0.95zM70.0 32.4h0.95v0.95h-0.95zM69.0 28.7h0.95v0.95h-0.95zM68.0 37.9h0.95v0.95h-0.95zM69.9 32.8h0.95v0.95h-0.95zM67.8 34.2h0.95v0.95h-0.95zM71.9 32.9h0.95v0.95h-0.95zM68.1 26.1h0.95v0.95h-0.95zM69.2 27.6h0.95v0.95h-0.95zM65.5 38.1h0.95v0.95h-0.95zM67.2 43.9h0.95v0.95h-0.95zM68.7 25.2h0.95v0.95h-0.95zM66.3 37.2h0.95v0.95h-0.95zM70.0 34.3h0.95v0.95h-0.95zM68.5 35.9h0.95v0.95h-0.95zM72.8 35.9h0.95v0.95h-0.95zM68.6 24.8h0.95v0.95h-0.95zM70.1 42.2h0.95v0.95h-0.95zM70.6 25.6h0.95v0.95h-0.95zM69.5 40.7h0.95v0.95h-0.95zM67.4 35.9h0.95v0.95h-0.95zM72.0 42.6h0.95v0.95h-0.95zM69.9 37.1h0.95v0.95h-0.95zM68.1 32.9h0.95v0.95h-0.95zM68.0 40.1h0.95v0.95h-0.95zM63.6 34.5h0.95v0.95h-0.95zM65.9 29.0h0.95v0.95h-0.95zM65.2 27.6h0.95v0.95h-0.95zM68.9 33.2h0.95v0.95h-0.95zM73.4 31.7h0.95v0.95h-0.95zM69.9 35.1h0.95v0.95h-0.95zM69.6 41.7h0.95v0.95h-0.95zM69.3 33.9h0.95v0.95h-0.95zM68.7 33.0h0.95v0.95h-0.95zM68.9 38.9h0.95v0.95h-0.95zM69.0 33.4h0.95v0.95h-0.95zM68.9 37.5h0.95v0.95h-0.95zM67.8 38.5h0.95v0.95h-0.95zM67.6 37.1h0.95v0.95h-0.95zM73.7 34.4h0.95v0.95h-0.95zM68.8 26.0h0.95v0.95h-0.95zM70.8 33.1h0.95v0.95h-0.95zM71.2 29.1h0.95v0.95h-0.95zM70.3 43.7h0.95v0.95h-0.95zM70.0 31.1h0.95v0.95h-0.95zM65.8 32.9h0.95v0.95h-0.95zM70.6 36.5h0.95v0.95h-0.95zM66.2 26.9h0.95v0.95h-0.95zM66.6 27.0h0.95v0.95h-0.95zM68.3 34.6h0.95v0.95h-0.95zM73.7 34.2h0.95v0.95h-0.95zM72.8 37.7h0.95v0.95h-0.95zM70.1 37.9h0.95v0.95h-0.95zM70.5 44.3h0.95v0.95h-0.95zM64.7 42.5h0.95v0.95h-0.95zM68.8 40.8h0.95v0.95h-0.95zM68.2 29.1h0.95v0.95h-0.95zM68.2 34.9h0.95v0.95h-0.95zM69.5 29.3h0.95v0.95h-0.95zM70.3 36.7h0.95v0.95h-0.95zM66.7 26.4h0.95v0.95h-0.95zM64.2 31.2h0.95v0.95h-0.95zM69.0 28.9h0.95v0.95h-0.95zM67.5 32.2h0.95v0.95h-0.95zM69.1 36.4h0.95v0.95h-0.95zM71.1 35.6h0.95v0.95h-0.95zM71.8 27.3h0.95v0.95h-0.95zM70.5 35.2h0.95v0.95h-0.95zM66.4 29.0h0.95v0.95h-0.95zM70.1 33.4h0.95v0.95h-0.95zM65.9 29.7h0.95v0.95h-0.95zM72.8 38.0h0.95v0.95h-0.95zM69.2 41.0h0.95v0.95h-0.95zM66.8 32.0h0.95v0.95h-0.95zM71.4 31.0h0.95v0.95h-0.95zM66.2 36.5h0.95v0.95h-0.95zM69.4 25.6h0.95v0.95h-0.95zM68.3 24.6h0.95v0.95h-0.95zM75.4 29.0h0.95v0.95h-0.95zM69.1 28.8h0.95v0.95h-0.95zM66.6 30.3h0.95v0.95h-0.95zM69.5 43.4h0.95v0.95h-0.95zM69.7 42.3h0.95v0.95h-0.95zM66.4 33.4h0.95v0.95h-0.95zM78.2 31.6h0.95v0.95h-0.95zM69.6 28.5h0.95v0.95h-0.95zM67.6 26.9h0.95v0.95h-0.95zM71.5 30.6h0.95v0.95h-0.95zM68.6 34.1h0.95v0.95h-0.95zM66.0 34.4h0.95v0.95h-0.95zM68.6 35.6h0.95v0.95h-0.95zM68.0 33.2h0.95v0.95h-0.95zM70.3 38.7h0.95v0.95h-0.95z" fill="#4862c0" fill-opacity="0.75"/><g filter="url(#bl2)" opacity="0.5"><path d="M68 24.5 L95 24.5 L95 36 L100 40 L101 54 L96 62 L90 68 L84 72 L68 72 L61 67 L62 57 L68 51 L69 40 Z" fill="#3b55b8"/></g><g filter="url(#bl)"><path d="M68.3 24.5 L91 24.5 L90.3 31 L88.8 37 L86.5 42.5 L81 46.5 L75 46 L71.5 42 L69.3 34 Z" fill="#3b55b8"/><ellipse cx="80.5" cy="53.5" rx="18" ry="8.6" transform="rotate(-35 80.5 53.5)" fill="#3b55b8"/><ellipse cx="73.8" cy="62.4" rx="10" ry="6" fill="#3b55b8"/><ellipse cx="91.5" cy="46" rx="5.8" ry="7.6" fill="#3b55b8"/></g><path d="M89 38.5 L85.5 42.5 L81.5 46.5" stroke="#c8d0ee" stroke-width="1.0" stroke-opacity="0.35" fill="none" filter="url(#bl2)"/></g><rect x="17.00" y="24.30" width="102.50" height="92.50" fill="none" stroke="#4a4a4a" stroke-width="1" /><rect x="68.00" y="75.00" width="50.70" height="41.80" fill="none" stroke="#444" stroke-width="1" /><line x1="17.00" y1="116.80" x2="17.00" y2="119.30" stroke="#333" stroke-width="0.8" /><line x1="24.62" y1="116.80" x2="24.62" y2="118.60" stroke="#333" stroke-width="0.6" /><line x1="29.07" y1="116.80" x2="29.07" y2="118.60" stroke="#333" stroke-width="0.6" /><line x1="32.23" y1="116.80" x2="32.23" y2="118.60" stroke="#333" stroke-width="0.6" /><line x1="34.68" y1="116.80" x2="34.68" y2="118.60" stroke="#333" stroke-width="0.6" /><line x1="36.69" y1="116.80" x2="36.69" y2="118.60" stroke="#333" stroke-width="0.6" /><line x1="38.38" y1="116.80" x2="38.38" y2="118.60" stroke="#333" stroke-width="0.6" /><line x1="39.85" y1="116.80" x2="39.85" y2="118.60" stroke="#333" stroke-width="0.6" /><line x1="41.14" y1="116.80" x2="41.14" y2="118.60" stroke="#333" stroke-width="0.6" /><line x1="42.30" y1="116.80" x2="42.30" y2="119.30" stroke="#333" stroke-width="0.8" /><line x1="49.92" y1="116.80" x2="49.92" y2="118.60" stroke="#333" stroke-width="0.6" /><line x1="54.37" y1="116.80" x2="54.37" y2="118.60" stroke="#333" stroke-width="0.6" /><line x1="57.53" y1="116.80" x2="57.53" y2="118.60" stroke="#333" stroke-width="0.6" /><line x1="59.98" y1="116.80" x2="59.98" y2="118.60" stroke="#333" stroke-width="0.6" /><line x1="61.99" y1="116.80" x2="61.99" y2="118.60" stroke="#333" stroke-width="0.6" /><line x1="63.68" y1="116.80" x2="63.68" y2="118.60" stroke="#333" stroke-width="0.6" /><line x1="65.15" y1="116.80" x2="65.15" y2="118.60" stroke="#333" stroke-width="0.6" /><line x1="66.44" y1="116.80" x2="66.44" y2="118.60" stroke="#333" stroke-width="0.6" /><line x1="67.60" y1="116.80" x2="67.60" y2="119.30" stroke="#333" stroke-width="0.8" /><line x1="75.22" y1="116.80" x2="75.22" y2="118.60" stroke="#333" stroke-width="0.6" /><line x1="79.67" y1="116.80" x2="79.67" y2="118.60" stroke="#333" stroke-width="0.6" /><line x1="82.83" y1="116.80" x2="82.83" y2="118.60" stroke="#333" stroke-width="0.6" /><line x1="85.28" y1="116.80" x2="85.28" y2="118.60" stroke="#333" stroke-width="0.6" /><line x1="87.29" y1="116.80" x2="87.29" y2="118.60" stroke="#333" stroke-width="0.6" /><line x1="88.98" y1="116.80" x2="88.98" y2="118.60" stroke="#333" stroke-width="0.6" /><line x1="90.45" y1="116.80" x2="90.45" y2="118.60" stroke="#333" stroke-width="0.6" /><line x1="91.74" y1="116.80" x2="91.74" y2="118.60" stroke="#333" stroke-width="0.6" /><line x1="92.90" y1="116.80" x2="92.90" y2="119.30" stroke="#333" stroke-width="0.8" /><line x1="100.52" y1="116.80" x2="100.52" y2="118.60" stroke="#333" stroke-width="0.6" /><line x1="104.97" y1="116.80" x2="104.97" y2="118.60" stroke="#333" stroke-width="0.6" /><line x1="108.13" y1="116.80" x2="108.13" y2="118.60" stroke="#333" stroke-width="0.6" /><line x1="110.58" y1="116.80" x2="110.58" y2="118.60" stroke="#333" stroke-width="0.6" /><line x1="112.59" y1="116.80" x2="112.59" y2="118.60" stroke="#333" stroke-width="0.6" /><line x1="114.28" y1="116.80" x2="114.28" y2="118.60" stroke="#333" stroke-width="0.6" /><line x1="115.75" y1="116.80" x2="115.75" y2="118.60" stroke="#333" stroke-width="0.6" /><line x1="117.04" y1="116.80" x2="117.04" y2="118.60" stroke="#333" stroke-width="0.6" /><line x1="118.20" y1="116.80" x2="118.20" y2="119.30" stroke="#333" stroke-width="0.8" /><line x1="17.00" y1="116.80" x2="14.50" y2="116.80" stroke="#333" stroke-width="0.8" /><line x1="17.00" y1="109.85" x2="15.20" y2="109.85" stroke="#333" stroke-width="0.6" /><line x1="17.00" y1="105.78" x2="15.20" y2="105.78" stroke="#333" stroke-width="0.6" /><line x1="17.00" y1="102.89" x2="15.20" y2="102.89" stroke="#333" stroke-width="0.6" /><line x1="17.00" y1="100.65" x2="15.20" y2="100.65" stroke="#333" stroke-width="0.6" /><line x1="17.00" y1="98.82" x2="15.20" y2="98.82" stroke="#333" stroke-width="0.6" /><line x1="17.00" y1="97.28" x2="15.20" y2="97.28" stroke="#333" stroke-width="0.6" /><line x1="17.00" y1="95.94" x2="15.20" y2="95.94" stroke="#333" stroke-width="0.6" /><line x1="17.00" y1="94.76" x2="15.20" y2="94.76" stroke="#333" stroke-width="0.6" /><line x1="17.00" y1="93.70" x2="14.50" y2="93.70" stroke="#333" stroke-width="0.8" /><line x1="17.00" y1="86.75" x2="15.20" y2="86.75" stroke="#333" stroke-width="0.6" /><line x1="17.00" y1="82.68" x2="15.20" y2="82.68" stroke="#333" stroke-width="0.6" /><line x1="17.00" y1="79.79" x2="15.20" y2="79.79" stroke="#333" stroke-width="0.6" /><line x1="17.00" y1="77.55" x2="15.20" y2="77.55" stroke="#333" stroke-width="0.6" /><line x1="17.00" y1="75.72" x2="15.20" y2="75.72" stroke="#333" stroke-width="0.6" /><line x1="17.00" y1="74.18" x2="15.20" y2="74.18" stroke="#333" stroke-width="0.6" /><line x1="17.00" y1="72.84" x2="15.20" y2="72.84" stroke="#333" stroke-width="0.6" /><line x1="17.00" y1="71.66" x2="15.20" y2="71.66" stroke="#333" stroke-width="0.6" /><line x1="17.00" y1="70.60" x2="14.50" y2="70.60" stroke="#333" stroke-width="0.8" /><line x1="17.00" y1="63.65" x2="15.20" y2="63.65" stroke="#333" stroke-width="0.6" /><line x1="17.00" y1="59.58" x2="15.20" y2="59.58" stroke="#333" stroke-width="0.6" /><line x1="17.00" y1="56.69" x2="15.20" y2="56.69" stroke="#333" stroke-width="0.6" /><line x1="17.00" y1="54.45" x2="15.20" y2="54.45" stroke="#333" stroke-width="0.6" /><line x1="17.00" y1="52.62" x2="15.20" y2="52.62" stroke="#333" stroke-width="0.6" /><line x1="17.00" y1="51.08" x2="15.20" y2="51.08" stroke="#333" stroke-width="0.6" /><line x1="17.00" y1="49.74" x2="15.20" y2="49.74" stroke="#333" stroke-width="0.6" /><line x1="17.00" y1="48.56" x2="15.20" y2="48.56" stroke="#333" stroke-width="0.6" /><line x1="17.00" y1="47.50" x2="14.50" y2="47.50" stroke="#333" stroke-width="0.8" /><line x1="17.00" y1="40.55" x2="15.20" y2="40.55" stroke="#333" stroke-width="0.6" /><line x1="17.00" y1="36.48" x2="15.20" y2="36.48" stroke="#333" stroke-width="0.6" /><line x1="17.00" y1="33.59" x2="15.20" y2="33.59" stroke="#333" stroke-width="0.6" /><line x1="17.00" y1="31.35" x2="15.20" y2="31.35" stroke="#333" stroke-width="0.6" /><line x1="17.00" y1="29.52" x2="15.20" y2="29.52" stroke="#333" stroke-width="0.6" /><line x1="17.00" y1="27.98" x2="15.20" y2="27.98" stroke="#333" stroke-width="0.6" /><line x1="17.00" y1="26.64" x2="15.20" y2="26.64" stroke="#333" stroke-width="0.6" /><line x1="17.00" y1="25.46" x2="15.20" y2="25.46" stroke="#333" stroke-width="0.6" /><line x1="17.00" y1="24.40" x2="14.50" y2="24.40" stroke="#333" stroke-width="0.8" /><text x="18.30" y="126.26" font-size="6.3" text-anchor="middle" fill="#2a2a2a">10<tspan font-size="5.98" dy="-2.70">0</tspan></text><text x="43.60" y="126.26" font-size="6.3" text-anchor="middle" fill="#2a2a2a">10<tspan font-size="5.98" dy="-2.70">1</tspan></text><text x="68.90" y="126.26" font-size="6.3" text-anchor="middle" fill="#2a2a2a">10<tspan font-size="5.98" dy="-2.70">2</tspan></text><text x="94.20" y="126.26" font-size="6.3" text-anchor="middle" fill="#2a2a2a">10<tspan font-size="5.98" dy="-2.70">3</tspan></text><text x="119.50" y="126.26" font-size="6.3" text-anchor="middle" fill="#2a2a2a">10<tspan font-size="5.98" dy="-2.70">4</tspan></text><text x="70.50" y="138.38" font-size="8.6" text-anchor="middle" fill="#222" stroke="#222" stroke-width="0.22" >CD45</text><text transform="translate(6.20,68.40) rotate(-90)" x="0" y="3.08" font-size="8.6" text-anchor="middle" fill="#222">Lineage markers</text><path d="M191.4 84.0h0.95v0.95h-0.95zM186.4 69.7h0.95v0.95h-0.95zM205.2 73.8h0.95v0.95h-0.95zM161.1 59.9h0.95v0.95h-0.95zM199.9 83.4h0.95v0.95h-0.95zM172.7 72.9h0.95v0.95h-0.95zM212.1 72.2h0.95v0.95h-0.95zM207.4 83.5h0.95v0.95h-0.95zM189.5 79.3h0.95v0.95h-0.95zM220.9 69.1h0.95v0.95h-0.95zM188.6 58.9h0.95v0.95h-0.95zM210.2 62.1h0.95v0.95h-0.95zM244.7 79.0h0.95v0.95h-0.95zM181.1 68.5h0.95v0.95h-0.95zM228.7 80.4h0.95v0.95h-0.95zM185.9 84.8h0.95v0.95h-0.95zM193.7 79.4h0.95v0.95h-0.95zM212.5 66.5h0.95v0.95h-0.95zM200.4 86.3h0.95v0.95h-0.95zM211.4 71.3h0.95v0.95h-0.95zM218.7 77.9h0.95v0.95h-0.95zM208.5 52.7h0.95v0.95h-0.95zM205.3 66.0h0.95v0.95h-0.95zM215.3 64.5h0.95v0.95h-0.95zM210.5 59.0h0.95v0.95h-0.95zM218.0 63.0h0.95v0.95h-0.95zM202.5 79.1h0.95v0.95h-0.95zM197.6 72.1h0.95v0.95h-0.95zM172.7 60.8h0.95v0.95h-0.95zM214.3 83.6h0.95v0.95h-0.95zM195.0 73.2h0.95v0.95h-0.95zM199.6 57.3h0.95v0.95h-0.95zM224.9 67.2h0.95v0.95h-0.95zM235.7 79.9h0.95v0.95h-0.95zM209.4 80.0h0.95v0.95h-0.95zM216.3 83.4h0.95v0.95h-0.95zM186.6 65.1h0.95v0.95h-0.95zM193.8 73.3h0.95v0.95h-0.95zM198.8 56.8h0.95v0.95h-0.95zM238.6 61.4h0.95v0.95h-0.95zM209.4 71.6h0.95v0.95h-0.95zM188.8 80.8h0.95v0.95h-0.95zM210.7 68.2h0.95v0.95h-0.95zM158.5 70.7h0.95v0.95h-0.95zM217.2 63.2h0.95v0.95h-0.95zM217.9 80.4h0.95v0.95h-0.95zM173.3 69.6h0.95v0.95h-0.95zM208.4 81.3h0.95v0.95h-0.95zM205.6 71.8h0.95v0.95h-0.95zM197.2 68.4h0.95v0.95h-0.95zM203.1 58.9h0.95v0.95h-0.95zM213.8 68.0h0.95v0.95h-0.95zM211.8 65.7h0.95v0.95h-0.95zM209.9 73.6h0.95v0.95h-0.95zM218.0 77.7h0.95v0.95h-0.95zM218.7 69.9h0.95v0.95h-0.95zM202.1 68.8h0.95v0.95h-0.95zM181.9 70.5h0.95v0.95h-0.95zM221.3 81.5h0.95v0.95h-0.95zM188.7 75.7h0.95v0.95h-0.95zM215.6 55.2h0.95v0.95h-0.95zM208.9 76.1h0.95v0.95h-0.95zM215.6 75.2h0.95v0.95h-0.95zM173.8 47.1h0.95v0.95h-0.95zM236.3 67.1h0.95v0.95h-0.95zM224.4 87.6h0.95v0.95h-0.95zM204.5 57.9h0.95v0.95h-0.95zM226.0 71.5h0.95v0.95h-0.95zM211.7 77.9h0.95v0.95h-0.95zM219.0 84.5h0.95v0.95h-0.95zM205.4 72.1h0.95v0.95h-0.95zM216.1 70.3h0.95v0.95h-0.95zM226.1 86.3h0.95v0.95h-0.95zM220.4 62.3h0.95v0.95h-0.95zM201.6 71.1h0.95v0.95h-0.95zM184.6 61.3h0.95v0.95h-0.95zM205.7 57.0h0.95v0.95h-0.95zM212.1 77.8h0.95v0.95h-0.95zM199.0 67.8h0.95v0.95h-0.95zM213.1 77.9h0.95v0.95h-0.95zM209.1 56.9h0.95v0.95h-0.95zM192.0 67.5h0.95v0.95h-0.95zM172.4 62.2h0.95v0.95h-0.95zM190.7 81.8h0.95v0.95h-0.95zM196.1 66.0h0.95v0.95h-0.95zM190.0 66.6h0.95v0.95h-0.95zM176.5 75.3h0.95v0.95h-0.95zM223.1 73.9h0.95v0.95h-0.95zM194.0 87.5h0.95v0.95h-0.95zM211.2 59.3h0.95v0.95h-0.95zM193.4 64.5h0.95v0.95h-0.95zM202.2 86.9h0.95v0.95h-0.95zM191.2 70.2h0.95v0.95h-0.95zM204.9 57.4h0.95v0.95h-0.95zM195.0 79.5h0.95v0.95h-0.95zM222.0 49.0h0.95v0.95h-0.95zM214.9 68.4h0.95v0.95h-0.95zM224.7 79.6h0.95v0.95h-0.95zM236.1 75.8h0.95v0.95h-0.95zM196.4 61.8h0.95v0.95h-0.95zM179.0 78.8h0.95v0.95h-0.95zM211.7 82.1h0.95v0.95h-0.95zM208.9 53.6h0.95v0.95h-0.95zM196.2 69.0h0.95v0.95h-0.95zM205.7 81.4h0.95v0.95h-0.95zM226.8 75.5h0.95v0.95h-0.95zM168.3 59.5h0.95v0.95h-0.95zM167.1 62.6h0.95v0.95h-0.95zM182.9 74.9h0.95v0.95h-0.95zM199.3 85.7h0.95v0.95h-0.95zM221.1 66.4h0.95v0.95h-0.95zM218.9 72.2h0.95v0.95h-0.95zM183.7 71.2h0.95v0.95h-0.95zM228.9 62.6h0.95v0.95h-0.95zM206.6 73.6h0.95v0.95h-0.95zM196.0 56.0h0.95v0.95h-0.95zM191.5 60.0h0.95v0.95h-0.95zM221.2 75.1h0.95v0.95h-0.95zM214.8 57.4h0.95v0.95h-0.95zM211.4 73.8h0.95v0.95h-0.95zM220.6 63.2h0.95v0.95h-0.95zM233.3 60.6h0.95v0.95h-0.95zM184.1 54.0h0.95v0.95h-0.95zM219.2 79.3h0.95v0.95h-0.95zM208.7 61.4h0.95v0.95h-0.95zM202.4 70.5h0.95v0.95h-0.95zM223.0 78.2h0.95v0.95h-0.95zM225.6 67.1h0.95v0.95h-0.95zM208.7 67.9h0.95v0.95h-0.95zM193.4 68.4h0.95v0.95h-0.95zM198.2 78.2h0.95v0.95h-0.95zM197.9 72.9h0.95v0.95h-0.95zM189.4 57.0h0.95v0.95h-0.95zM227.0 60.0h0.95v0.95h-0.95zM233.5 83.5h0.95v0.95h-0.95zM164.6 64.2h0.95v0.95h-0.95zM196.0 72.3h0.95v0.95h-0.95zM200.0 64.6h0.95v0.95h-0.95zM224.1 70.4h0.95v0.95h-0.95zM219.2 63.6h0.95v0.95h-0.95zM191.4 88.3h0.95v0.95h-0.95zM198.3 58.6h0.95v0.95h-0.95zM200.2 84.9h0.95v0.95h-0.95zM200.3 63.2h0.95v0.95h-0.95zM213.7 84.0h0.95v0.95h-0.95zM199.5 68.1h0.95v0.95h-0.95zM200.5 77.0h0.95v0.95h-0.95zM168.8 74.2h0.95v0.95h-0.95zM203.9 68.1h0.95v0.95h-0.95zM196.2 55.3h0.95v0.95h-0.95zM178.0 74.0h0.95v0.95h-0.95zM192.3 70.9h0.95v0.95h-0.95zM200.0 65.8h0.95v0.95h-0.95zM184.5 65.8h0.95v0.95h-0.95zM198.1 57.9h0.95v0.95h-0.95zM186.9 82.6h0.95v0.95h-0.95zM218.7 73.6h0.95v0.95h-0.95zM257.5 82.1h0.95v0.95h-0.95zM223.7 62.0h0.95v0.95h-0.95zM189.5 58.1h0.95v0.95h-0.95zM202.3 62.2h0.95v0.95h-0.95zM213.7 58.5h0.95v0.95h-0.95zM204.4 48.1h0.95v0.95h-0.95zM202.5 84.8h0.95v0.95h-0.95zM198.6 75.8h0.95v0.95h-0.95zM221.4 58.6h0.95v0.95h-0.95zM181.7 73.0h0.95v0.95h-0.95zM207.7 68.7h0.95v0.95h-0.95zM186.8 86.8h0.95v0.95h-0.95zM183.5 68.8h0.95v0.95h-0.95zM202.3 80.9h0.95v0.95h-0.95zM195.5 62.0h0.95v0.95h-0.95zM236.8 61.7h0.95v0.95h-0.95zM216.4 70.1h0.95v0.95h-0.95zM195.1 71.5h0.95v0.95h-0.95zM198.8 75.8h0.95v0.95h-0.95zM160.4 71.7h0.95v0.95h-0.95zM204.3 60.1h0.95v0.95h-0.95zM234.0 79.8h0.95v0.95h-0.95zM207.0 68.3h0.95v0.95h-0.95zM226.4 66.5h0.95v0.95h-0.95zM189.3 80.5h0.95v0.95h-0.95zM186.8 62.4h0.95v0.95h-0.95zM227.4 52.4h0.95v0.95h-0.95zM202.0 73.5h0.95v0.95h-0.95zM207.4 54.2h0.95v0.95h-0.95zM199.2 67.9h0.95v0.95h-0.95zM235.3 84.3h0.95v0.95h-0.95zM190.4 82.7h0.95v0.95h-0.95zM214.0 70.6h0.95v0.95h-0.95zM199.0 68.7h0.95v0.95h-0.95zM177.2 64.3h0.95v0.95h-0.95zM234.2 67.4h0.95v0.95h-0.95zM213.4 42.6h0.95v0.95h-0.95zM198.6 56.6h0.95v0.95h-0.95zM216.9 51.8h0.95v0.95h-0.95zM185.6 58.5h0.95v0.95h-0.95zM209.7 82.2h0.95v0.95h-0.95zM205.8 61.8h0.95v0.95h-0.95zM208.9 71.8h0.95v0.95h-0.95zM217.0 76.2h0.95v0.95h-0.95zM239.8 86.3h0.95v0.95h-0.95zM192.4 81.6h0.95v0.95h-0.95zM215.8 59.8h0.95v0.95h-0.95zM190.5 62.2h0.95v0.95h-0.95zM161.7 79.8h0.95v0.95h-0.95zM199.5 87.0h0.95v0.95h-0.95zM193.7 72.9h0.95v0.95h-0.95zM215.3 83.8h0.95v0.95h-0.95zM208.4 59.3h0.95v0.95h-0.95zM240.0 82.6h0.95v0.95h-0.95zM226.6 77.1h0.95v0.95h-0.95zM211.0 79.7h0.95v0.95h-0.95zM177.9 81.9h0.95v0.95h-0.95zM186.8 77.2h0.95v0.95h-0.95zM186.1 80.7h0.95v0.95h-0.95zM206.3 78.2h0.95v0.95h-0.95zM187.9 68.5h0.95v0.95h-0.95zM202.1 68.5h0.95v0.95h-0.95zM195.8 61.3h0.95v0.95h-0.95zM215.9 67.3h0.95v0.95h-0.95zM189.4 76.5h0.95v0.95h-0.95zM189.5 69.9h0.95v0.95h-0.95zM194.5 60.7h0.95v0.95h-0.95zM199.3 62.0h0.95v0.95h-0.95zM182.1 76.3h0.95v0.95h-0.95zM198.1 54.2h0.95v0.95h-0.95zM196.5 74.3h0.95v0.95h-0.95zM210.3 76.6h0.95v0.95h-0.95zM207.4 79.3h0.95v0.95h-0.95zM194.8 62.3h0.95v0.95h-0.95zM213.4 67.0h0.95v0.95h-0.95zM203.3 79.9h0.95v0.95h-0.95zM218.9 86.9h0.95v0.95h-0.95zM191.6 67.5h0.95v0.95h-0.95zM212.4 54.6h0.95v0.95h-0.95zM182.0 79.4h0.95v0.95h-0.95zM192.8 60.8h0.95v0.95h-0.95zM216.6 78.5h0.95v0.95h-0.95zM218.5 68.0h0.95v0.95h-0.95zM198.3 67.9h0.95v0.95h-0.95zM208.1 47.3h0.95v0.95h-0.95zM191.5 80.6h0.95v0.95h-0.95zM190.1 71.2h0.95v0.95h-0.95zM205.2 78.4h0.95v0.95h-0.95zM195.2 58.2h0.95v0.95h-0.95zM244.9 63.3h0.95v0.95h-0.95zM231.8 50.6h0.95v0.95h-0.95zM205.0 69.6h0.95v0.95h-0.95zM219.5 59.7h0.95v0.95h-0.95zM189.7 62.9h0.95v0.95h-0.95zM194.5 75.2h0.95v0.95h-0.95zM190.0 69.0h0.95v0.95h-0.95zM172.0 60.4h0.95v0.95h-0.95zM196.9 87.8h0.95v0.95h-0.95zM188.8 68.2h0.95v0.95h-0.95zM220.2 79.0h0.95v0.95h-0.95zM171.9 68.7h0.95v0.95h-0.95zM206.2 79.7h0.95v0.95h-0.95zM209.9 73.0h0.95v0.95h-0.95zM197.8 57.8h0.95v0.95h-0.95zM217.6 81.2h0.95v0.95h-0.95zM218.8 67.5h0.95v0.95h-0.95zM186.4 67.4h0.95v0.95h-0.95zM197.9 71.9h0.95v0.95h-0.95zM219.6 61.0h0.95v0.95h-0.95zM195.0 80.4h0.95v0.95h-0.95zM212.0 61.7h0.95v0.95h-0.95zM185.8 62.4h0.95v0.95h-0.95zM204.4 75.1h0.95v0.95h-0.95zM202.1 64.6h0.95v0.95h-0.95zM200.1 71.1h0.95v0.95h-0.95zM213.1 73.0h0.95v0.95h-0.95zM189.7 57.8h0.95v0.95h-0.95zM227.9 71.0h0.95v0.95h-0.95zM200.3 71.7h0.95v0.95h-0.95zM222.0 68.2h0.95v0.95h-0.95zM206.1 69.1h0.95v0.95h-0.95zM212.9 59.8h0.95v0.95h-0.95zM206.6 84.5h0.95v0.95h-0.95zM223.0 79.5h0.95v0.95h-0.95zM183.2 58.7h0.95v0.95h-0.95zM216.5 68.8h0.95v0.95h-0.95zM196.0 60.5h0.95v0.95h-0.95zM228.0 57.6h0.95v0.95h-0.95zM205.0 55.1h0.95v0.95h-0.95zM243.8 66.0h0.95v0.95h-0.95zM209.0 59.0h0.95v0.95h-0.95zM179.0 85.6h0.95v0.95h-0.95zM191.1 59.1h0.95v0.95h-0.95zM206.0 69.7h0.95v0.95h-0.95zM221.9 73.2h0.95v0.95h-0.95zM229.7 85.8h0.95v0.95h-0.95zM232.9 85.6h0.95v0.95h-0.95zM204.4 78.6h0.95v0.95h-0.95zM203.6 53.2h0.95v0.95h-0.95zM183.6 81.0h0.95v0.95h-0.95zM163.9 62.0h0.95v0.95h-0.95zM181.8 71.3h0.95v0.95h-0.95zM186.0 75.0h0.95v0.95h-0.95zM200.0 66.3h0.95v0.95h-0.95zM204.5 56.4h0.95v0.95h-0.95zM198.3 76.5h0.95v0.95h-0.95zM220.7 80.5h0.95v0.95h-0.95zM227.9 54.9h0.95v0.95h-0.95zM209.8 58.6h0.95v0.95h-0.95zM209.9 65.8h0.95v0.95h-0.95zM192.5 84.9h0.95v0.95h-0.95zM200.3 58.5h0.95v0.95h-0.95zM189.2 80.2h0.95v0.95h-0.95zM206.2 86.2h0.95v0.95h-0.95zM198.6 60.6h0.95v0.95h-0.95zM192.6 59.6h0.95v0.95h-0.95zM246.4 74.4h0.95v0.95h-0.95zM197.9 87.3h0.95v0.95h-0.95zM214.2 69.8h0.95v0.95h-0.95zM213.6 75.3h0.95v0.95h-0.95zM198.0 71.6h0.95v0.95h-0.95zM200.2 86.8h0.95v0.95h-0.95zM209.7 81.5h0.95v0.95h-0.95zM218.2 64.4h0.95v0.95h-0.95zM218.6 81.9h0.95v0.95h-0.95zM198.6 67.7h0.95v0.95h-0.95zM189.0 68.8h0.95v0.95h-0.95zM202.2 54.7h0.95v0.95h-0.95zM222.6 62.8h0.95v0.95h-0.95zM207.5 79.3h0.95v0.95h-0.95zM194.1 50.2h0.95v0.95h-0.95zM219.3 77.0h0.95v0.95h-0.95zM199.1 85.7h0.95v0.95h-0.95zM218.1 60.5h0.95v0.95h-0.95zM201.9 50.7h0.95v0.95h-0.95zM189.4 82.0h0.95v0.95h-0.95zM178.2 68.5h0.95v0.95h-0.95zM210.8 81.2h0.95v0.95h-0.95zM231.8 42.5h0.95v0.95h-0.95zM244.2 79.3h0.95v0.95h-0.95zM204.4 75.2h0.95v0.95h-0.95zM203.8 64.6h0.95v0.95h-0.95zM203.0 70.5h0.95v0.95h-0.95zM214.4 80.3h0.95v0.95h-0.95zM219.6 79.1h0.95v0.95h-0.95zM159.0 73.4h0.95v0.95h-0.95zM208.8 65.6h0.95v0.95h-0.95zM234.3 58.8h0.95v0.95h-0.95zM183.9 65.9h0.95v0.95h-0.95zM210.2 81.6h0.95v0.95h-0.95zM205.1 80.1h0.95v0.95h-0.95zM191.6 64.7h0.95v0.95h-0.95zM205.5 55.8h0.95v0.95h-0.95zM206.4 67.3h0.95v0.95h-0.95zM214.6 59.8h0.95v0.95h-0.95zM194.5 65.2h0.95v0.95h-0.95zM197.2 60.0h0.95v0.95h-0.95zM199.0 55.7h0.95v0.95h-0.95zM212.2 80.2h0.95v0.95h-0.95zM203.0 69.8h0.95v0.95h-0.95zM188.6 60.4h0.95v0.95h-0.95zM199.7 61.1h0.95v0.95h-0.95zM183.9 74.1h0.95v0.95h-0.95zM203.0 67.1h0.95v0.95h-0.95zM189.8 71.4h0.95v0.95h-0.95zM191.8 66.8h0.95v0.95h-0.95zM206.4 80.7h0.95v0.95h-0.95zM215.8 64.7h0.95v0.95h-0.95zM223.2 58.1h0.95v0.95h-0.95zM200.4 87.8h0.95v0.95h-0.95zM242.5 73.6h0.95v0.95h-0.95zM197.3 67.5h0.95v0.95h-0.95zM183.3 70.3h0.95v0.95h-0.95zM196.3 62.9h0.95v0.95h-0.95zM223.0 62.6h0.95v0.95h-0.95zM231.2 82.2h0.95v0.95h-0.95zM213.8 64.9h0.95v0.95h-0.95zM207.8 68.8h0.95v0.95h-0.95zM209.7 63.9h0.95v0.95h-0.95zM211.3 54.0h0.95v0.95h-0.95zM167.2 77.8h0.95v0.95h-0.95zM221.0 34.0h0.95v0.95h-0.95zM224.4 67.8h0.95v0.95h-0.95zM200.6 53.5h0.95v0.95h-0.95zM186.8 80.6h0.95v0.95h-0.95zM191.2 71.6h0.95v0.95h-0.95zM217.9 56.1h0.95v0.95h-0.95zM195.4 58.2h0.95v0.95h-0.95zM180.4 63.8h0.95v0.95h-0.95zM221.4 72.6h0.95v0.95h-0.95zM214.3 70.4h0.95v0.95h-0.95zM196.3 73.0h0.95v0.95h-0.95zM232.8 76.6h0.95v0.95h-0.95zM213.2 48.0h0.95v0.95h-0.95zM190.1 81.9h0.95v0.95h-0.95zM223.3 67.2h0.95v0.95h-0.95zM199.5 66.5h0.95v0.95h-0.95zM216.3 72.3h0.95v0.95h-0.95zM227.9 86.4h0.95v0.95h-0.95zM198.2 64.7h0.95v0.95h-0.95zM199.4 61.4h0.95v0.95h-0.95zM196.3 71.2h0.95v0.95h-0.95zM217.9 52.9h0.95v0.95h-0.95zM180.2 62.7h0.95v0.95h-0.95zM198.2 77.5h0.95v0.95h-0.95zM194.6 69.4h0.95v0.95h-0.95zM204.1 86.2h0.95v0.95h-0.95zM208.1 72.3h0.95v0.95h-0.95zM194.3 74.1h0.95v0.95h-0.95zM209.8 67.8h0.95v0.95h-0.95zM202.9 49.8h0.95v0.95h-0.95zM194.5 86.3h0.95v0.95h-0.95zM226.5 71.1h0.95v0.95h-0.95zM196.5 84.2h0.95v0.95h-0.95zM222.2 59.1h0.95v0.95h-0.95zM199.6 57.4h0.95v0.95h-0.95zM207.7 67.2h0.95v0.95h-0.95zM178.6 59.3h0.95v0.95h-0.95zM207.2 53.6h0.95v0.95h-0.95zM220.9 77.5h0.95v0.95h-0.95zM188.0 80.3h0.95v0.95h-0.95zM181.0 68.1h0.95v0.95h-0.95zM213.7 65.5h0.95v0.95h-0.95zM201.3 79.9h0.95v0.95h-0.95zM228.1 87.8h0.95v0.95h-0.95zM210.7 68.9h0.95v0.95h-0.95zM233.9 45.9h0.95v0.95h-0.95zM217.4 71.5h0.95v0.95h-0.95zM214.8 75.8h0.95v0.95h-0.95zM200.0 72.0h0.95v0.95h-0.95zM202.6 86.1h0.95v0.95h-0.95zM198.9 65.4h0.95v0.95h-0.95zM213.9 79.8h0.95v0.95h-0.95zM210.3 75.4h0.95v0.95h-0.95zM227.3 85.5h0.95v0.95h-0.95zM206.6 69.5h0.95v0.95h-0.95zM214.0 49.3h0.95v0.95h-0.95zM194.6 63.4h0.95v0.95h-0.95zM206.0 67.3h0.95v0.95h-0.95zM243.5 81.0h0.95v0.95h-0.95zM203.1 68.1h0.95v0.95h-0.95zM223.3 82.1h0.95v0.95h-0.95zM218.3 86.7h0.95v0.95h-0.95zM197.2 64.0h0.95v0.95h-0.95zM191.4 73.3h0.95v0.95h-0.95zM219.6 59.2h0.95v0.95h-0.95zM194.4 55.8h0.95v0.95h-0.95zM235.9 81.7h0.95v0.95h-0.95zM206.7 57.2h0.95v0.95h-0.95zM186.3 64.2h0.95v0.95h-0.95zM203.7 56.6h0.95v0.95h-0.95zM199.4 86.8h0.95v0.95h-0.95zM203.4 73.2h0.95v0.95h-0.95zM168.9 68.7h0.95v0.95h-0.95zM200.8 63.6h0.95v0.95h-0.95zM180.5 71.1h0.95v0.95h-0.95zM186.4 65.4h0.95v0.95h-0.95zM177.1 70.9h0.95v0.95h-0.95zM218.0 61.8h0.95v0.95h-0.95zM208.5 53.6h0.95v0.95h-0.95zM212.6 78.6h0.95v0.95h-0.95zM196.8 82.8h0.95v0.95h-0.95zM188.8 72.6h0.95v0.95h-0.95zM230.7 71.7h0.95v0.95h-0.95zM184.8 86.0h0.95v0.95h-0.95zM211.9 68.6h0.95v0.95h-0.95zM173.5 49.1h0.95v0.95h-0.95zM207.9 61.6h0.95v0.95h-0.95zM189.4 77.9h0.95v0.95h-0.95zM176.3 76.5h0.95v0.95h-0.95zM232.8 54.8h0.95v0.95h-0.95zM204.1 64.3h0.95v0.95h-0.95zM201.6 73.1h0.95v0.95h-0.95zM207.7 82.9h0.95v0.95h-0.95zM211.5 84.8h0.95v0.95h-0.95zM219.7 85.4h0.95v0.95h-0.95z" fill="#d85464" fill-opacity="0.6"/><path d="M196.0 83.6h0.95v0.95h-0.95zM197.2 88.1h0.95v0.95h-0.95zM207.2 83.7h0.95v0.95h-0.95zM195.6 83.1h0.95v0.95h-0.95zM221.2 82.8h0.95v0.95h-0.95zM208.3 77.9h0.95v0.95h-0.95zM204.1 86.7h0.95v0.95h-0.95zM216.0 85.2h0.95v0.95h-0.95zM207.3 85.3h0.95v0.95h-0.95zM202.6 80.8h0.95v0.95h-0.95zM207.5 83.6h0.95v0.95h-0.95zM208.1 87.0h0.95v0.95h-0.95zM202.0 82.3h0.95v0.95h-0.95zM203.9 79.1h0.95v0.95h-0.95zM203.5 80.5h0.95v0.95h-0.95zM205.7 84.5h0.95v0.95h-0.95zM197.4 79.3h0.95v0.95h-0.95zM200.7 81.3h0.95v0.95h-0.95zM198.4 86.7h0.95v0.95h-0.95zM212.0 79.0h0.95v0.95h-0.95zM214.1 85.1h0.95v0.95h-0.95zM196.1 78.0h0.95v0.95h-0.95zM201.3 85.1h0.95v0.95h-0.95zM187.2 79.3h0.95v0.95h-0.95zM224.8 84.4h0.95v0.95h-0.95zM209.8 81.7h0.95v0.95h-0.95zM181.3 83.3h0.95v0.95h-0.95zM216.8 81.4h0.95v0.95h-0.95zM177.9 83.3h0.95v0.95h-0.95zM196.6 84.1h0.95v0.95h-0.95zM187.2 82.8h0.95v0.95h-0.95zM193.4 87.4h0.95v0.95h-0.95zM202.0 87.4h0.95v0.95h-0.95zM175.8 86.1h0.95v0.95h-0.95zM211.0 87.4h0.95v0.95h-0.95zM199.2 77.0h0.95v0.95h-0.95zM194.0 85.6h0.95v0.95h-0.95zM217.3 82.7h0.95v0.95h-0.95zM193.2 81.0h0.95v0.95h-0.95zM212.8 87.4h0.95v0.95h-0.95zM188.7 78.3h0.95v0.95h-0.95zM180.3 81.2h0.95v0.95h-0.95zM184.7 81.4h0.95v0.95h-0.95zM202.1 85.6h0.95v0.95h-0.95zM194.2 77.8h0.95v0.95h-0.95zM195.0 81.3h0.95v0.95h-0.95zM177.9 84.6h0.95v0.95h-0.95zM181.9 77.2h0.95v0.95h-0.95zM219.0 87.7h0.95v0.95h-0.95zM218.1 84.5h0.95v0.95h-0.95zM195.0 83.7h0.95v0.95h-0.95zM183.1 86.9h0.95v0.95h-0.95zM203.5 82.8h0.95v0.95h-0.95zM176.9 83.6h0.95v0.95h-0.95zM211.0 82.6h0.95v0.95h-0.95zM201.9 86.2h0.95v0.95h-0.95zM202.6 88.1h0.95v0.95h-0.95zM170.0 80.4h0.95v0.95h-0.95zM182.9 86.6h0.95v0.95h-0.95zM213.5 84.0h0.95v0.95h-0.95zM206.9 84.3h0.95v0.95h-0.95zM202.3 82.2h0.95v0.95h-0.95zM196.8 83.8h0.95v0.95h-0.95zM215.0 87.8h0.95v0.95h-0.95zM195.3 85.0h0.95v0.95h-0.95zM187.6 84.5h0.95v0.95h-0.95zM204.1 84.0h0.95v0.95h-0.95zM202.2 85.4h0.95v0.95h-0.95zM168.6 80.8h0.95v0.95h-0.95zM201.1 82.1h0.95v0.95h-0.95zM188.1 83.1h0.95v0.95h-0.95zM220.2 83.1h0.95v0.95h-0.95zM192.1 82.1h0.95v0.95h-0.95zM185.3 85.9h0.95v0.95h-0.95zM187.9 87.6h0.95v0.95h-0.95zM211.5 86.2h0.95v0.95h-0.95zM213.1 83.7h0.95v0.95h-0.95zM178.3 83.7h0.95v0.95h-0.95zM208.1 78.0h0.95v0.95h-0.95zM184.9 88.3h0.95v0.95h-0.95zM208.5 84.3h0.95v0.95h-0.95zM205.5 87.3h0.95v0.95h-0.95zM199.8 83.2h0.95v0.95h-0.95zM204.1 82.8h0.95v0.95h-0.95zM230.2 81.0h0.95v0.95h-0.95zM181.3 78.9h0.95v0.95h-0.95zM213.2 82.4h0.95v0.95h-0.95zM202.1 83.2h0.95v0.95h-0.95zM203.6 78.3h0.95v0.95h-0.95zM201.2 81.8h0.95v0.95h-0.95zM213.7 86.4h0.95v0.95h-0.95zM184.4 80.2h0.95v0.95h-0.95zM209.7 83.4h0.95v0.95h-0.95zM193.5 80.2h0.95v0.95h-0.95zM187.3 86.2h0.95v0.95h-0.95zM203.6 85.1h0.95v0.95h-0.95zM198.5 86.4h0.95v0.95h-0.95zM210.0 81.8h0.95v0.95h-0.95zM211.9 80.4h0.95v0.95h-0.95zM222.2 78.9h0.95v0.95h-0.95zM196.6 79.8h0.95v0.95h-0.95zM217.8 85.5h0.95v0.95h-0.95zM192.8 87.5h0.95v0.95h-0.95zM164.4 81.0h0.95v0.95h-0.95zM212.2 83.8h0.95v0.95h-0.95zM231.3 81.4h0.95v0.95h-0.95zM183.5 83.2h0.95v0.95h-0.95zM178.1 84.6h0.95v0.95h-0.95zM216.0 81.4h0.95v0.95h-0.95zM194.4 79.3h0.95v0.95h-0.95z" fill="#d85464" fill-opacity="0.6"/><path d="M171.5 62.3h0.9v0.9h-0.9zM162.6 48.8h0.9v0.9h-0.9zM281.5 58.4h0.9v0.9h-0.9zM172.0 61.1h0.9v0.9h-0.9zM162.3 69.4h0.9v0.9h-0.9zM184.1 50.5h0.9v0.9h-0.9zM237.0 84.9h0.9v0.9h-0.9zM156.3 74.7h0.9v0.9h-0.9zM229.9 63.6h0.9v0.9h-0.9zM209.1 40.5h0.9v0.9h-0.9zM200.1 65.4h0.9v0.9h-0.9zM197.9 88.2h0.9v0.9h-0.9zM198.5 81.0h0.9v0.9h-0.9zM259.5 78.5h0.9v0.9h-0.9zM218.2 64.2h0.9v0.9h-0.9zM263.7 45.7h0.9v0.9h-0.9zM183.6 40.6h0.9v0.9h-0.9zM218.1 62.0h0.9v0.9h-0.9zM278.3 85.1h0.9v0.9h-0.9zM207.1 64.1h0.9v0.9h-0.9zM168.1 76.5h0.9v0.9h-0.9zM221.7 48.1h0.9v0.9h-0.9zM268.1 42.1h0.9v0.9h-0.9zM179.4 63.1h0.9v0.9h-0.9zM283.6 46.7h0.9v0.9h-0.9zM189.0 78.4h0.9v0.9h-0.9zM198.0 85.1h0.9v0.9h-0.9zM156.9 51.5h0.9v0.9h-0.9zM194.6 81.1h0.9v0.9h-0.9zM167.7 72.7h0.9v0.9h-0.9zM269.3 87.3h0.9v0.9h-0.9zM258.9 42.5h0.9v0.9h-0.9zM217.1 50.6h0.9v0.9h-0.9zM170.3 51.8h0.9v0.9h-0.9zM249.7 67.9h0.9v0.9h-0.9zM171.4 53.9h0.9v0.9h-0.9zM163.0 84.9h0.9v0.9h-0.9zM252.2 62.9h0.9v0.9h-0.9zM279.0 87.4h0.9v0.9h-0.9zM181.3 52.3h0.9v0.9h-0.9zM179.3 70.5h0.9v0.9h-0.9zM231.6 65.1h0.9v0.9h-0.9zM254.7 65.7h0.9v0.9h-0.9zM195.3 72.4h0.9v0.9h-0.9zM277.4 42.4h0.9v0.9h-0.9zM217.5 46.8h0.9v0.9h-0.9zM251.3 60.9h0.9v0.9h-0.9zM263.1 72.5h0.9v0.9h-0.9zM278.7 68.1h0.9v0.9h-0.9zM231.6 87.3h0.9v0.9h-0.9zM258.5 56.4h0.9v0.9h-0.9zM167.9 84.7h0.9v0.9h-0.9zM162.7 84.8h0.9v0.9h-0.9zM275.4 72.1h0.9v0.9h-0.9zM277.4 69.5h0.9v0.9h-0.9zM251.1 68.9h0.9v0.9h-0.9zM183.3 43.8h0.9v0.9h-0.9zM250.7 61.9h0.9v0.9h-0.9zM170.6 67.1h0.9v0.9h-0.9zM188.8 52.7h0.9v0.9h-0.9zM268.0 70.0h0.9v0.9h-0.9zM251.4 79.6h0.9v0.9h-0.9zM211.1 61.9h0.9v0.9h-0.9zM210.5 57.3h0.9v0.9h-0.9zM255.3 82.9h0.9v0.9h-0.9zM193.1 74.5h0.9v0.9h-0.9zM182.4 40.4h0.9v0.9h-0.9zM243.2 77.7h0.9v0.9h-0.9zM197.2 88.3h0.9v0.9h-0.9zM247.6 55.6h0.9v0.9h-0.9zM252.9 80.9h0.9v0.9h-0.9zM172.7 84.2h0.9v0.9h-0.9zM210.8 53.3h0.9v0.9h-0.9zM203.4 65.6h0.9v0.9h-0.9zM222.8 54.3h0.9v0.9h-0.9zM162.3 70.6h0.9v0.9h-0.9zM247.4 73.7h0.9v0.9h-0.9zM205.8 81.6h0.9v0.9h-0.9zM156.7 46.3h0.9v0.9h-0.9zM156.9 66.9h0.9v0.9h-0.9z" fill="#b0a0a8" fill-opacity="0.45"/><path d="M192.6 90.5h0.9v0.9h-0.9zM192.7 90.0h0.9v0.9h-0.9zM169.7 91.9h0.9v0.9h-0.9zM209.6 90.1h0.9v0.9h-0.9zM198.8 91.0h0.9v0.9h-0.9zM193.3 91.7h0.9v0.9h-0.9zM198.1 91.9h0.9v0.9h-0.9zM200.0 91.8h0.9v0.9h-0.9zM173.5 91.6h0.9v0.9h-0.9zM183.0 91.8h0.9v0.9h-0.9zM205.2 91.9h0.9v0.9h-0.9zM203.5 90.8h0.9v0.9h-0.9zM192.6 91.6h0.9v0.9h-0.9zM170.7 91.1h0.9v0.9h-0.9zM194.7 91.4h0.9v0.9h-0.9zM184.1 91.2h0.9v0.9h-0.9zM202.6 90.8h0.9v0.9h-0.9zM200.0 91.8h0.9v0.9h-0.9zM185.4 91.1h0.9v0.9h-0.9zM190.7 91.7h0.9v0.9h-0.9zM180.7 90.6h0.9v0.9h-0.9zM186.4 91.3h0.9v0.9h-0.9zM175.3 92.0h0.9v0.9h-0.9zM191.6 91.5h0.9v0.9h-0.9zM187.4 90.1h0.9v0.9h-0.9zM186.1 91.1h0.9v0.9h-0.9zM172.2 92.0h0.9v0.9h-0.9zM195.6 90.9h0.9v0.9h-0.9zM169.4 90.5h0.9v0.9h-0.9zM183.9 91.3h0.9v0.9h-0.9zM176.2 91.0h0.9v0.9h-0.9zM180.7 91.1h0.9v0.9h-0.9zM200.3 91.0h0.9v0.9h-0.9zM203.3 91.2h0.9v0.9h-0.9zM171.9 91.3h0.9v0.9h-0.9zM190.7 91.5h0.9v0.9h-0.9zM212.0 90.7h0.9v0.9h-0.9zM208.0 90.5h0.9v0.9h-0.9zM198.6 90.0h0.9v0.9h-0.9zM206.8 90.9h0.9v0.9h-0.9zM189.4 91.0h0.9v0.9h-0.9zM185.5 90.5h0.9v0.9h-0.9zM200.5 91.3h0.9v0.9h-0.9zM170.6 90.5h0.9v0.9h-0.9zM211.8 90.6h0.9v0.9h-0.9z" fill="#e04068" fill-opacity="0.7"/><defs><linearGradient id="gl" x1="0" x2="1"><stop offset="0" stop-color="#f8fcf5"/><stop offset="0.55" stop-color="#eaf6e4"/><stop offset="1" stop-color="#d0eec8"/></linearGradient></defs><rect x="154.00" y="93.30" width="28.50" height="23.50" fill="url(#gl)" stroke="none" stroke-width="1" /><path d="M162.1 106.5h0.9v0.9h-0.9zM164.2 114.8h0.9v0.9h-0.9zM181.0 96.4h0.9v0.9h-0.9zM160.2 97.3h0.9v0.9h-0.9zM166.2 99.9h0.9v0.9h-0.9zM172.5 113.4h0.9v0.9h-0.9zM156.0 94.1h0.9v0.9h-0.9zM157.1 100.5h0.9v0.9h-0.9zM157.7 103.2h0.9v0.9h-0.9zM164.0 109.9h0.9v0.9h-0.9zM180.6 115.5h0.9v0.9h-0.9zM165.6 108.0h0.9v0.9h-0.9zM157.6 107.2h0.9v0.9h-0.9zM178.3 113.4h0.9v0.9h-0.9zM157.9 97.2h0.9v0.9h-0.9zM178.8 109.2h0.9v0.9h-0.9zM175.0 95.0h0.9v0.9h-0.9zM171.0 94.0h0.9v0.9h-0.9zM174.3 111.4h0.9v0.9h-0.9zM162.9 93.6h0.9v0.9h-0.9zM174.2 116.0h0.9v0.9h-0.9zM171.1 101.7h0.9v0.9h-0.9zM163.0 111.8h0.9v0.9h-0.9zM180.6 101.7h0.9v0.9h-0.9zM160.1 115.9h0.9v0.9h-0.9zM165.8 103.5h0.9v0.9h-0.9zM162.5 109.8h0.9v0.9h-0.9zM181.0 104.1h0.9v0.9h-0.9zM177.5 102.5h0.9v0.9h-0.9zM165.6 111.5h0.9v0.9h-0.9zM180.7 110.5h0.9v0.9h-0.9zM173.4 112.1h0.9v0.9h-0.9zM179.3 115.0h0.9v0.9h-0.9zM168.6 102.2h0.9v0.9h-0.9zM154.2 105.4h0.9v0.9h-0.9zM163.8 93.5h0.9v0.9h-0.9zM181.3 100.4h0.9v0.9h-0.9zM179.6 93.9h0.9v0.9h-0.9zM163.9 111.1h0.9v0.9h-0.9zM172.5 108.6h0.9v0.9h-0.9zM167.4 95.6h0.9v0.9h-0.9zM176.9 110.6h0.9v0.9h-0.9zM167.1 106.1h0.9v0.9h-0.9zM176.1 104.6h0.9v0.9h-0.9zM167.1 104.4h0.9v0.9h-0.9zM174.2 110.0h0.9v0.9h-0.9zM163.2 111.0h0.9v0.9h-0.9zM164.3 108.7h0.9v0.9h-0.9zM164.4 113.7h0.9v0.9h-0.9zM179.9 111.0h0.9v0.9h-0.9zM164.5 101.4h0.9v0.9h-0.9zM165.9 107.1h0.9v0.9h-0.9zM154.9 105.8h0.9v0.9h-0.9zM179.5 94.9h0.9v0.9h-0.9zM178.5 106.4h0.9v0.9h-0.9zM181.4 109.8h0.9v0.9h-0.9zM173.8 110.4h0.9v0.9h-0.9zM165.6 96.2h0.9v0.9h-0.9zM177.5 113.2h0.9v0.9h-0.9zM173.8 98.4h0.9v0.9h-0.9zM167.7 105.1h0.9v0.9h-0.9zM164.0 104.5h0.9v0.9h-0.9zM166.6 115.6h0.9v0.9h-0.9zM171.2 115.5h0.9v0.9h-0.9zM179.0 97.5h0.9v0.9h-0.9zM175.2 102.1h0.9v0.9h-0.9zM170.4 106.2h0.9v0.9h-0.9zM174.3 100.3h0.9v0.9h-0.9zM172.6 101.8h0.9v0.9h-0.9zM175.5 104.6h0.9v0.9h-0.9z" fill="#7cc070" fill-opacity="0.6"/><rect x="184.40" y="93.30" width="12.30" height="23.50" fill="#e452b0" stroke="none" stroke-width="1" /><path d="M191.6 115.9h0.9v0.9h-0.9zM187.6 93.6h0.9v0.9h-0.9zM194.4 105.3h0.9v0.9h-0.9zM191.6 112.2h0.9v0.9h-0.9zM194.3 102.2h0.9v0.9h-0.9zM195.4 102.3h0.9v0.9h-0.9zM192.5 112.2h0.9v0.9h-0.9zM188.5 102.9h0.9v0.9h-0.9zM188.5 101.2h0.9v0.9h-0.9zM189.0 112.6h0.9v0.9h-0.9zM185.2 115.8h0.9v0.9h-0.9zM193.2 106.1h0.9v0.9h-0.9zM191.6 100.2h0.9v0.9h-0.9zM192.9 113.2h0.9v0.9h-0.9zM188.7 104.7h0.9v0.9h-0.9zM186.9 99.1h0.9v0.9h-0.9zM193.9 107.9h0.9v0.9h-0.9zM189.4 107.9h0.9v0.9h-0.9zM186.5 93.6h0.9v0.9h-0.9zM188.4 106.4h0.9v0.9h-0.9zM186.5 105.7h0.9v0.9h-0.9zM188.1 99.4h0.9v0.9h-0.9zM192.6 101.6h0.9v0.9h-0.9zM192.7 110.4h0.9v0.9h-0.9zM188.6 94.2h0.9v0.9h-0.9zM193.8 105.9h0.9v0.9h-0.9zM190.9 108.9h0.9v0.9h-0.9zM190.5 113.9h0.9v0.9h-0.9zM184.6 115.3h0.9v0.9h-0.9zM191.3 102.7h0.9v0.9h-0.9zM194.5 113.6h0.9v0.9h-0.9zM191.1 93.7h0.9v0.9h-0.9zM191.4 102.8h0.9v0.9h-0.9zM190.8 112.2h0.9v0.9h-0.9zM186.0 112.5h0.9v0.9h-0.9zM187.9 99.2h0.9v0.9h-0.9zM184.9 95.9h0.9v0.9h-0.9zM187.4 105.4h0.9v0.9h-0.9zM194.8 97.4h0.9v0.9h-0.9zM187.7 101.9h0.9v0.9h-0.9zM191.5 101.5h0.9v0.9h-0.9zM191.9 96.9h0.9v0.9h-0.9zM185.0 106.5h0.9v0.9h-0.9zM192.5 96.5h0.9v0.9h-0.9zM185.0 108.5h0.9v0.9h-0.9zM185.2 114.3h0.9v0.9h-0.9zM192.1 97.1h0.9v0.9h-0.9zM189.0 94.8h0.9v0.9h-0.9zM185.5 101.4h0.9v0.9h-0.9zM194.2 114.0h0.9v0.9h-0.9zM192.8 107.8h0.9v0.9h-0.9zM190.9 105.0h0.9v0.9h-0.9zM191.7 104.7h0.9v0.9h-0.9zM188.9 112.3h0.9v0.9h-0.9zM187.8 102.6h0.9v0.9h-0.9zM192.0 115.2h0.9v0.9h-0.9zM188.3 103.2h0.9v0.9h-0.9zM188.9 98.2h0.9v0.9h-0.9zM188.4 111.3h0.9v0.9h-0.9zM186.6 104.2h0.9v0.9h-0.9zM187.6 106.5h0.9v0.9h-0.9zM193.0 96.1h0.9v0.9h-0.9zM189.9 97.7h0.9v0.9h-0.9zM191.6 108.7h0.9v0.9h-0.9zM186.9 98.7h0.9v0.9h-0.9zM187.8 100.9h0.9v0.9h-0.9zM194.3 113.2h0.9v0.9h-0.9zM193.2 102.4h0.9v0.9h-0.9zM189.5 98.0h0.9v0.9h-0.9zM189.6 114.9h0.9v0.9h-0.9zM185.5 102.4h0.9v0.9h-0.9zM186.6 112.5h0.9v0.9h-0.9zM187.8 104.5h0.9v0.9h-0.9zM185.1 109.0h0.9v0.9h-0.9zM190.2 111.5h0.9v0.9h-0.9zM192.4 110.2h0.9v0.9h-0.9zM187.4 99.1h0.9v0.9h-0.9zM191.1 94.6h0.9v0.9h-0.9zM194.8 109.7h0.9v0.9h-0.9zM189.9 101.6h0.9v0.9h-0.9zM185.4 106.0h0.9v0.9h-0.9zM193.0 96.1h0.9v0.9h-0.9zM185.6 108.9h0.9v0.9h-0.9zM189.7 111.3h0.9v0.9h-0.9zM189.0 115.6h0.9v0.9h-0.9zM194.1 100.7h0.9v0.9h-0.9zM190.4 106.7h0.9v0.9h-0.9zM189.5 111.9h0.9v0.9h-0.9zM192.3 111.9h0.9v0.9h-0.9zM187.3 104.9h0.9v0.9h-0.9z" fill="#ffffff" fill-opacity="0.6"/><defs><linearGradient id="gp" x1="0" x2="1"><stop offset="0" stop-color="#7a2a60" stop-opacity="0"/><stop offset="0.5" stop-color="#7a2a60" stop-opacity="0.35"/><stop offset="1" stop-color="#5a2050" stop-opacity="0.5"/></linearGradient></defs><rect x="188.50" y="93.30" width="8.20" height="23.50" fill="url(#gp)" stroke="none" stroke-width="1" /><path d="M193.0 106.6h0.9v0.9h-0.9zM190.1 111.8h0.9v0.9h-0.9zM192.5 97.1h0.9v0.9h-0.9zM194.7 106.0h0.9v0.9h-0.9zM194.1 110.1h0.9v0.9h-0.9zM193.4 114.1h0.9v0.9h-0.9zM190.3 101.0h0.9v0.9h-0.9zM190.9 107.8h0.9v0.9h-0.9zM191.2 94.1h0.9v0.9h-0.9zM190.7 97.4h0.9v0.9h-0.9zM193.0 103.7h0.9v0.9h-0.9zM192.6 93.8h0.9v0.9h-0.9zM192.9 99.2h0.9v0.9h-0.9zM190.5 94.8h0.9v0.9h-0.9zM190.8 102.5h0.9v0.9h-0.9zM190.9 103.9h0.9v0.9h-0.9zM190.9 110.0h0.9v0.9h-0.9zM194.8 100.8h0.9v0.9h-0.9zM190.4 115.2h0.9v0.9h-0.9zM190.5 108.1h0.9v0.9h-0.9zM194.2 104.4h0.9v0.9h-0.9zM194.9 96.8h0.9v0.9h-0.9zM194.0 113.9h0.9v0.9h-0.9zM194.9 112.6h0.9v0.9h-0.9zM192.4 105.0h0.9v0.9h-0.9zM194.7 102.0h0.9v0.9h-0.9zM191.4 94.2h0.9v0.9h-0.9zM191.1 96.7h0.9v0.9h-0.9zM195.1 100.5h0.9v0.9h-0.9zM191.9 115.4h0.9v0.9h-0.9zM193.8 103.3h0.9v0.9h-0.9zM190.6 101.7h0.9v0.9h-0.9zM191.6 114.8h0.9v0.9h-0.9zM192.3 115.4h0.9v0.9h-0.9zM191.5 94.6h0.9v0.9h-0.9zM194.9 95.2h0.9v0.9h-0.9zM194.3 106.9h0.9v0.9h-0.9zM191.6 112.3h0.9v0.9h-0.9zM192.4 115.6h0.9v0.9h-0.9zM193.1 114.7h0.9v0.9h-0.9zM195.1 102.0h0.9v0.9h-0.9zM193.8 109.9h0.9v0.9h-0.9zM193.6 94.0h0.9v0.9h-0.9zM193.8 110.6h0.9v0.9h-0.9zM191.1 95.6h0.9v0.9h-0.9zM190.4 105.7h0.9v0.9h-0.9zM190.6 112.6h0.9v0.9h-0.9zM192.3 115.9h0.9v0.9h-0.9zM194.0 103.1h0.9v0.9h-0.9zM191.0 103.1h0.9v0.9h-0.9z" fill="#6a2050" fill-opacity="0.6"/><rect x="197.30" y="93.30" width="10.80" height="23.50" fill="#8cc4ec" stroke="none" stroke-width="1" /><path d="M203.3 112.9h0.9v0.9h-0.9zM206.0 100.8h0.9v0.9h-0.9zM197.7 108.5h0.9v0.9h-0.9zM204.0 108.1h0.9v0.9h-0.9zM205.1 111.8h0.9v0.9h-0.9zM203.4 112.0h0.9v0.9h-0.9zM198.7 114.8h0.9v0.9h-0.9zM203.8 95.6h0.9v0.9h-0.9zM199.1 107.9h0.9v0.9h-0.9zM200.4 114.6h0.9v0.9h-0.9zM200.2 104.4h0.9v0.9h-0.9zM202.3 114.7h0.9v0.9h-0.9zM200.4 113.6h0.9v0.9h-0.9zM204.4 106.3h0.9v0.9h-0.9zM206.5 113.4h0.9v0.9h-0.9zM204.6 105.8h0.9v0.9h-0.9zM197.9 98.5h0.9v0.9h-0.9zM203.7 96.1h0.9v0.9h-0.9zM203.6 101.3h0.9v0.9h-0.9zM201.2 112.0h0.9v0.9h-0.9zM205.5 110.3h0.9v0.9h-0.9zM201.7 105.6h0.9v0.9h-0.9zM206.9 114.3h0.9v0.9h-0.9zM203.3 95.3h0.9v0.9h-0.9zM206.1 94.5h0.9v0.9h-0.9zM198.6 108.3h0.9v0.9h-0.9zM199.4 110.5h0.9v0.9h-0.9zM204.0 97.2h0.9v0.9h-0.9zM206.1 116.0h0.9v0.9h-0.9zM203.7 115.6h0.9v0.9h-0.9zM205.1 104.1h0.9v0.9h-0.9zM205.3 114.6h0.9v0.9h-0.9zM204.1 95.4h0.9v0.9h-0.9zM201.0 109.3h0.9v0.9h-0.9zM201.0 97.2h0.9v0.9h-0.9zM201.8 96.7h0.9v0.9h-0.9zM202.0 95.7h0.9v0.9h-0.9zM204.4 98.3h0.9v0.9h-0.9zM206.4 95.9h0.9v0.9h-0.9zM203.5 108.0h0.9v0.9h-0.9zM199.4 107.6h0.9v0.9h-0.9zM202.7 107.4h0.9v0.9h-0.9zM199.3 104.2h0.9v0.9h-0.9zM205.4 107.4h0.9v0.9h-0.9zM199.8 101.0h0.9v0.9h-0.9zM205.9 94.7h0.9v0.9h-0.9zM202.0 105.0h0.9v0.9h-0.9zM201.6 93.6h0.9v0.9h-0.9zM198.5 112.4h0.9v0.9h-0.9zM201.8 100.1h0.9v0.9h-0.9zM201.8 94.7h0.9v0.9h-0.9zM198.3 112.1h0.9v0.9h-0.9zM204.7 97.9h0.9v0.9h-0.9zM200.5 95.2h0.9v0.9h-0.9zM200.5 105.2h0.9v0.9h-0.9zM204.7 104.9h0.9v0.9h-0.9zM205.6 116.0h0.9v0.9h-0.9zM202.9 94.5h0.9v0.9h-0.9zM198.8 108.6h0.9v0.9h-0.9zM198.7 113.7h0.9v0.9h-0.9zM198.0 94.7h0.9v0.9h-0.9zM207.0 102.7h0.9v0.9h-0.9zM202.8 106.9h0.9v0.9h-0.9zM198.6 101.1h0.9v0.9h-0.9zM201.0 110.1h0.9v0.9h-0.9zM204.9 109.1h0.9v0.9h-0.9zM199.2 103.9h0.9v0.9h-0.9zM206.2 97.4h0.9v0.9h-0.9zM200.8 107.4h0.9v0.9h-0.9zM207.0 94.1h0.9v0.9h-0.9zM204.1 103.9h0.9v0.9h-0.9zM202.5 112.4h0.9v0.9h-0.9zM198.4 107.0h0.9v0.9h-0.9zM200.5 110.5h0.9v0.9h-0.9zM204.3 102.9h0.9v0.9h-0.9zM198.9 110.7h0.9v0.9h-0.9zM204.2 106.2h0.9v0.9h-0.9zM204.6 114.9h0.9v0.9h-0.9zM199.8 109.0h0.9v0.9h-0.9zM205.2 99.5h0.9v0.9h-0.9z" fill="#ffffff" fill-opacity="0.6"/><path d="M261.0 101.2h0.9v0.9h-0.9zM265.8 107.0h0.9v0.9h-0.9zM267.4 113.5h0.9v0.9h-0.9zM250.5 102.5h0.9v0.9h-0.9zM227.2 107.1h0.9v0.9h-0.9zM252.4 103.5h0.9v0.9h-0.9zM260.6 99.2h0.9v0.9h-0.9zM231.1 97.6h0.9v0.9h-0.9zM213.6 100.8h0.9v0.9h-0.9zM210.5 106.8h0.9v0.9h-0.9zM237.9 103.0h0.9v0.9h-0.9zM251.8 106.2h0.9v0.9h-0.9zM242.6 96.3h0.9v0.9h-0.9zM220.2 95.0h0.9v0.9h-0.9zM213.2 112.8h0.9v0.9h-0.9zM212.5 107.3h0.9v0.9h-0.9zM222.6 109.0h0.9v0.9h-0.9zM258.1 112.3h0.9v0.9h-0.9zM266.7 115.3h0.9v0.9h-0.9zM223.8 115.7h0.9v0.9h-0.9zM248.9 100.5h0.9v0.9h-0.9zM220.1 105.8h0.9v0.9h-0.9zM255.9 96.6h0.9v0.9h-0.9zM259.9 108.9h0.9v0.9h-0.9zM236.0 103.3h0.9v0.9h-0.9zM222.8 103.2h0.9v0.9h-0.9zM245.1 104.0h0.9v0.9h-0.9zM245.0 113.3h0.9v0.9h-0.9zM211.2 94.9h0.9v0.9h-0.9zM264.5 98.7h0.9v0.9h-0.9zM253.2 103.2h0.9v0.9h-0.9zM215.5 94.8h0.9v0.9h-0.9zM225.5 107.4h0.9v0.9h-0.9zM210.6 94.7h0.9v0.9h-0.9zM218.2 113.4h0.9v0.9h-0.9zM247.9 100.0h0.9v0.9h-0.9zM224.0 103.5h0.9v0.9h-0.9zM244.6 100.6h0.9v0.9h-0.9zM221.4 105.3h0.9v0.9h-0.9zM216.0 103.7h0.9v0.9h-0.9zM247.7 105.3h0.9v0.9h-0.9zM210.6 102.0h0.9v0.9h-0.9zM234.4 99.5h0.9v0.9h-0.9zM223.2 106.5h0.9v0.9h-0.9zM221.9 98.4h0.9v0.9h-0.9zM258.5 95.9h0.9v0.9h-0.9zM261.3 96.5h0.9v0.9h-0.9zM233.3 106.2h0.9v0.9h-0.9zM224.4 108.0h0.9v0.9h-0.9zM259.2 101.4h0.9v0.9h-0.9zM210.7 98.8h0.9v0.9h-0.9zM258.8 107.4h0.9v0.9h-0.9zM248.2 102.9h0.9v0.9h-0.9zM219.9 109.3h0.9v0.9h-0.9zM234.3 114.1h0.9v0.9h-0.9zM213.2 101.9h0.9v0.9h-0.9zM243.2 114.0h0.9v0.9h-0.9zM227.7 111.4h0.9v0.9h-0.9zM211.7 108.3h0.9v0.9h-0.9zM220.1 109.4h0.9v0.9h-0.9zM218.6 98.5h0.9v0.9h-0.9zM217.3 110.1h0.9v0.9h-0.9zM244.9 114.1h0.9v0.9h-0.9zM224.6 95.9h0.9v0.9h-0.9zM252.7 100.0h0.9v0.9h-0.9zM245.3 105.0h0.9v0.9h-0.9zM226.4 95.2h0.9v0.9h-0.9zM215.6 110.6h0.9v0.9h-0.9zM227.3 113.5h0.9v0.9h-0.9zM252.6 106.0h0.9v0.9h-0.9zM268.4 94.6h0.9v0.9h-0.9zM223.9 106.0h0.9v0.9h-0.9zM210.6 113.2h0.9v0.9h-0.9zM212.9 107.0h0.9v0.9h-0.9zM217.4 102.7h0.9v0.9h-0.9zM227.6 100.7h0.9v0.9h-0.9zM213.6 108.8h0.9v0.9h-0.9zM238.4 96.2h0.9v0.9h-0.9zM267.4 96.8h0.9v0.9h-0.9zM215.4 100.6h0.9v0.9h-0.9zM221.9 105.0h0.9v0.9h-0.9zM261.0 96.7h0.9v0.9h-0.9zM234.7 107.9h0.9v0.9h-0.9zM216.8 102.1h0.9v0.9h-0.9zM226.4 113.6h0.9v0.9h-0.9zM250.1 104.8h0.9v0.9h-0.9zM210.8 102.2h0.9v0.9h-0.9zM253.4 103.8h0.9v0.9h-0.9zM223.3 108.2h0.9v0.9h-0.9zM210.4 108.4h0.9v0.9h-0.9zM242.8 96.9h0.9v0.9h-0.9zM224.8 112.9h0.9v0.9h-0.9zM217.1 105.9h0.9v0.9h-0.9zM221.0 106.4h0.9v0.9h-0.9zM223.4 101.9h0.9v0.9h-0.9zM262.9 109.4h0.9v0.9h-0.9zM269.9 101.7h0.9v0.9h-0.9zM227.7 102.4h0.9v0.9h-0.9zM257.7 102.4h0.9v0.9h-0.9zM242.4 98.3h0.9v0.9h-0.9zM232.5 100.3h0.9v0.9h-0.9zM261.9 102.4h0.9v0.9h-0.9zM265.5 106.7h0.9v0.9h-0.9zM220.7 106.3h0.9v0.9h-0.9zM263.5 109.4h0.9v0.9h-0.9zM254.0 106.7h0.9v0.9h-0.9zM237.8 97.5h0.9v0.9h-0.9zM254.7 108.3h0.9v0.9h-0.9zM240.0 101.0h0.9v0.9h-0.9zM248.9 105.8h0.9v0.9h-0.9zM219.7 115.8h0.9v0.9h-0.9zM249.7 109.1h0.9v0.9h-0.9zM255.4 109.5h0.9v0.9h-0.9zM223.0 115.0h0.9v0.9h-0.9zM261.2 108.9h0.9v0.9h-0.9zM225.8 105.3h0.9v0.9h-0.9zM210.4 113.6h0.9v0.9h-0.9zM254.6 107.3h0.9v0.9h-0.9zM227.7 111.8h0.9v0.9h-0.9zM210.1 103.1h0.9v0.9h-0.9zM216.6 107.6h0.9v0.9h-0.9zM221.4 107.6h0.9v0.9h-0.9zM260.5 103.3h0.9v0.9h-0.9zM211.9 94.8h0.9v0.9h-0.9zM255.0 104.6h0.9v0.9h-0.9zM226.2 95.1h0.9v0.9h-0.9zM211.6 94.5h0.9v0.9h-0.9zM260.3 95.5h0.9v0.9h-0.9zM219.8 104.7h0.9v0.9h-0.9zM234.6 99.3h0.9v0.9h-0.9zM239.8 108.2h0.9v0.9h-0.9zM268.5 96.5h0.9v0.9h-0.9zM218.5 96.7h0.9v0.9h-0.9zM218.3 99.1h0.9v0.9h-0.9zM210.2 111.9h0.9v0.9h-0.9zM217.6 110.5h0.9v0.9h-0.9zM253.2 111.6h0.9v0.9h-0.9zM210.2 107.1h0.9v0.9h-0.9zM256.4 108.1h0.9v0.9h-0.9zM236.8 103.6h0.9v0.9h-0.9z" fill="#e8a070" fill-opacity="0.55"/><rect x="153.50" y="93.30" width="29.20" height="23.90" fill="none" stroke="#444" stroke-width="0.9" /><rect x="184.20" y="93.50" width="12.80" height="23.70" fill="none" stroke="#552244" stroke-width="0.9" /><rect x="197.30" y="93.50" width="10.90" height="23.70" fill="none" stroke="#445566" stroke-width="0.9" /><rect x="209.60" y="94.00" width="72.00" height="23.20" fill="none" stroke="#555" stroke-width="0.9" /><rect x="153.50" y="7.20" width="143.10" height="110.00" fill="none" stroke="#4a4a4a" stroke-width="1" /><line x1="195.50" y1="7.20" x2="195.50" y2="89.50" stroke="#4a4a4a" stroke-width="1" /><line x1="153.50" y1="89.50" x2="296.60" y2="89.50" stroke="#4a4a4a" stroke-width="1" /><line x1="153.50" y1="117.20" x2="153.50" y2="119.70" stroke="#333" stroke-width="0.8" /><line x1="164.27" y1="117.20" x2="164.27" y2="119.00" stroke="#333" stroke-width="0.6" /><line x1="170.57" y1="117.20" x2="170.57" y2="119.00" stroke="#333" stroke-width="0.6" /><line x1="175.04" y1="117.20" x2="175.04" y2="119.00" stroke="#333" stroke-width="0.6" /><line x1="178.50" y1="117.20" x2="178.50" y2="119.00" stroke="#333" stroke-width="0.6" /><line x1="181.33" y1="117.20" x2="181.33" y2="119.00" stroke="#333" stroke-width="0.6" /><line x1="183.73" y1="117.20" x2="183.73" y2="119.00" stroke="#333" stroke-width="0.6" /><line x1="185.80" y1="117.20" x2="185.80" y2="119.00" stroke="#333" stroke-width="0.6" /><line x1="187.63" y1="117.20" x2="187.63" y2="119.00" stroke="#333" stroke-width="0.6" /><line x1="189.27" y1="117.20" x2="189.27" y2="119.70" stroke="#333" stroke-width="0.8" /><line x1="200.04" y1="117.20" x2="200.04" y2="119.00" stroke="#333" stroke-width="0.6" /><line x1="206.34" y1="117.20" x2="206.34" y2="119.00" stroke="#333" stroke-width="0.6" /><line x1="210.81" y1="117.20" x2="210.81" y2="119.00" stroke="#333" stroke-width="0.6" /><line x1="214.27" y1="117.20" x2="214.27" y2="119.00" stroke="#333" stroke-width="0.6" /><line x1="217.10" y1="117.20" x2="217.10" y2="119.00" stroke="#333" stroke-width="0.6" /><line x1="219.50" y1="117.20" x2="219.50" y2="119.00" stroke="#333" stroke-width="0.6" /><line x1="221.57" y1="117.20" x2="221.57" y2="119.00" stroke="#333" stroke-width="0.6" /><line x1="223.40" y1="117.20" x2="223.40" y2="119.00" stroke="#333" stroke-width="0.6" /><line x1="225.04" y1="117.20" x2="225.04" y2="119.70" stroke="#333" stroke-width="0.8" /><line x1="235.81" y1="117.20" x2="235.81" y2="119.00" stroke="#333" stroke-width="0.6" /><line x1="242.11" y1="117.20" x2="242.11" y2="119.00" stroke="#333" stroke-width="0.6" /><line x1="246.58" y1="117.20" x2="246.58" y2="119.00" stroke="#333" stroke-width="0.6" /><line x1="250.04" y1="117.20" x2="250.04" y2="119.00" stroke="#333" stroke-width="0.6" /><line x1="252.87" y1="117.20" x2="252.87" y2="119.00" stroke="#333" stroke-width="0.6" /><line x1="255.27" y1="117.20" x2="255.27" y2="119.00" stroke="#333" stroke-width="0.6" /><line x1="257.34" y1="117.20" x2="257.34" y2="119.00" stroke="#333" stroke-width="0.6" /><line x1="259.17" y1="117.20" x2="259.17" y2="119.00" stroke="#333" stroke-width="0.6" /><line x1="260.81" y1="117.20" x2="260.81" y2="119.70" stroke="#333" stroke-width="0.8" /><line x1="271.58" y1="117.20" x2="271.58" y2="119.00" stroke="#333" stroke-width="0.6" /><line x1="277.88" y1="117.20" x2="277.88" y2="119.00" stroke="#333" stroke-width="0.6" /><line x1="282.35" y1="117.20" x2="282.35" y2="119.00" stroke="#333" stroke-width="0.6" /><line x1="285.81" y1="117.20" x2="285.81" y2="119.00" stroke="#333" stroke-width="0.6" /><line x1="288.64" y1="117.20" x2="288.64" y2="119.00" stroke="#333" stroke-width="0.6" /><line x1="291.04" y1="117.20" x2="291.04" y2="119.00" stroke="#333" stroke-width="0.6" /><line x1="293.11" y1="117.20" x2="293.11" y2="119.00" stroke="#333" stroke-width="0.6" /><line x1="294.94" y1="117.20" x2="294.94" y2="119.00" stroke="#333" stroke-width="0.6" /><line x1="296.58" y1="117.20" x2="296.58" y2="119.70" stroke="#333" stroke-width="0.8" /><line x1="153.50" y1="117.20" x2="151.00" y2="117.20" stroke="#333" stroke-width="0.8" /><line x1="153.50" y1="108.92" x2="151.70" y2="108.92" stroke="#333" stroke-width="0.6" /><line x1="153.50" y1="104.08" x2="151.70" y2="104.08" stroke="#333" stroke-width="0.6" /><line x1="153.50" y1="100.64" x2="151.70" y2="100.64" stroke="#333" stroke-width="0.6" /><line x1="153.50" y1="97.98" x2="151.70" y2="97.98" stroke="#333" stroke-width="0.6" /><line x1="153.50" y1="95.80" x2="151.70" y2="95.80" stroke="#333" stroke-width="0.6" /><line x1="153.50" y1="93.96" x2="151.70" y2="93.96" stroke="#333" stroke-width="0.6" /><line x1="153.50" y1="92.37" x2="151.70" y2="92.37" stroke="#333" stroke-width="0.6" /><line x1="153.50" y1="90.96" x2="151.70" y2="90.96" stroke="#333" stroke-width="0.6" /><line x1="153.50" y1="89.70" x2="151.00" y2="89.70" stroke="#333" stroke-width="0.8" /><line x1="153.50" y1="81.42" x2="151.70" y2="81.42" stroke="#333" stroke-width="0.6" /><line x1="153.50" y1="76.58" x2="151.70" y2="76.58" stroke="#333" stroke-width="0.6" /><line x1="153.50" y1="73.14" x2="151.70" y2="73.14" stroke="#333" stroke-width="0.6" /><line x1="153.50" y1="70.48" x2="151.70" y2="70.48" stroke="#333" stroke-width="0.6" /><line x1="153.50" y1="68.30" x2="151.70" y2="68.30" stroke="#333" stroke-width="0.6" /><line x1="153.50" y1="66.46" x2="151.70" y2="66.46" stroke="#333" stroke-width="0.6" /><line x1="153.50" y1="64.87" x2="151.70" y2="64.87" stroke="#333" stroke-width="0.6" /><line x1="153.50" y1="63.46" x2="151.70" y2="63.46" stroke="#333" stroke-width="0.6" /><line x1="153.50" y1="62.20" x2="151.00" y2="62.20" stroke="#333" stroke-width="0.8" /><line x1="153.50" y1="53.92" x2="151.70" y2="53.92" stroke="#333" stroke-width="0.6" /><line x1="153.50" y1="49.08" x2="151.70" y2="49.08" stroke="#333" stroke-width="0.6" /><line x1="153.50" y1="45.64" x2="151.70" y2="45.64" stroke="#333" stroke-width="0.6" /><line x1="153.50" y1="42.98" x2="151.70" y2="42.98" stroke="#333" stroke-width="0.6" /><line x1="153.50" y1="40.80" x2="151.70" y2="40.80" stroke="#333" stroke-width="0.6" /><line x1="153.50" y1="38.96" x2="151.70" y2="38.96" stroke="#333" stroke-width="0.6" /><line x1="153.50" y1="37.37" x2="151.70" y2="37.37" stroke="#333" stroke-width="0.6" /><line x1="153.50" y1="35.96" x2="151.70" y2="35.96" stroke="#333" stroke-width="0.6" /><line x1="153.50" y1="34.70" x2="151.00" y2="34.70" stroke="#333" stroke-width="0.8" /><line x1="153.50" y1="26.42" x2="151.70" y2="26.42" stroke="#333" stroke-width="0.6" /><line x1="153.50" y1="21.58" x2="151.70" y2="21.58" stroke="#333" stroke-width="0.6" /><line x1="153.50" y1="18.14" x2="151.70" y2="18.14" stroke="#333" stroke-width="0.6" /><line x1="153.50" y1="15.48" x2="151.70" y2="15.48" stroke="#333" stroke-width="0.6" /><line x1="153.50" y1="13.30" x2="151.70" y2="13.30" stroke="#333" stroke-width="0.6" /><line x1="153.50" y1="11.46" x2="151.70" y2="11.46" stroke="#333" stroke-width="0.6" /><line x1="153.50" y1="9.87" x2="151.70" y2="9.87" stroke="#333" stroke-width="0.6" /><line x1="153.50" y1="8.46" x2="151.70" y2="8.46" stroke="#333" stroke-width="0.6" /><line x1="153.50" y1="7.20" x2="151.00" y2="7.20" stroke="#333" stroke-width="0.8" /><text x="154.10" y="125.90" font-size="5.6" text-anchor="middle" fill="#2a2a2a">10<tspan font-size="5.32" dy="-3.10">0</tspan></text><text x="189.87" y="125.90" font-size="5.6" text-anchor="middle" fill="#2a2a2a">10<tspan font-size="5.32" dy="-3.10">1</tspan></text><text x="225.64" y="125.90" font-size="5.6" text-anchor="middle" fill="#2a2a2a">10<tspan font-size="5.32" dy="-3.10">2</tspan></text><text x="261.41" y="125.90" font-size="5.6" text-anchor="middle" fill="#2a2a2a">10<tspan font-size="5.32" dy="-3.10">3</tspan></text><text x="297.18" y="125.90" font-size="5.6" text-anchor="middle" fill="#2a2a2a">10<tspan font-size="5.32" dy="-3.10">4</tspan></text><text transform="translate(147.40,116.80) rotate(-90)" x="0" y="2.00" font-size="5.6" text-anchor="middle" fill="#2a2a2a">10<tspan font-size="5.32" dy="-3.40">0</tspan></text><text transform="translate(147.40,89.30) rotate(-90)" x="0" y="2.00" font-size="5.6" text-anchor="middle" fill="#2a2a2a">10<tspan font-size="5.32" dy="-3.40">1</tspan></text><text transform="translate(147.40,61.80) rotate(-90)" x="0" y="2.00" font-size="5.6" text-anchor="middle" fill="#2a2a2a">10<tspan font-size="5.32" dy="-3.40">2</tspan></text><text transform="translate(147.40,34.30) rotate(-90)" x="0" y="2.00" font-size="5.6" text-anchor="middle" fill="#2a2a2a">10<tspan font-size="5.32" dy="-3.40">3</tspan></text><text transform="translate(147.40,6.80) rotate(-90)" x="0" y="2.00" font-size="5.6" text-anchor="middle" fill="#2a2a2a">10<tspan font-size="5.32" dy="-3.40">4</tspan></text><text x="173.60" y="101.06" font-size="6.6" text-anchor="middle" font-weight="bold" fill="#1a1a1a" stroke="#1a1a1a" stroke-width="0.1" >Low</text><text x="218.20" y="101.26" font-size="6.6" text-anchor="middle" font-weight="bold" fill="#1a1a1a" stroke="#1a1a1a" stroke-width="0.1" >High</text><text x="172.20" y="112.29" font-size="5" text-anchor="middle" fill="#444" stroke="#444" stroke-width="0.22" >R2</text><text x="193.50" y="112.29" font-size="5" text-anchor="middle" fill="#1e1e1e" stroke="#1e1e1e" stroke-width="0.22" >R3</text><text x="203.50" y="112.29" font-size="5" text-anchor="middle" fill="#444" stroke="#444" stroke-width="0.22" >R4</text><text x="248.50" y="112.29" font-size="5" text-anchor="middle" fill="#444" stroke="#444" stroke-width="0.22" >R5</text><text x="218.50" y="138.11" font-size="8.7" text-anchor="middle" fill="#222" stroke="#222" stroke-width="0.22" >ROS (DCF)</text><text transform="translate(136.60,60.50) rotate(-90)" x="0" y="3.04" font-size="8.5" text-anchor="middle" fill="#222">Annexin V</text><text x="336.70" y="14.00" font-size="17.6" font-weight="bold" fill="#000" stroke="#000" stroke-width="0.1">B</text><line x1="351.20" y1="27.00" x2="351.20" y2="111.20" stroke="#c8c8c8" stroke-width="1" /><line x1="351.20" y1="111.10" x2="456.50" y2="111.10" stroke="#c8c8c8" stroke-width="1" /><line x1="349.00" y1="111.20" x2="351.20" y2="111.20" stroke="#c8c8c8" stroke-width="1" /><text x="344.30" y="113.99" font-size="7.8" text-anchor="end" fill="#2a2a2a" stroke="#2a2a2a" stroke-width="0.1" >0</text><line x1="349.00" y1="94.36" x2="351.20" y2="94.36" stroke="#c8c8c8" stroke-width="1" /><text x="344.30" y="97.15" font-size="7.8" text-anchor="end" fill="#2a2a2a" stroke="#2a2a2a" stroke-width="0.1" >1</text><line x1="349.00" y1="77.52" x2="351.20" y2="77.52" stroke="#c8c8c8" stroke-width="1" /><text x="344.30" y="80.31" font-size="7.8" text-anchor="end" fill="#2a2a2a" stroke="#2a2a2a" stroke-width="0.1" >2</text><line x1="349.00" y1="60.68" x2="351.20" y2="60.68" stroke="#c8c8c8" stroke-width="1" /><text x="344.30" y="63.47" font-size="7.8" text-anchor="end" fill="#2a2a2a" stroke="#2a2a2a" stroke-width="0.1" >3</text><line x1="349.00" y1="43.84" x2="351.20" y2="43.84" stroke="#c8c8c8" stroke-width="1" /><text x="344.30" y="46.63" font-size="7.8" text-anchor="end" fill="#2a2a2a" stroke="#2a2a2a" stroke-width="0.1" >4</text><line x1="349.00" y1="27.00" x2="351.20" y2="27.00" stroke="#c8c8c8" stroke-width="1" /><text x="344.30" y="29.79" font-size="7.8" text-anchor="end" fill="#2a2a2a" stroke="#2a2a2a" stroke-width="0.1" >5</text><rect x="373.30" y="77.90" width="30.10" height="32.70" fill="#8b1a1a" stroke="#5a1010" stroke-width="0.6" /><rect x="403.40" y="104.60" width="30.20" height="6.00" fill="#2a2e84" stroke="#1a1d55" stroke-width="0.6" /><line x1="388.40" y1="71.60" x2="388.40" y2="83.90" stroke="#333" stroke-width="0.9" /><line x1="385.90" y1="71.60" x2="390.90" y2="71.60" stroke="#333" stroke-width="0.9" /><line x1="385.90" y1="83.90" x2="390.90" y2="83.90" stroke="#333" stroke-width="0.9" /><line x1="418.50" y1="103.20" x2="418.50" y2="105.40" stroke="#333" stroke-width="0.9" /><line x1="416.00" y1="103.20" x2="421.00" y2="103.20" stroke="#333" stroke-width="0.9" /><line x1="416.00" y1="105.40" x2="421.00" y2="105.40" stroke="#333" stroke-width="0.9" /><path d="M386.2 66.7 V59.7 H412.2 V66.3" fill="none" stroke="#666" stroke-width="0.9"/><circle cx="399.20" cy="56.30" r="1.3" fill="#111"/><rect x="358.30" y="31.00" width="5.80" height="4.60" fill="#6e1818" stroke="#301010" stroke-width="0.7" /><text x="366.80" y="36.41" font-size="8.4" text-anchor="start" fill="#1e1e1e" stroke="#1e1e1e" stroke-width="0.22" >ROS low</text><rect x="358.30" y="42.60" width="5.80" height="4.60" fill="#23265e" stroke="#101030" stroke-width="0.7" /><text x="366.80" y="48.11" font-size="8.4" text-anchor="start" fill="#1e1e1e" stroke="#1e1e1e" stroke-width="0.22" >ROS high</text><text x="405.10" y="124.16" font-size="7.7" text-anchor="middle" fill="#222" stroke="#222" stroke-width="0.1" letter-spacing="0.45">LTC-ICs (per 100)</text><line x1="351.20" y1="132.70" x2="351.20" y2="214.80" stroke="#c8c8c8" stroke-width="1" /><line x1="351.20" y1="214.80" x2="463.70" y2="214.80" stroke="#c8c8c8" stroke-width="1" /><line x1="349.00" y1="214.80" x2="351.20" y2="214.80" stroke="#c8c8c8" stroke-width="1" /><text x="344.80" y="217.77" font-size="8.3" text-anchor="end" fill="#1e1e1e" stroke="#1e1e1e" stroke-width="0.22" >0</text><line x1="349.00" y1="198.38" x2="351.20" y2="198.38" stroke="#c8c8c8" stroke-width="1" /><text x="344.80" y="201.35" font-size="8.3" text-anchor="end" fill="#1e1e1e" stroke="#1e1e1e" stroke-width="0.22" >10</text><line x1="349.00" y1="181.96" x2="351.20" y2="181.96" stroke="#c8c8c8" stroke-width="1" /><text x="344.80" y="184.93" font-size="8.3" text-anchor="end" fill="#1e1e1e" stroke="#1e1e1e" stroke-width="0.22" >20</text><line x1="349.00" y1="165.54" x2="351.20" y2="165.54" stroke="#c8c8c8" stroke-width="1" /><text x="344.80" y="168.51" font-size="8.3" text-anchor="end" fill="#1e1e1e" stroke="#1e1e1e" stroke-width="0.22" >30</text><line x1="349.00" y1="149.12" x2="351.20" y2="149.12" stroke="#c8c8c8" stroke-width="1" /><text x="344.80" y="152.09" font-size="8.3" text-anchor="end" fill="#1e1e1e" stroke="#1e1e1e" stroke-width="0.22" >40</text><line x1="349.00" y1="132.70" x2="351.20" y2="132.70" stroke="#c8c8c8" stroke-width="1" /><text x="344.80" y="135.67" font-size="8.3" text-anchor="end" fill="#1e1e1e" stroke="#1e1e1e" stroke-width="0.22" >50</text><rect x="375.80" y="165.54" width="31.70" height="49.26" fill="#8b1a1a" stroke="#5a1010" stroke-width="0.6" /><rect x="407.50" y="154.05" width="32.00" height="60.75" fill="#2a2e84" stroke="#1a1d55" stroke-width="0.6" /><line x1="391.70" y1="158.64" x2="391.70" y2="172.44" stroke="#333" stroke-width="0.9" /><line x1="389.20" y1="158.64" x2="394.20" y2="158.64" stroke="#333" stroke-width="0.9" /><line x1="389.20" y1="172.44" x2="394.20" y2="172.44" stroke="#333" stroke-width="0.9" /><line x1="423.50" y1="145.02" x2="423.50" y2="163.08" stroke="#333" stroke-width="0.9" /><line x1="421.00" y1="145.02" x2="426.00" y2="145.02" stroke="#333" stroke-width="0.9" /><line x1="421.00" y1="163.08" x2="426.00" y2="163.08" stroke="#333" stroke-width="0.9" /><rect x="358.00" y="137.30" width="5.40" height="4.60" fill="#6e1818" stroke="#301010" stroke-width="0.7" /><text x="365.70" y="142.68" font-size="8.6" text-anchor="start" fill="#1e1e1e" stroke="#1e1e1e" stroke-width="0.22" >ROS low</text><rect x="358.00" y="149.90" width="5.40" height="4.60" fill="#23265e" stroke="#101030" stroke-width="0.7" /><text x="365.70" y="155.28" font-size="8.6" text-anchor="start" fill="#1e1e1e" stroke="#1e1e1e" stroke-width="0.22" >ROS high</text><text x="408.50" y="228.92" font-size="7.6" text-anchor="middle" fill="#1e1e1e" stroke="#1e1e1e" stroke-width="0.22" letter-spacing="0.5">CFU-Cs (per 100)</text><line x1="351.00" y1="236.00" x2="351.00" y2="318.00" stroke="#c8c8c8" stroke-width="1" /><line x1="351.00" y1="318.00" x2="520.00" y2="318.00" stroke="#c8c8c8" stroke-width="1" /><line x1="349.00" y1="318.00" x2="351.00" y2="318.00" stroke="#c8c8c8" stroke-width="1" /><text x="344.30" y="320.97" font-size="8.3" text-anchor="end" fill="#1e1e1e" stroke="#1e1e1e" stroke-width="0.22" >0%</text><line x1="349.00" y1="301.60" x2="351.00" y2="301.60" stroke="#c8c8c8" stroke-width="1" /><text x="344.30" y="304.57" font-size="8.3" text-anchor="end" fill="#1e1e1e" stroke="#1e1e1e" stroke-width="0.22" >20%</text><line x1="349.00" y1="285.20" x2="351.00" y2="285.20" stroke="#c8c8c8" stroke-width="1" /><text x="344.30" y="288.17" font-size="8.3" text-anchor="end" fill="#1e1e1e" stroke="#1e1e1e" stroke-width="0.22" >40%</text><line x1="349.00" y1="268.80" x2="351.00" y2="268.80" stroke="#c8c8c8" stroke-width="1" /><text x="344.30" y="271.77" font-size="8.3" text-anchor="end" fill="#1e1e1e" stroke="#1e1e1e" stroke-width="0.22" >60%</text><line x1="349.00" y1="252.40" x2="351.00" y2="252.40" stroke="#c8c8c8" stroke-width="1" /><text x="344.30" y="255.37" font-size="8.3" text-anchor="end" fill="#1e1e1e" stroke="#1e1e1e" stroke-width="0.22" >80%</text><line x1="349.00" y1="236.00" x2="351.00" y2="236.00" stroke="#c8c8c8" stroke-width="1" /><text x="344.30" y="238.97" font-size="8.3" text-anchor="end" fill="#1e1e1e" stroke="#1e1e1e" stroke-width="0.22" >100%</text><line x1="407.50" y1="318.00" x2="407.50" y2="320.00" stroke="#c8c8c8" stroke-width="1" /><line x1="463.30" y1="318.00" x2="463.30" y2="320.00" stroke="#c8c8c8" stroke-width="1" /><rect x="360.00" y="291.76" width="19.30" height="26.24" fill="#8b1a1a" stroke="#5a1010" stroke-width="0.6" /><rect x="379.30" y="302.42" width="19.30" height="15.58" fill="#2a2e84" stroke="#1a1d55" stroke-width="0.6" /><line x1="369.65" y1="288.48" x2="369.65" y2="295.45" stroke="#333" stroke-width="0.9" /><line x1="367.45" y1="288.48" x2="371.85" y2="288.48" stroke="#333" stroke-width="0.9" /><line x1="367.45" y1="295.45" x2="371.85" y2="295.45" stroke="#333" stroke-width="0.9" /><line x1="388.95" y1="299.96" x2="388.95" y2="304.72" stroke="#333" stroke-width="0.9" /><line x1="386.75" y1="299.96" x2="391.15" y2="299.96" stroke="#333" stroke-width="0.9" /><line x1="386.75" y1="304.72" x2="391.15" y2="304.72" stroke="#333" stroke-width="0.9" /><rect x="416.20" y="286.10" width="19.30" height="31.90" fill="#8b1a1a" stroke="#5a1010" stroke-width="0.6" /><rect x="435.50" y="302.42" width="19.30" height="15.58" fill="#2a2e84" stroke="#1a1d55" stroke-width="0.6" /><line x1="425.85" y1="281.26" x2="425.85" y2="290.94" stroke="#333" stroke-width="0.9" /><line x1="423.65" y1="281.26" x2="428.05" y2="281.26" stroke="#333" stroke-width="0.9" /><line x1="423.65" y1="290.94" x2="428.05" y2="290.94" stroke="#333" stroke-width="0.9" /><line x1="445.15" y1="300.12" x2="445.15" y2="304.63" stroke="#333" stroke-width="0.9" /><line x1="442.95" y1="300.12" x2="447.35" y2="300.12" stroke="#333" stroke-width="0.9" /><line x1="442.95" y1="304.63" x2="447.35" y2="304.63" stroke="#333" stroke-width="0.9" /><rect x="471.60" y="293.40" width="19.30" height="24.60" fill="#8b1a1a" stroke="#5a1010" stroke-width="0.6" /><rect x="490.90" y="266.34" width="19.30" height="51.66" fill="#2a2e84" stroke="#1a1d55" stroke-width="0.6" /><line x1="481.25" y1="289.30" x2="481.25" y2="296.68" stroke="#333" stroke-width="0.9" /><line x1="479.05" y1="289.30" x2="483.45" y2="289.30" stroke="#333" stroke-width="0.9" /><line x1="479.05" y1="296.68" x2="483.45" y2="296.68" stroke="#333" stroke-width="0.9" /><line x1="500.55" y1="258.14" x2="500.55" y2="274.54" stroke="#333" stroke-width="0.9" /><line x1="498.35" y1="258.14" x2="502.75" y2="258.14" stroke="#333" stroke-width="0.9" /><line x1="498.35" y1="274.54" x2="502.75" y2="274.54" stroke="#333" stroke-width="0.9" /><path d="M476.4 252.7 V245.5 H501.4 V252.7" fill="none" stroke="#666" stroke-width="0.9"/><circle cx="488.30" cy="242.30" r="1.3" fill="#111"/><rect x="359.00" y="241.00" width="5.10" height="5.00" fill="#6e1818" stroke="#301010" stroke-width="0.7" /><text x="366.60" y="245.96" font-size="8.0" text-anchor="start" fill="#1e1e1e" stroke="#1e1e1e" stroke-width="0.22" >ROS low</text><rect x="359.00" y="251.30" width="5.10" height="5.00" fill="#23265e" stroke="#101030" stroke-width="0.7" /><text x="366.60" y="256.46" font-size="8.0" text-anchor="start" fill="#1e1e1e" stroke="#1e1e1e" stroke-width="0.22" >ROS high</text><text x="379.70" y="333.99" font-size="7.8" text-anchor="middle" fill="#222" stroke="#222" stroke-width="0.22" >GEMM</text><text x="434.80" y="334.19" font-size="7.8" text-anchor="middle" fill="#222" stroke="#222" stroke-width="0.22" >Erythroid</text><text x="490.70" y="334.19" font-size="7.8" text-anchor="middle" fill="#222" stroke="#222" stroke-width="0.22" >Myeloid</text><text x="2.50" y="155.50" font-size="17.6" font-weight="bold" fill="#000" stroke="#000" stroke-width="0.1">C</text><line x1="43.20" y1="175.86" x2="43.20" y2="274.70" stroke="#c8c8c8" stroke-width="1" /><line x1="43.20" y1="274.70" x2="248.00" y2="274.70" stroke="#c8c8c8" stroke-width="1" /><line x1="41.00" y1="274.70" x2="43.20" y2="274.70" stroke="#c8c8c8" stroke-width="1" /><text x="37.20" y="276.66" font-size="8.0" text-anchor="end" fill="#222" stroke="#222" stroke-width="0.22" >0%</text><line x1="41.00" y1="260.58" x2="43.20" y2="260.58" stroke="#c8c8c8" stroke-width="1" /><text x="37.20" y="262.54" font-size="8.0" text-anchor="end" fill="#222" stroke="#222" stroke-width="0.22" >10%</text><line x1="41.00" y1="246.46" x2="43.20" y2="246.46" stroke="#c8c8c8" stroke-width="1" /><text x="37.20" y="248.42" font-size="8.0" text-anchor="end" fill="#222" stroke="#222" stroke-width="0.22" >20%</text><line x1="41.00" y1="232.34" x2="43.20" y2="232.34" stroke="#c8c8c8" stroke-width="1" /><text x="37.20" y="234.30" font-size="8.0" text-anchor="end" fill="#222" stroke="#222" stroke-width="0.22" >30%</text><line x1="41.00" y1="218.22" x2="43.20" y2="218.22" stroke="#c8c8c8" stroke-width="1" /><text x="37.20" y="220.18" font-size="8.0" text-anchor="end" fill="#222" stroke="#222" stroke-width="0.22" >40%</text><line x1="41.00" y1="204.10" x2="43.20" y2="204.10" stroke="#c8c8c8" stroke-width="1" /><text x="37.20" y="206.06" font-size="8.0" text-anchor="end" fill="#222" stroke="#222" stroke-width="0.22" >50%</text><line x1="41.00" y1="189.98" x2="43.20" y2="189.98" stroke="#c8c8c8" stroke-width="1" /><text x="37.20" y="191.94" font-size="8.0" text-anchor="end" fill="#222" stroke="#222" stroke-width="0.22" >60%</text><line x1="41.00" y1="175.86" x2="43.20" y2="175.86" stroke="#c8c8c8" stroke-width="1" /><text x="37.20" y="177.82" font-size="8.0" text-anchor="end" fill="#222" stroke="#222" stroke-width="0.22" >70%</text><text x="56.20" y="290.06" font-size="8.0" text-anchor="middle" fill="#222" stroke="#222" stroke-width="0.22" >4</text><line x1="68.80" y1="274.70" x2="68.80" y2="276.70" stroke="#c8c8c8" stroke-width="1" /><text x="81.80" y="290.06" font-size="8.0" text-anchor="middle" fill="#222" stroke="#222" stroke-width="0.22" >8</text><line x1="94.40" y1="274.70" x2="94.40" y2="276.70" stroke="#c8c8c8" stroke-width="1" /><text x="109.10" y="290.06" font-size="8.0" text-anchor="middle" fill="#222" stroke="#222" stroke-width="0.22" >12</text><line x1="120.00" y1="274.70" x2="120.00" y2="276.70" stroke="#c8c8c8" stroke-width="1" /><text x="134.70" y="290.06" font-size="8.0" text-anchor="middle" fill="#222" stroke="#222" stroke-width="0.22" >16</text><line x1="145.60" y1="274.70" x2="145.60" y2="276.70" stroke="#c8c8c8" stroke-width="1" /><text x="160.30" y="290.06" font-size="8.0" text-anchor="middle" fill="#222" stroke="#222" stroke-width="0.22" >20</text><line x1="171.20" y1="274.70" x2="171.20" y2="276.70" stroke="#c8c8c8" stroke-width="1" /><text x="185.90" y="290.06" font-size="8.0" text-anchor="middle" fill="#222" stroke="#222" stroke-width="0.22" >24</text><line x1="196.80" y1="274.70" x2="196.80" y2="276.70" stroke="#c8c8c8" stroke-width="1" /><text x="211.50" y="290.06" font-size="8.0" text-anchor="middle" fill="#222" stroke="#222" stroke-width="0.22" >28</text><line x1="222.40" y1="274.70" x2="222.40" y2="276.70" stroke="#c8c8c8" stroke-width="1" /><text x="237.10" y="290.06" font-size="8.0" text-anchor="middle" fill="#222" stroke="#222" stroke-width="0.22" >32</text><line x1="248.00" y1="274.70" x2="248.00" y2="276.70" stroke="#c8c8c8" stroke-width="1" /><text x="148.30" y="304.04" font-size="9.6" text-anchor="middle" font-weight="bold" fill="#111" stroke="#111" stroke-width="0.1" >Weeks after transplantation</text><text transform="translate(12.20,224.30) rotate(-90)" x="0" y="3.03" font-size="8.45" text-anchor="middle" font-weight="bold" fill="#111">% CD45.1</text><polyline points="56.00,274.14 81.60,265.38 107.20,258.46 132.80,251.40 158.40,246.74 184.00,245.90 209.60,236.29 235.20,236.86" fill="none" stroke="#c05a5a" stroke-width="0.9"/><polyline points="56.00,273.29 81.60,262.84 107.20,256.34 132.80,250.27 158.40,245.19 184.00,242.79 209.60,232.48 235.20,232.48" fill="none" stroke="#c05a5a" stroke-width="0.9"/><polyline points="56.00,259.59 81.60,256.63 107.20,250.84 132.80,243.64 158.40,238.69 184.00,235.87 209.60,228.53 235.20,228.53" fill="none" stroke="#b84a4a" stroke-width="0.9"/><polyline points="56.00,249.57 81.60,231.63 107.20,228.95 132.80,204.24 158.40,199.86 184.00,190.26 209.60,187.16 235.20,188.57" fill="none" stroke="#b84a4a" stroke-width="0.9"/><polyline points="56.00,273.29 81.60,273.57 107.20,274.28 132.80,274.28 158.40,274.28 184.00,274.28 209.60,274.28 235.20,274.28" fill="none" stroke="#6870b8" stroke-width="0.9"/><polyline points="56.00,273.57 81.60,273.85 107.20,274.28 132.80,274.28 158.40,274.28 184.00,274.28 209.60,274.28 235.20,274.28" fill="none" stroke="#6870b8" stroke-width="0.9"/><polyline points="56.00,264.82 81.60,264.82 107.20,264.82 132.80,265.38 158.40,267.08 184.00,267.08 209.60,267.08 235.20,269.05" fill="none" stroke="#5560b4" stroke-width="0.9"/><polyline points="56.00,252.67 81.60,255.21 107.20,259.03 132.80,259.73 158.40,263.12 184.00,263.12 209.60,263.12 235.20,265.52" fill="none" stroke="#5560b4" stroke-width="0.9"/><line x1="107.20" y1="256.34" x2="107.20" y2="260.58" stroke="#a03a40" stroke-width="0.9" /><line x1="105.20" y1="256.34" x2="109.20" y2="256.34" stroke="#a03a40" stroke-width="0.9" /><line x1="105.20" y1="260.58" x2="109.20" y2="260.58" stroke="#a03a40" stroke-width="0.9" /><line x1="132.80" y1="248.58" x2="132.80" y2="254.23" stroke="#a03a40" stroke-width="0.9" /><line x1="130.80" y1="248.58" x2="134.80" y2="248.58" stroke="#a03a40" stroke-width="0.9" /><line x1="130.80" y1="254.23" x2="134.80" y2="254.23" stroke="#a03a40" stroke-width="0.9" /><line x1="158.40" y1="243.92" x2="158.40" y2="249.57" stroke="#a03a40" stroke-width="0.9" /><line x1="156.40" y1="243.92" x2="160.40" y2="243.92" stroke="#a03a40" stroke-width="0.9" /><line x1="156.40" y1="249.57" x2="160.40" y2="249.57" stroke="#a03a40" stroke-width="0.9" /><line x1="184.00" y1="241.66" x2="184.00" y2="250.13" stroke="#a03a40" stroke-width="0.9" /><line x1="182.00" y1="241.66" x2="186.00" y2="241.66" stroke="#a03a40" stroke-width="0.9" /><line x1="182.00" y1="250.13" x2="186.00" y2="250.13" stroke="#a03a40" stroke-width="0.9" /><line x1="209.60" y1="232.06" x2="209.60" y2="240.53" stroke="#a03a40" stroke-width="0.9" /><line x1="207.60" y1="232.06" x2="211.60" y2="232.06" stroke="#a03a40" stroke-width="0.9" /><line x1="207.60" y1="240.53" x2="211.60" y2="240.53" stroke="#a03a40" stroke-width="0.9" /><line x1="235.20" y1="232.62" x2="235.20" y2="241.09" stroke="#a03a40" stroke-width="0.9" /><line x1="233.20" y1="232.62" x2="237.20" y2="232.62" stroke="#a03a40" stroke-width="0.9" /><line x1="233.20" y1="241.09" x2="237.20" y2="241.09" stroke="#a03a40" stroke-width="0.9" /><line x1="81.60" y1="260.72" x2="81.60" y2="264.96" stroke="#a03a40" stroke-width="0.9" /><line x1="79.60" y1="260.72" x2="83.60" y2="260.72" stroke="#a03a40" stroke-width="0.9" /><line x1="79.60" y1="264.96" x2="83.60" y2="264.96" stroke="#a03a40" stroke-width="0.9" /><line x1="107.20" y1="253.52" x2="107.20" y2="259.17" stroke="#a03a40" stroke-width="0.9" /><line x1="105.20" y1="253.52" x2="109.20" y2="253.52" stroke="#a03a40" stroke-width="0.9" /><line x1="105.20" y1="259.17" x2="109.20" y2="259.17" stroke="#a03a40" stroke-width="0.9" /><line x1="132.80" y1="246.74" x2="132.80" y2="253.80" stroke="#a03a40" stroke-width="0.9" /><line x1="130.80" y1="246.74" x2="134.80" y2="246.74" stroke="#a03a40" stroke-width="0.9" /><line x1="130.80" y1="253.80" x2="134.80" y2="253.80" stroke="#a03a40" stroke-width="0.9" /><line x1="158.40" y1="241.66" x2="158.40" y2="248.72" stroke="#a03a40" stroke-width="0.9" /><line x1="156.40" y1="241.66" x2="160.40" y2="241.66" stroke="#a03a40" stroke-width="0.9" /><line x1="156.40" y1="248.72" x2="160.40" y2="248.72" stroke="#a03a40" stroke-width="0.9" /><line x1="184.00" y1="237.14" x2="184.00" y2="248.44" stroke="#a03a40" stroke-width="0.9" /><line x1="182.00" y1="237.14" x2="186.00" y2="237.14" stroke="#a03a40" stroke-width="0.9" /><line x1="182.00" y1="248.44" x2="186.00" y2="248.44" stroke="#a03a40" stroke-width="0.9" /><line x1="209.60" y1="227.54" x2="209.60" y2="237.42" stroke="#a03a40" stroke-width="0.9" /><line x1="207.60" y1="227.54" x2="211.60" y2="227.54" stroke="#a03a40" stroke-width="0.9" /><line x1="207.60" y1="237.42" x2="211.60" y2="237.42" stroke="#a03a40" stroke-width="0.9" /><line x1="235.20" y1="226.83" x2="235.20" y2="238.13" stroke="#a03a40" stroke-width="0.9" /><line x1="233.20" y1="226.83" x2="237.20" y2="226.83" stroke="#a03a40" stroke-width="0.9" /><line x1="233.20" y1="238.13" x2="237.20" y2="238.13" stroke="#a03a40" stroke-width="0.9" /><line x1="56.00" y1="257.47" x2="56.00" y2="261.71" stroke="#8c1c2c" stroke-width="0.9" /><line x1="54.00" y1="257.47" x2="58.00" y2="257.47" stroke="#8c1c2c" stroke-width="0.9" /><line x1="54.00" y1="261.71" x2="58.00" y2="261.71" stroke="#8c1c2c" stroke-width="0.9" /><line x1="81.60" y1="253.80" x2="81.60" y2="259.45" stroke="#8c1c2c" stroke-width="0.9" /><line x1="79.60" y1="253.80" x2="83.60" y2="253.80" stroke="#8c1c2c" stroke-width="0.9" /><line x1="79.60" y1="259.45" x2="83.60" y2="259.45" stroke="#8c1c2c" stroke-width="0.9" /><line x1="107.20" y1="243.78" x2="107.20" y2="257.90" stroke="#8c1c2c" stroke-width="0.9" /><line x1="105.20" y1="243.78" x2="109.20" y2="243.78" stroke="#8c1c2c" stroke-width="0.9" /><line x1="105.20" y1="257.90" x2="109.20" y2="257.90" stroke="#8c1c2c" stroke-width="0.9" /><line x1="132.80" y1="236.58" x2="132.80" y2="250.70" stroke="#8c1c2c" stroke-width="0.9" /><line x1="130.80" y1="236.58" x2="134.80" y2="236.58" stroke="#8c1c2c" stroke-width="0.9" /><line x1="130.80" y1="250.70" x2="134.80" y2="250.70" stroke="#8c1c2c" stroke-width="0.9" /><line x1="158.40" y1="231.63" x2="158.40" y2="245.75" stroke="#8c1c2c" stroke-width="0.9" /><line x1="156.40" y1="231.63" x2="160.40" y2="231.63" stroke="#8c1c2c" stroke-width="0.9" /><line x1="156.40" y1="245.75" x2="160.40" y2="245.75" stroke="#8c1c2c" stroke-width="0.9" /><line x1="184.00" y1="228.81" x2="184.00" y2="242.93" stroke="#8c1c2c" stroke-width="0.9" /><line x1="182.00" y1="228.81" x2="186.00" y2="228.81" stroke="#8c1c2c" stroke-width="0.9" /><line x1="182.00" y1="242.93" x2="186.00" y2="242.93" stroke="#8c1c2c" stroke-width="0.9" /><line x1="209.60" y1="218.64" x2="209.60" y2="238.41" stroke="#8c1c2c" stroke-width="0.9" /><line x1="207.60" y1="218.64" x2="211.60" y2="218.64" stroke="#8c1c2c" stroke-width="0.9" /><line x1="207.60" y1="238.41" x2="211.60" y2="238.41" stroke="#8c1c2c" stroke-width="0.9" /><line x1="235.20" y1="217.23" x2="235.20" y2="239.82" stroke="#8c1c2c" stroke-width="0.9" /><line x1="233.20" y1="217.23" x2="237.20" y2="217.23" stroke="#8c1c2c" stroke-width="0.9" /><line x1="233.20" y1="239.82" x2="237.20" y2="239.82" stroke="#8c1c2c" stroke-width="0.9" /><line x1="81.60" y1="225.14" x2="81.60" y2="238.13" stroke="#8c1c2c" stroke-width="0.9" /><line x1="79.60" y1="225.14" x2="83.60" y2="225.14" stroke="#8c1c2c" stroke-width="0.9" /><line x1="79.60" y1="238.13" x2="83.60" y2="238.13" stroke="#8c1c2c" stroke-width="0.9" /><line x1="107.20" y1="225.00" x2="107.20" y2="232.90" stroke="#8c1c2c" stroke-width="0.9" /><line x1="105.20" y1="225.00" x2="109.20" y2="225.00" stroke="#8c1c2c" stroke-width="0.9" /><line x1="105.20" y1="232.90" x2="109.20" y2="232.90" stroke="#8c1c2c" stroke-width="0.9" /><line x1="132.80" y1="199.16" x2="132.80" y2="209.32" stroke="#8c1c2c" stroke-width="0.9" /><line x1="130.80" y1="199.16" x2="134.80" y2="199.16" stroke="#8c1c2c" stroke-width="0.9" /><line x1="130.80" y1="209.32" x2="134.80" y2="209.32" stroke="#8c1c2c" stroke-width="0.9" /><line x1="158.40" y1="194.22" x2="158.40" y2="205.51" stroke="#8c1c2c" stroke-width="0.9" /><line x1="156.40" y1="194.22" x2="160.40" y2="194.22" stroke="#8c1c2c" stroke-width="0.9" /><line x1="156.40" y1="205.51" x2="160.40" y2="205.51" stroke="#8c1c2c" stroke-width="0.9" /><line x1="184.00" y1="183.48" x2="184.00" y2="197.04" stroke="#8c1c2c" stroke-width="0.9" /><line x1="182.00" y1="183.48" x2="186.00" y2="183.48" stroke="#8c1c2c" stroke-width="0.9" /><line x1="182.00" y1="197.04" x2="186.00" y2="197.04" stroke="#8c1c2c" stroke-width="0.9" /><line x1="209.60" y1="180.38" x2="209.60" y2="193.93" stroke="#8c1c2c" stroke-width="0.9" /><line x1="207.60" y1="180.38" x2="211.60" y2="180.38" stroke="#8c1c2c" stroke-width="0.9" /><line x1="207.60" y1="193.93" x2="211.60" y2="193.93" stroke="#8c1c2c" stroke-width="0.9" /><line x1="235.20" y1="181.37" x2="235.20" y2="195.77" stroke="#8c1c2c" stroke-width="0.9" /><line x1="233.20" y1="181.37" x2="237.20" y2="181.37" stroke="#8c1c2c" stroke-width="0.9" /><line x1="233.20" y1="195.77" x2="237.20" y2="195.77" stroke="#8c1c2c" stroke-width="0.9" /><line x1="81.60" y1="249.57" x2="81.60" y2="260.86" stroke="#283080" stroke-width="0.9" /><line x1="79.60" y1="249.57" x2="83.60" y2="249.57" stroke="#283080" stroke-width="0.9" /><line x1="79.60" y1="260.86" x2="83.60" y2="260.86" stroke="#283080" stroke-width="0.9" /><line x1="107.20" y1="256.91" x2="107.20" y2="261.14" stroke="#283080" stroke-width="0.9" /><line x1="105.20" y1="256.91" x2="109.20" y2="256.91" stroke="#283080" stroke-width="0.9" /><line x1="105.20" y1="261.14" x2="109.20" y2="261.14" stroke="#283080" stroke-width="0.9" /><path d="M56.00 272.24 L57.90 275.44 L54.10 275.44Z" fill="#fff" stroke="#a03a40" stroke-width="0.8"/><path d="M81.60 263.48 L83.50 266.68 L79.70 266.68Z" fill="#fff" stroke="#a03a40" stroke-width="0.8"/><path d="M107.20 256.56 L109.10 259.76 L105.30 259.76Z" fill="#fff" stroke="#a03a40" stroke-width="0.8"/><path d="M132.80 249.50 L134.70 252.70 L130.90 252.70Z" fill="#fff" stroke="#a03a40" stroke-width="0.8"/><path d="M158.40 244.84 L160.30 248.04 L156.50 248.04Z" fill="#fff" stroke="#a03a40" stroke-width="0.8"/><path d="M184.00 244.00 L185.90 247.20 L182.10 247.20Z" fill="#fff" stroke="#a03a40" stroke-width="0.8"/><path d="M209.60 234.39 L211.50 237.59 L207.70 237.59Z" fill="#fff" stroke="#a03a40" stroke-width="0.8"/><path d="M235.20 234.96 L237.10 238.16 L233.30 238.16Z" fill="#fff" stroke="#a03a40" stroke-width="0.8"/><circle cx="56.00" cy="273.29" r="1.60" fill="#fff" stroke="#a03a40" stroke-width="0.9"/><circle cx="81.60" cy="262.84" r="1.60" fill="#fff" stroke="#a03a40" stroke-width="0.9"/><circle cx="107.20" cy="256.34" r="1.60" fill="#fff" stroke="#a03a40" stroke-width="0.9"/><circle cx="132.80" cy="250.27" r="1.60" fill="#fff" stroke="#a03a40" stroke-width="0.9"/><circle cx="158.40" cy="245.19" r="1.60" fill="#fff" stroke="#a03a40" stroke-width="0.9"/><circle cx="184.00" cy="242.79" r="1.60" fill="#fff" stroke="#a03a40" stroke-width="0.9"/><circle cx="209.60" cy="232.48" r="1.60" fill="#fff" stroke="#a03a40" stroke-width="0.9"/><circle cx="235.20" cy="232.48" r="1.60" fill="#fff" stroke="#a03a40" stroke-width="0.9"/><path d="M56.00 257.39 L58.10 261.19 L53.90 261.19Z" fill="#8c1c2c"/><path d="M81.60 254.43 L83.70 258.23 L79.50 258.23Z" fill="#8c1c2c"/><path d="M107.20 248.64 L109.30 252.44 L105.10 252.44Z" fill="#8c1c2c"/><path d="M132.80 241.44 L134.90 245.24 L130.70 245.24Z" fill="#8c1c2c"/><path d="M158.40 236.49 L160.50 240.29 L156.30 240.29Z" fill="#8c1c2c"/><path d="M184.00 233.67 L186.10 237.47 L181.90 237.47Z" fill="#8c1c2c"/><path d="M209.60 226.33 L211.70 230.13 L207.50 230.13Z" fill="#8c1c2c"/><path d="M235.20 226.33 L237.30 230.13 L233.10 230.13Z" fill="#8c1c2c"/><rect x="54.10" y="247.67" width="3.80" height="3.80" fill="#8c1c2c"/><rect x="79.70" y="229.73" width="3.80" height="3.80" fill="#8c1c2c"/><rect x="105.30" y="227.05" width="3.80" height="3.80" fill="#8c1c2c"/><rect x="130.90" y="202.34" width="3.80" height="3.80" fill="#8c1c2c"/><rect x="156.50" y="197.96" width="3.80" height="3.80" fill="#8c1c2c"/><rect x="182.10" y="188.36" width="3.80" height="3.80" fill="#8c1c2c"/><rect x="207.70" y="185.26" width="3.80" height="3.80" fill="#8c1c2c"/><rect x="233.30" y="186.67" width="3.80" height="3.80" fill="#8c1c2c"/><path d="M56.00 271.79 L57.50 274.19 L54.50 274.19Z" fill="#fff" stroke="#5a62a8" stroke-width="0.8"/><path d="M81.60 272.07 L83.10 274.47 L80.10 274.47Z" fill="#fff" stroke="#5a62a8" stroke-width="0.8"/><path d="M107.20 272.78 L108.70 275.18 L105.70 275.18Z" fill="#fff" stroke="#5a62a8" stroke-width="0.8"/><path d="M132.80 272.78 L134.30 275.18 L131.30 275.18Z" fill="#fff" stroke="#5a62a8" stroke-width="0.8"/><path d="M158.40 272.78 L159.90 275.18 L156.90 275.18Z" fill="#fff" stroke="#5a62a8" stroke-width="0.8"/><path d="M184.00 272.78 L185.50 275.18 L182.50 275.18Z" fill="#fff" stroke="#5a62a8" stroke-width="0.8"/><path d="M209.60 272.78 L211.10 275.18 L208.10 275.18Z" fill="#fff" stroke="#5a62a8" stroke-width="0.8"/><path d="M235.20 272.78 L236.70 275.18 L233.70 275.18Z" fill="#fff" stroke="#5a62a8" stroke-width="0.8"/><circle cx="56.00" cy="273.57" r="1.20" fill="#fff" stroke="#5a62a8" stroke-width="0.9"/><circle cx="81.60" cy="273.85" r="1.20" fill="#fff" stroke="#5a62a8" stroke-width="0.9"/><circle cx="107.20" cy="274.28" r="1.20" fill="#fff" stroke="#5a62a8" stroke-width="0.9"/><circle cx="132.80" cy="274.28" r="1.20" fill="#fff" stroke="#5a62a8" stroke-width="0.9"/><circle cx="158.40" cy="274.28" r="1.20" fill="#fff" stroke="#5a62a8" stroke-width="0.9"/><circle cx="184.00" cy="274.28" r="1.20" fill="#fff" stroke="#5a62a8" stroke-width="0.9"/><circle cx="209.60" cy="274.28" r="1.20" fill="#fff" stroke="#5a62a8" stroke-width="0.9"/><circle cx="235.20" cy="274.28" r="1.20" fill="#fff" stroke="#5a62a8" stroke-width="0.9"/><path d="M56.00 262.62 L58.10 266.42 L53.90 266.42Z" fill="#283080"/><path d="M81.60 262.62 L83.70 266.42 L79.50 266.42Z" fill="#283080"/><path d="M107.20 262.62 L109.30 266.42 L105.10 266.42Z" fill="#283080"/><path d="M132.80 263.18 L134.90 266.98 L130.70 266.98Z" fill="#283080"/><path d="M158.40 264.88 L160.50 268.68 L156.30 268.68Z" fill="#283080"/><path d="M184.00 264.88 L186.10 268.68 L181.90 268.68Z" fill="#283080"/><path d="M209.60 264.88 L211.70 268.68 L207.50 268.68Z" fill="#283080"/><path d="M235.20 266.85 L237.30 270.65 L233.10 270.65Z" fill="#283080"/><rect x="54.10" y="250.77" width="3.80" height="3.80" fill="#283080"/><rect x="79.70" y="253.31" width="3.80" height="3.80" fill="#283080"/><rect x="105.30" y="257.13" width="3.80" height="3.80" fill="#283080"/><rect x="130.90" y="257.83" width="3.80" height="3.80" fill="#283080"/><rect x="156.50" y="261.22" width="3.80" height="3.80" fill="#283080"/><rect x="182.10" y="261.22" width="3.80" height="3.80" fill="#283080"/><rect x="207.70" y="261.22" width="3.80" height="3.80" fill="#283080"/><rect x="233.30" y="263.62" width="3.80" height="3.80" fill="#283080"/><line x1="250.40" y1="182.50" x2="266.90" y2="182.50" stroke="#c05a5a" stroke-width="0.8" /><path d="M258.70 180.80 L260.40 183.60 L257.00 183.60Z" fill="#fff" stroke="#a03a40" stroke-width="0.8"/><text x="268.60" y="185.36" font-size="8.0" text-anchor="start" fill="#222" stroke="#222" stroke-width="0.22" >Low 10</text><line x1="250.40" y1="195.30" x2="266.90" y2="195.30" stroke="#c05a5a" stroke-width="0.8" /><circle cx="258.70" cy="195.30" r="1.40" fill="#fff" stroke="#a03a40" stroke-width="0.9"/><text x="268.60" y="198.16" font-size="8.0" text-anchor="start" fill="#222" stroke="#222" stroke-width="0.22" >Low 100</text><line x1="250.40" y1="208.20" x2="266.90" y2="208.20" stroke="#b84a4a" stroke-width="0.8" /><path d="M258.70 206.10 L260.70 209.70 L256.70 209.70Z" fill="#8c1c2c"/><text x="268.60" y="211.06" font-size="8.0" text-anchor="start" fill="#222" stroke="#222" stroke-width="0.22" >Low 0.5K</text><line x1="250.40" y1="221.10" x2="266.90" y2="221.10" stroke="#b84a4a" stroke-width="0.8" /><rect x="256.90" y="219.30" width="3.60" height="3.60" fill="#8c1c2c"/><text x="268.60" y="223.96" font-size="8.0" text-anchor="start" fill="#222" stroke="#222" stroke-width="0.22" >Low 2.5K</text><line x1="250.40" y1="234.20" x2="266.90" y2="234.20" stroke="#6870b8" stroke-width="0.8" /><path d="M258.70 232.50 L260.40 235.30 L257.00 235.30Z" fill="#fff" stroke="#5a62a8" stroke-width="0.8"/><text x="268.60" y="237.06" font-size="8.0" text-anchor="start" fill="#222" stroke="#222" stroke-width="0.22" >High 10</text><line x1="250.40" y1="246.90" x2="266.90" y2="246.90" stroke="#6870b8" stroke-width="0.8" /><circle cx="258.70" cy="246.90" r="1.40" fill="#fff" stroke="#5a62a8" stroke-width="0.9"/><text x="268.60" y="249.76" font-size="8.0" text-anchor="start" fill="#222" stroke="#222" stroke-width="0.22" >High 100</text><line x1="250.40" y1="260.00" x2="266.90" y2="260.00" stroke="#5560b4" stroke-width="0.8" /><path d="M258.70 257.90 L260.70 261.50 L256.70 261.50Z" fill="#283080"/><text x="268.60" y="262.86" font-size="8.0" text-anchor="start" fill="#222" stroke="#222" stroke-width="0.22" >High 0.5K</text><line x1="250.40" y1="272.50" x2="266.90" y2="272.50" stroke="#5560b4" stroke-width="0.8" /><rect x="256.90" y="270.70" width="3.60" height="3.60" fill="#283080"/><text x="268.60" y="275.36" font-size="8.0" text-anchor="start" fill="#222" stroke="#222" stroke-width="0.22" >High 2.5K</text><text x="2.40" y="336.20" font-size="17.6" font-weight="bold" fill="#000" stroke="#000" stroke-width="0.1">D</text><line x1="46.90" y1="347.10" x2="46.90" y2="442.60" stroke="#c8c8c8" stroke-width="1" /><line x1="46.90" y1="442.60" x2="157.00" y2="442.60" stroke="#c8c8c8" stroke-width="1" /><line x1="44.70" y1="442.60" x2="46.90" y2="442.60" stroke="#c8c8c8" stroke-width="1" /><text x="41.20" y="445.43" font-size="7.9" text-anchor="end" fill="#1e1e1e" stroke="#1e1e1e" stroke-width="0.22" >0%</text><line x1="44.70" y1="423.50" x2="46.90" y2="423.50" stroke="#c8c8c8" stroke-width="1" /><text x="41.20" y="426.33" font-size="7.9" text-anchor="end" fill="#1e1e1e" stroke="#1e1e1e" stroke-width="0.22" >20%</text><line x1="44.70" y1="404.40" x2="46.90" y2="404.40" stroke="#c8c8c8" stroke-width="1" /><text x="41.20" y="407.23" font-size="7.9" text-anchor="end" fill="#1e1e1e" stroke="#1e1e1e" stroke-width="0.22" >40%</text><line x1="44.70" y1="385.30" x2="46.90" y2="385.30" stroke="#c8c8c8" stroke-width="1" /><text x="41.20" y="388.13" font-size="7.9" text-anchor="end" fill="#1e1e1e" stroke="#1e1e1e" stroke-width="0.22" >60%</text><line x1="44.70" y1="366.20" x2="46.90" y2="366.20" stroke="#c8c8c8" stroke-width="1" /><text x="41.20" y="369.03" font-size="7.9" text-anchor="end" fill="#1e1e1e" stroke="#1e1e1e" stroke-width="0.22" >80%</text><line x1="44.70" y1="347.10" x2="46.90" y2="347.10" stroke="#c8c8c8" stroke-width="1" /><text x="41.20" y="349.93" font-size="7.9" text-anchor="end" fill="#1e1e1e" stroke="#1e1e1e" stroke-width="0.22" >100%</text><rect x="69.50" y="347.10" width="27.00" height="95.50" fill="#8b1a1a" stroke="#5a1010" stroke-width="0.6" /><rect x="109.00" y="365.72" width="26.70" height="76.88" fill="#2a2e84" stroke="#1a1d55" stroke-width="0.6" /><line x1="82.40" y1="339.94" x2="82.40" y2="353.31" stroke="#333" stroke-width="0.9" /><line x1="80.00" y1="339.94" x2="84.80" y2="339.94" stroke="#333" stroke-width="0.9" /><line x1="80.00" y1="353.31" x2="84.80" y2="353.31" stroke="#333" stroke-width="0.9" /><line x1="123.00" y1="356.46" x2="123.00" y2="375.27" stroke="#333" stroke-width="0.9" /><line x1="120.60" y1="356.46" x2="125.40" y2="356.46" stroke="#333" stroke-width="0.9" /><line x1="120.60" y1="375.27" x2="125.40" y2="375.27" stroke="#333" stroke-width="0.9" /><path d="M82.7 335.6 V329.8 H123.0 V337.2" fill="none" stroke="#666" stroke-width="0.9"/><circle cx="103.00" cy="326.60" r="1.3" fill="#111"/><text x="83.30" y="453.20" font-size="8.1" text-anchor="middle" font-weight="bold" fill="#111" stroke="#111" stroke-width="0.1" >ROS low</text><text x="122.80" y="453.20" font-size="8.1" text-anchor="middle" font-weight="bold" fill="#111" stroke="#111" stroke-width="0.1" >ROS high</text><text transform="translate(5.6,394.2) rotate(-90)" x="0" y="2.83" font-size="7.9" text-anchor="middle" font-weight="bold" fill="#111">Long-term multileanage</text><text transform="translate(14.2,394.2) rotate(-90)" x="0" y="2.86" font-size="8.0" text-anchor="middle" font-weight="bold" fill="#111">reconstituted</text><line x1="192.00" y1="351.00" x2="192.00" y2="441.80" stroke="#c8c8c8" stroke-width="1" /><line x1="192.00" y1="441.80" x2="349.00" y2="441.80" stroke="#c8c8c8" stroke-width="1" /><line x1="190.00" y1="441.80" x2="192.00" y2="441.80" stroke="#c8c8c8" stroke-width="1" /><text x="187.20" y="444.63" font-size="7.9" text-anchor="end" fill="#1e1e1e" stroke="#1e1e1e" stroke-width="0.22" >0%</text><line x1="190.00" y1="423.64" x2="192.00" y2="423.64" stroke="#c8c8c8" stroke-width="1" /><text x="187.20" y="426.47" font-size="7.9" text-anchor="end" fill="#1e1e1e" stroke="#1e1e1e" stroke-width="0.22" >20%</text><line x1="190.00" y1="405.48" x2="192.00" y2="405.48" stroke="#c8c8c8" stroke-width="1" /><text x="187.20" y="408.31" font-size="7.9" text-anchor="end" fill="#1e1e1e" stroke="#1e1e1e" stroke-width="0.22" >40%</text><line x1="190.00" y1="387.32" x2="192.00" y2="387.32" stroke="#c8c8c8" stroke-width="1" /><text x="187.20" y="390.15" font-size="7.9" text-anchor="end" fill="#1e1e1e" stroke="#1e1e1e" stroke-width="0.22" >60%</text><line x1="190.00" y1="369.16" x2="192.00" y2="369.16" stroke="#c8c8c8" stroke-width="1" /><text x="187.20" y="371.99" font-size="7.9" text-anchor="end" fill="#1e1e1e" stroke="#1e1e1e" stroke-width="0.22" >80%</text><line x1="190.00" y1="351.00" x2="192.00" y2="351.00" stroke="#c8c8c8" stroke-width="1" /><text x="187.20" y="353.83" font-size="7.9" text-anchor="end" fill="#1e1e1e" stroke="#1e1e1e" stroke-width="0.22" >100%</text><line x1="269.70" y1="441.80" x2="269.70" y2="443.80" stroke="#c8c8c8" stroke-width="1" /><rect x="208.00" y="422.19" width="24.20" height="19.61" fill="#8b1a1a" stroke="#5a1010" stroke-width="0.6" /><rect x="232.20" y="394.58" width="24.10" height="47.22" fill="#2a2e84" stroke="#1a1d55" stroke-width="0.6" /><line x1="220.10" y1="421.10" x2="220.10" y2="423.19" stroke="#333" stroke-width="0.9" /><line x1="217.90" y1="421.10" x2="222.30" y2="421.10" stroke="#333" stroke-width="0.9" /><line x1="217.90" y1="423.19" x2="222.30" y2="423.19" stroke="#333" stroke-width="0.9" /><line x1="244.30" y1="392.04" x2="244.30" y2="396.85" stroke="#333" stroke-width="0.9" /><line x1="242.10" y1="392.04" x2="246.50" y2="392.04" stroke="#333" stroke-width="0.9" /><line x1="242.10" y1="396.85" x2="246.50" y2="396.85" stroke="#333" stroke-width="0.9" /><rect x="284.90" y="372.88" width="23.40" height="68.92" fill="#8b1a1a" stroke="#5a1010" stroke-width="0.6" /><rect x="308.30" y="400.40" width="23.90" height="41.40" fill="#2a2e84" stroke="#1a1d55" stroke-width="0.6" /><line x1="296.60" y1="368.25" x2="296.60" y2="377.33" stroke="#333" stroke-width="0.9" /><line x1="294.40" y1="368.25" x2="298.80" y2="368.25" stroke="#333" stroke-width="0.9" /><line x1="294.40" y1="377.33" x2="298.80" y2="377.33" stroke="#333" stroke-width="0.9" /><line x1="320.20" y1="397.31" x2="320.20" y2="403.21" stroke="#333" stroke-width="0.9" /><line x1="318.00" y1="397.31" x2="322.40" y2="397.31" stroke="#333" stroke-width="0.9" /><line x1="318.00" y1="403.21" x2="322.40" y2="403.21" stroke="#333" stroke-width="0.9" /><path d="M219.4 386.2 V379.4 H243.6 V386.2" fill="none" stroke="#666" stroke-width="0.9"/><circle cx="228.80" cy="375.10" r="1.3" fill="#111"/><circle cx="232.80" cy="375.10" r="1.3" fill="#111"/><path d="M295.9 362.3 V355.2 H320.9 V362.3" fill="none" stroke="#666" stroke-width="0.9"/><circle cx="305.70" cy="351.20" r="1.3" fill="#111"/><circle cx="309.70" cy="351.20" r="1.3" fill="#111"/><text x="232.20" y="456.80" font-size="8.1" text-anchor="middle" font-weight="bold" fill="#111" stroke="#111" stroke-width="0.1" >Myeloid</text><text x="308.30" y="456.40" font-size="8.1" text-anchor="middle" font-weight="bold" fill="#111" stroke="#111" stroke-width="0.1" >Lymphoid</text><rect x="342.10" y="387.40" width="4.50" height="4.50" fill="#6e1818" stroke="#301010" stroke-width="0.7" /><text x="349.30" y="392.70" font-size="8.1" text-anchor="start" fill="#1e1e1e" stroke="#1e1e1e" stroke-width="0.22" >ROS low</text><rect x="342.10" y="400.60" width="4.50" height="4.50" fill="#23265e" stroke="#101030" stroke-width="0.7" /><text x="349.30" y="406.00" font-size="8.1" text-anchor="start" fill="#1e1e1e" stroke="#1e1e1e" stroke-width="0.22" >ROS high</text>
</svg>
</body></html>
